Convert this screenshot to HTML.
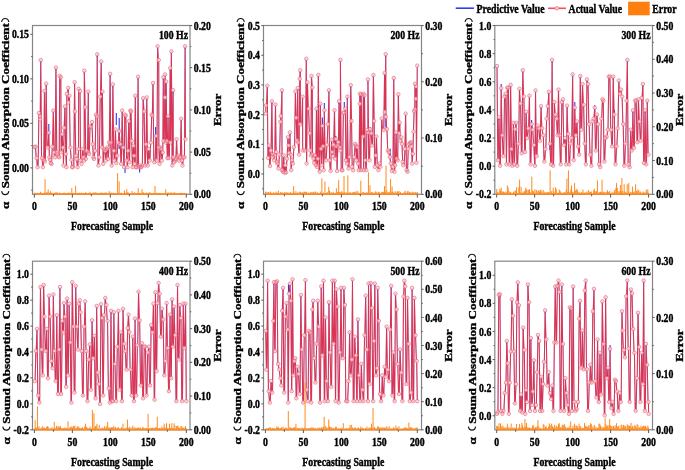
<!DOCTYPE html><html><head><meta charset="utf-8"><style>html,body{margin:0;padding:0;background:#fff;}svg{display:block;}</style></head><body><div id="w"><svg width="685" height="470" viewBox="0 0 685 470" font-family='"Liberation Serif", serif' font-weight="bold" font-size="13.3" style="will-change:transform">
<style>text{stroke:#000;stroke-width:0.45px;fill:#000}</style>
<rect width="685" height="470" fill="#fff"/>
<clipPath id="c0"><rect x="32.5" y="25.5" width="157.5" height="168.8"/></clipPath>
<g clip-path="url(#c0)">
<polyline points="34.70,147.13 35.46,146.64 36.26,158.11 36.61,158.11 37.41,167.13 37.59,167.13 38.10,167.13 38.90,113.03 39.70,116.31 39.89,116.31 40.21,119.26 40.74,60.07 41.54,158.11 42.02,158.11 42.84,167.13 43.02,167.13 43.82,159.75 44.47,91.04 44.80,161.39 45.39,161.39 46.19,83.58 46.99,147.46 47.43,147.46 47.94,147.46 48.74,132.70 49.39,157.30 50.05,159.75 50.70,163.03 51.52,163.85 52.34,146.64 52.53,146.64 53.33,110.57 53.98,152.38 54.78,157.30 54.97,157.30 55.14,157.30 55.94,67.53 56.74,152.38 56.93,152.38 57.59,154.02 58.39,156.48 58.57,156.48 59.23,157.30 59.67,75.84 60.47,77.28 60.81,77.28 61.20,152.38 61.38,152.38 62.18,134.34 62.98,147.46 63.16,147.46 63.49,165.49 64.15,127.79 64.97,106.48 65.79,154.02 66.44,167.13 66.84,93.91 67.47,93.91 68.27,87.89 68.41,102.38 68.59,102.38 69.39,95.82 70.19,147.46 70.38,147.46 71.18,159.75 71.36,159.75 72.02,167.13 73.78,167.13 74.58,82.15 74.97,111.39 75.77,155.66 75.95,155.66 76.61,158.93 77.41,167.13 77.59,167.13 77.77,167.13 78.57,149.10 78.59,88.75 79.39,91.04 80.03,91.04 80.54,160.57 81.34,163.85 81.52,163.85 81.71,163.85 82.51,149.10 83.31,157.30 83.49,157.30 84.15,160.57 84.33,70.68 85.13,107.30 85.79,158.93 85.97,158.93 86.77,150.74 87.54,150.74 88.34,91.61 88.41,152.38 89.07,154.02 89.25,154.02 90.05,126.15 90.85,126.97 91.03,126.97 91.22,126.97 92.02,122.05 92.67,144.18 93.33,157.30 93.98,158.93 94.17,158.93 94.97,150.74 95.15,150.74 95.95,114.67 96.75,116.31 96.93,116.31 97.23,54.34 98.03,165.49 98.41,165.49 99.23,157.30 99.41,157.30 100.21,96.64 100.44,96.64 101.24,61.51 102.04,147.46 102.18,147.46 102.39,91.61 103.16,163.85 103.35,163.85 104.15,149.10 104.95,150.74 105.13,150.74 105.79,160.57 105.97,160.57 106.77,149.10 107.43,147.46 108.08,158.93 108.27,158.93 109.07,142.54 109.33,142.54 110.13,73.84 110.70,142.54 111.50,165.49 111.69,165.49 112.07,165.49 112.87,84.44 113.67,150.74 113.82,150.74 114.31,160.57 114.66,160.57 115.46,129.43 116.28,163.03 116.46,163.03 117.26,155.66 117.92,142.54 118.43,142.54 119.23,131.07 120.03,144.18 120.21,144.18 121.01,163.85 121.20,163.85 121.38,163.85 122.18,110.57 122.98,147.46 123.16,147.46 123.96,167.13 124.15,167.13 124.80,114.67 125.60,115.49 125.79,115.49 126.59,160.57 126.77,160.57 127.43,167.13 128.08,150.74 128.74,121.23 129.39,162.21 129.58,162.21 130.38,110.57 131.03,111.39 131.69,140.90 132.49,167.13 132.67,167.13 133.33,145.82 133.98,155.66 134.64,163.85 135.30,95.82 135.95,167.13 137.30,167.13 138.10,76.70 138.57,167.13 138.76,167.13 139.56,165.49 140.36,167.13 140.54,167.13 141.20,167.13 141.38,167.13 142.18,165.49 142.36,165.49 143.16,98.28 143.96,111.39 144.15,111.39 144.95,165.49 145.13,165.49 145.31,165.49 146.11,144.18 146.77,97.46 147.57,165.49 147.75,165.49 147.94,165.49 148.74,149.10 149.54,160.57 149.72,160.57 149.90,160.57 150.70,142.54 150.89,142.54 151.69,114.67 152.31,115.49 153.01,83.01 153.81,162.21 154.28,162.21 155.12,162.21 155.92,135.98 156.72,160.57 156.90,160.57 157.60,46.31 158.40,60.07 158.75,60.07 158.87,147.46 159.52,163.85 159.71,163.85 160.51,147.46 161.16,149.10 161.82,160.57 162.00,160.57 162.80,152.38 163.33,77.28 163.46,140.90 164.25,140.90 165.05,74.41 165.10,97.46 165.75,142.54 166.20,81.58 166.74,140.90 167.39,158.11 168.05,116.31 168.70,158.11 169.42,158.11 170.22,68.10 170.34,142.54 170.56,142.54 171.36,51.47 172.16,165.49 172.31,165.49 173.08,90.18 173.30,157.30 174.10,162.21 174.28,162.21 174.46,162.21 175.26,160.57 175.92,158.93 176.57,139.26 177.23,157.30 177.41,157.30 178.21,155.66 179.01,160.57 179.20,160.57 179.85,157.30 180.36,157.30 181.16,118.77 181.82,160.57 182.48,165.49 182.66,165.49 183.46,157.30 183.64,157.30 184.44,157.30 185.13,46.31 185.43,139.26" fill="none" stroke="#3030f0" stroke-width="0.35" stroke-linejoin="round"/>
<path d="M48.80 124.00V135.00M116.30 113.00V125.00M119.20 118.00V149.00M125.00 166.00V173.00M139.60 166.00V172.60M155.60 127.00V137.00" stroke="#3535ee" stroke-width="1.1"/>
<polyline points="34.70,147.13 35.46,146.64 36.26,158.11 36.61,158.11 37.41,167.13 37.59,167.13 38.10,167.13 38.90,113.03 39.70,116.31 39.89,116.31 40.21,119.26 40.74,60.07 41.54,158.11 42.02,158.11 42.84,167.13 43.02,167.13 43.82,159.75 44.47,91.04 44.80,161.39 45.39,161.39 46.19,83.58 46.99,147.46 47.43,147.46 47.94,147.46 48.74,132.70 49.39,157.30 50.05,159.75 50.70,163.03 51.52,163.85 52.34,146.64 52.53,146.64 53.33,110.57 53.98,152.38 54.78,157.30 54.97,157.30 55.14,157.30 55.94,67.53 56.74,152.38 56.93,152.38 57.59,154.02 58.39,156.48 58.57,156.48 59.23,157.30 59.67,75.84 60.47,77.28 60.81,77.28 61.20,152.38 61.38,152.38 62.18,134.34 62.98,147.46 63.16,147.46 63.49,165.49 64.15,127.79 64.97,106.48 65.79,154.02 66.44,167.13 66.84,93.91 67.47,93.91 68.27,87.89 68.41,102.38 68.59,102.38 69.39,95.82 70.19,147.46 70.38,147.46 71.18,159.75 71.36,159.75 72.02,167.13 73.78,167.13 74.58,82.15 74.97,111.39 75.77,155.66 75.95,155.66 76.61,158.93 77.41,167.13 77.59,167.13 77.77,167.13 78.57,149.10 78.59,88.75 79.39,91.04 80.03,91.04 80.54,160.57 81.34,163.85 81.52,163.85 81.71,163.85 82.51,149.10 83.31,157.30 83.49,157.30 84.15,160.57 84.33,70.68 85.13,107.30 85.79,158.93 85.97,158.93 86.77,150.74 87.54,150.74 88.34,91.61 88.41,152.38 89.07,154.02 89.25,154.02 90.05,126.15 90.85,126.97 91.03,126.97 91.22,126.97 92.02,122.05 92.67,144.18 93.33,157.30 93.98,158.93 94.17,158.93 94.97,150.74 95.15,150.74 95.95,114.67 96.75,116.31 96.93,116.31 97.23,54.34 98.03,165.49 98.41,165.49 99.23,157.30 99.41,157.30 100.21,96.64 100.44,96.64 101.24,61.51 102.04,147.46 102.18,147.46 102.39,91.61 103.16,163.85 103.35,163.85 104.15,149.10 104.95,150.74 105.13,150.74 105.79,160.57 105.97,160.57 106.77,149.10 107.43,147.46 108.08,158.93 108.27,158.93 109.07,142.54 109.33,142.54 110.13,73.84 110.70,142.54 111.50,165.49 111.69,165.49 112.07,165.49 112.87,84.44 113.67,150.74 113.82,150.74 114.31,160.57 114.66,160.57 115.46,129.43 116.28,163.03 116.46,163.03 117.26,155.66 117.92,142.54 118.43,142.54 119.23,131.07 120.03,144.18 120.21,144.18 121.01,163.85 121.20,163.85 121.38,163.85 122.18,110.57 122.98,147.46 123.16,147.46 123.96,167.13 124.15,167.13 124.80,114.67 125.60,115.49 125.79,115.49 126.59,160.57 126.77,160.57 127.43,167.13 128.08,150.74 128.74,121.23 129.39,162.21 129.58,162.21 130.38,110.57 131.03,111.39 131.69,140.90 132.49,167.13 132.67,167.13 133.33,145.82 133.98,155.66 134.64,163.85 135.30,95.82 135.95,167.13 137.30,167.13 138.10,76.70 138.57,167.13 138.76,167.13 139.56,165.49 140.36,167.13 140.54,167.13 141.20,167.13 141.38,167.13 142.18,165.49 142.36,165.49 143.16,98.28 143.96,111.39 144.15,111.39 144.95,165.49 145.13,165.49 145.31,165.49 146.11,144.18 146.77,97.46 147.57,165.49 147.75,165.49 147.94,165.49 148.74,149.10 149.54,160.57 149.72,160.57 149.90,160.57 150.70,142.54 150.89,142.54 151.69,114.67 152.31,115.49 153.01,83.01 153.81,162.21 154.28,162.21 155.12,162.21 155.92,135.98 156.72,160.57 156.90,160.57 157.60,46.31 158.40,60.07 158.75,60.07 158.87,147.46 159.52,163.85 159.71,163.85 160.51,147.46 161.16,149.10 161.82,160.57 162.00,160.57 162.80,152.38 163.33,77.28 163.46,140.90 164.25,140.90 165.05,74.41 165.10,97.46 165.75,142.54 166.20,81.58 166.74,140.90 167.39,158.11 168.05,116.31 168.70,158.11 169.42,158.11 170.22,68.10 170.34,142.54 170.56,142.54 171.36,51.47 172.16,165.49 172.31,165.49 173.08,90.18 173.30,157.30 174.10,162.21 174.28,162.21 174.46,162.21 175.26,160.57 175.92,158.93 176.57,139.26 177.23,157.30 177.41,157.30 178.21,155.66 179.01,160.57 179.20,160.57 179.85,157.30 180.36,157.30 181.16,118.77 181.82,160.57 182.48,165.49 182.66,165.49 183.46,157.30 183.64,157.30 184.44,157.30 185.13,46.31 185.43,139.26" fill="none" stroke="#dc3450" stroke-width="1.05" stroke-linejoin="round"/>
<path d="M35.46 148.04V149.44M38.90 114.43V115.83M40.74 61.47V62.87M44.47 92.44V93.84M46.19 84.98V86.38M48.74 134.10V135.50M53.33 111.97V113.37M55.94 68.93V70.33M59.67 77.24V78.64M62.18 135.74V137.14M64.97 107.88V109.28M68.27 89.29V90.69M69.39 97.22V98.62M74.58 83.55V84.95M78.59 90.15V91.55M82.51 150.50V151.90M84.33 72.08V73.48M88.34 93.01V94.41M90.05 127.55V128.95M92.02 123.45V124.85M95.95 116.07V117.47M97.23 55.74V57.14M101.24 62.91V64.31M102.39 93.01V94.41M104.15 150.50V151.90M107.43 148.86V150.26M110.13 75.24V76.64M112.87 85.84V87.24M115.46 130.83V132.23M119.23 132.47V133.87M122.18 111.97V113.37M124.80 116.07V117.47M128.74 122.63V124.03M130.38 111.97V113.37M133.33 147.22V148.62M135.30 97.22V98.62M138.10 78.10V79.50M139.56 166.89V168.29M143.16 99.68V101.08M146.77 98.86V100.26M148.74 150.50V151.90M151.69 116.07V117.47M153.01 84.41V85.81M155.92 137.38V138.78M157.60 47.71V49.11M160.51 148.86V150.26M163.33 78.68V80.08M165.05 75.81V77.21M166.20 82.98V84.38M168.05 117.71V119.11M170.22 69.50V70.90M171.36 52.87V54.27M173.08 91.58V92.98M176.57 140.66V142.06M178.21 157.06V158.46M181.16 120.17V121.57M185.13 47.71V49.11" stroke="#5040e0" stroke-width="1.1" opacity="0.8"/>
<path d="M32.95 147.13a1.75 1.75 0 1 0 3.5 0a1.75 1.75 0 1 0 -3.5 0M33.71 146.64a1.75 1.75 0 1 0 3.5 0a1.75 1.75 0 1 0 -3.5 0M34.86 158.11a1.75 1.75 0 1 0 3.5 0a1.75 1.75 0 1 0 -3.5 0M35.84 167.13a1.75 1.75 0 1 0 3.5 0a1.75 1.75 0 1 0 -3.5 0M37.15 113.03a1.75 1.75 0 1 0 3.5 0a1.75 1.75 0 1 0 -3.5 0M38.14 116.31a1.75 1.75 0 1 0 3.5 0a1.75 1.75 0 1 0 -3.5 0M38.46 119.26a1.75 1.75 0 1 0 3.5 0a1.75 1.75 0 1 0 -3.5 0M38.99 60.07a1.75 1.75 0 1 0 3.5 0a1.75 1.75 0 1 0 -3.5 0M40.27 158.11a1.75 1.75 0 1 0 3.5 0a1.75 1.75 0 1 0 -3.5 0M41.09 167.13a1.75 1.75 0 1 0 3.5 0a1.75 1.75 0 1 0 -3.5 0M42.07 159.75a1.75 1.75 0 1 0 3.5 0a1.75 1.75 0 1 0 -3.5 0M42.72 91.04a1.75 1.75 0 1 0 3.5 0a1.75 1.75 0 1 0 -3.5 0M43.05 161.39a1.75 1.75 0 1 0 3.5 0a1.75 1.75 0 1 0 -3.5 0M44.44 83.58a1.75 1.75 0 1 0 3.5 0a1.75 1.75 0 1 0 -3.5 0M45.68 147.46a1.75 1.75 0 1 0 3.5 0a1.75 1.75 0 1 0 -3.5 0M46.99 132.70a1.75 1.75 0 1 0 3.5 0a1.75 1.75 0 1 0 -3.5 0M47.64 157.30a1.75 1.75 0 1 0 3.5 0a1.75 1.75 0 1 0 -3.5 0M48.30 159.75a1.75 1.75 0 1 0 3.5 0a1.75 1.75 0 1 0 -3.5 0M48.95 163.03a1.75 1.75 0 1 0 3.5 0a1.75 1.75 0 1 0 -3.5 0M49.77 163.85a1.75 1.75 0 1 0 3.5 0a1.75 1.75 0 1 0 -3.5 0M50.59 146.64a1.75 1.75 0 1 0 3.5 0a1.75 1.75 0 1 0 -3.5 0M51.58 110.57a1.75 1.75 0 1 0 3.5 0a1.75 1.75 0 1 0 -3.5 0M52.23 152.38a1.75 1.75 0 1 0 3.5 0a1.75 1.75 0 1 0 -3.5 0M53.22 157.30a1.75 1.75 0 1 0 3.5 0a1.75 1.75 0 1 0 -3.5 0M54.19 67.53a1.75 1.75 0 1 0 3.5 0a1.75 1.75 0 1 0 -3.5 0M55.18 152.38a1.75 1.75 0 1 0 3.5 0a1.75 1.75 0 1 0 -3.5 0M55.84 154.02a1.75 1.75 0 1 0 3.5 0a1.75 1.75 0 1 0 -3.5 0M56.82 156.48a1.75 1.75 0 1 0 3.5 0a1.75 1.75 0 1 0 -3.5 0M57.48 157.30a1.75 1.75 0 1 0 3.5 0a1.75 1.75 0 1 0 -3.5 0M57.92 75.84a1.75 1.75 0 1 0 3.5 0a1.75 1.75 0 1 0 -3.5 0M59.06 77.28a1.75 1.75 0 1 0 3.5 0a1.75 1.75 0 1 0 -3.5 0M59.45 152.38a1.75 1.75 0 1 0 3.5 0a1.75 1.75 0 1 0 -3.5 0M60.43 134.34a1.75 1.75 0 1 0 3.5 0a1.75 1.75 0 1 0 -3.5 0M61.41 147.46a1.75 1.75 0 1 0 3.5 0a1.75 1.75 0 1 0 -3.5 0M61.74 165.49a1.75 1.75 0 1 0 3.5 0a1.75 1.75 0 1 0 -3.5 0M62.40 127.79a1.75 1.75 0 1 0 3.5 0a1.75 1.75 0 1 0 -3.5 0M63.22 106.48a1.75 1.75 0 1 0 3.5 0a1.75 1.75 0 1 0 -3.5 0M64.04 154.02a1.75 1.75 0 1 0 3.5 0a1.75 1.75 0 1 0 -3.5 0M64.69 167.13a1.75 1.75 0 1 0 3.5 0a1.75 1.75 0 1 0 -3.5 0M65.09 93.91a1.75 1.75 0 1 0 3.5 0a1.75 1.75 0 1 0 -3.5 0M66.52 87.89a1.75 1.75 0 1 0 3.5 0a1.75 1.75 0 1 0 -3.5 0M66.66 102.38a1.75 1.75 0 1 0 3.5 0a1.75 1.75 0 1 0 -3.5 0M67.64 95.82a1.75 1.75 0 1 0 3.5 0a1.75 1.75 0 1 0 -3.5 0M68.63 147.46a1.75 1.75 0 1 0 3.5 0a1.75 1.75 0 1 0 -3.5 0M69.61 159.75a1.75 1.75 0 1 0 3.5 0a1.75 1.75 0 1 0 -3.5 0M70.27 167.13a1.75 1.75 0 1 0 3.5 0a1.75 1.75 0 1 0 -3.5 0M72.83 82.15a1.75 1.75 0 1 0 3.5 0a1.75 1.75 0 1 0 -3.5 0M73.22 111.39a1.75 1.75 0 1 0 3.5 0a1.75 1.75 0 1 0 -3.5 0M74.20 155.66a1.75 1.75 0 1 0 3.5 0a1.75 1.75 0 1 0 -3.5 0M74.86 158.93a1.75 1.75 0 1 0 3.5 0a1.75 1.75 0 1 0 -3.5 0M75.84 167.13a1.75 1.75 0 1 0 3.5 0a1.75 1.75 0 1 0 -3.5 0M76.82 149.10a1.75 1.75 0 1 0 3.5 0a1.75 1.75 0 1 0 -3.5 0M76.84 88.75a1.75 1.75 0 1 0 3.5 0a1.75 1.75 0 1 0 -3.5 0M78.28 91.04a1.75 1.75 0 1 0 3.5 0a1.75 1.75 0 1 0 -3.5 0M78.79 160.57a1.75 1.75 0 1 0 3.5 0a1.75 1.75 0 1 0 -3.5 0M79.77 163.85a1.75 1.75 0 1 0 3.5 0a1.75 1.75 0 1 0 -3.5 0M80.76 149.10a1.75 1.75 0 1 0 3.5 0a1.75 1.75 0 1 0 -3.5 0M81.74 157.30a1.75 1.75 0 1 0 3.5 0a1.75 1.75 0 1 0 -3.5 0M82.40 160.57a1.75 1.75 0 1 0 3.5 0a1.75 1.75 0 1 0 -3.5 0M82.58 70.68a1.75 1.75 0 1 0 3.5 0a1.75 1.75 0 1 0 -3.5 0M83.38 107.30a1.75 1.75 0 1 0 3.5 0a1.75 1.75 0 1 0 -3.5 0M84.04 158.93a1.75 1.75 0 1 0 3.5 0a1.75 1.75 0 1 0 -3.5 0M85.02 150.74a1.75 1.75 0 1 0 3.5 0a1.75 1.75 0 1 0 -3.5 0M86.59 91.61a1.75 1.75 0 1 0 3.5 0a1.75 1.75 0 1 0 -3.5 0M86.66 152.38a1.75 1.75 0 1 0 3.5 0a1.75 1.75 0 1 0 -3.5 0M87.32 154.02a1.75 1.75 0 1 0 3.5 0a1.75 1.75 0 1 0 -3.5 0M88.30 126.15a1.75 1.75 0 1 0 3.5 0a1.75 1.75 0 1 0 -3.5 0M89.28 126.97a1.75 1.75 0 1 0 3.5 0a1.75 1.75 0 1 0 -3.5 0M90.27 122.05a1.75 1.75 0 1 0 3.5 0a1.75 1.75 0 1 0 -3.5 0M90.92 144.18a1.75 1.75 0 1 0 3.5 0a1.75 1.75 0 1 0 -3.5 0M91.58 157.30a1.75 1.75 0 1 0 3.5 0a1.75 1.75 0 1 0 -3.5 0M92.23 158.93a1.75 1.75 0 1 0 3.5 0a1.75 1.75 0 1 0 -3.5 0M93.22 150.74a1.75 1.75 0 1 0 3.5 0a1.75 1.75 0 1 0 -3.5 0M94.20 114.67a1.75 1.75 0 1 0 3.5 0a1.75 1.75 0 1 0 -3.5 0M95.18 116.31a1.75 1.75 0 1 0 3.5 0a1.75 1.75 0 1 0 -3.5 0M95.48 54.34a1.75 1.75 0 1 0 3.5 0a1.75 1.75 0 1 0 -3.5 0M96.66 165.49a1.75 1.75 0 1 0 3.5 0a1.75 1.75 0 1 0 -3.5 0M97.48 157.30a1.75 1.75 0 1 0 3.5 0a1.75 1.75 0 1 0 -3.5 0M98.46 96.64a1.75 1.75 0 1 0 3.5 0a1.75 1.75 0 1 0 -3.5 0M99.49 61.51a1.75 1.75 0 1 0 3.5 0a1.75 1.75 0 1 0 -3.5 0M100.43 147.46a1.75 1.75 0 1 0 3.5 0a1.75 1.75 0 1 0 -3.5 0M100.64 91.61a1.75 1.75 0 1 0 3.5 0a1.75 1.75 0 1 0 -3.5 0M101.41 163.85a1.75 1.75 0 1 0 3.5 0a1.75 1.75 0 1 0 -3.5 0M102.40 149.10a1.75 1.75 0 1 0 3.5 0a1.75 1.75 0 1 0 -3.5 0M103.38 150.74a1.75 1.75 0 1 0 3.5 0a1.75 1.75 0 1 0 -3.5 0M104.04 160.57a1.75 1.75 0 1 0 3.5 0a1.75 1.75 0 1 0 -3.5 0M105.02 149.10a1.75 1.75 0 1 0 3.5 0a1.75 1.75 0 1 0 -3.5 0M105.68 147.46a1.75 1.75 0 1 0 3.5 0a1.75 1.75 0 1 0 -3.5 0M106.33 158.93a1.75 1.75 0 1 0 3.5 0a1.75 1.75 0 1 0 -3.5 0M107.32 142.54a1.75 1.75 0 1 0 3.5 0a1.75 1.75 0 1 0 -3.5 0M108.38 73.84a1.75 1.75 0 1 0 3.5 0a1.75 1.75 0 1 0 -3.5 0M108.95 142.54a1.75 1.75 0 1 0 3.5 0a1.75 1.75 0 1 0 -3.5 0M109.94 165.49a1.75 1.75 0 1 0 3.5 0a1.75 1.75 0 1 0 -3.5 0M111.12 84.44a1.75 1.75 0 1 0 3.5 0a1.75 1.75 0 1 0 -3.5 0M112.07 150.74a1.75 1.75 0 1 0 3.5 0a1.75 1.75 0 1 0 -3.5 0M112.56 160.57a1.75 1.75 0 1 0 3.5 0a1.75 1.75 0 1 0 -3.5 0M113.71 129.43a1.75 1.75 0 1 0 3.5 0a1.75 1.75 0 1 0 -3.5 0M114.53 163.03a1.75 1.75 0 1 0 3.5 0a1.75 1.75 0 1 0 -3.5 0M115.51 155.66a1.75 1.75 0 1 0 3.5 0a1.75 1.75 0 1 0 -3.5 0M116.17 142.54a1.75 1.75 0 1 0 3.5 0a1.75 1.75 0 1 0 -3.5 0M117.48 131.07a1.75 1.75 0 1 0 3.5 0a1.75 1.75 0 1 0 -3.5 0M118.46 144.18a1.75 1.75 0 1 0 3.5 0a1.75 1.75 0 1 0 -3.5 0M119.45 163.85a1.75 1.75 0 1 0 3.5 0a1.75 1.75 0 1 0 -3.5 0M120.43 110.57a1.75 1.75 0 1 0 3.5 0a1.75 1.75 0 1 0 -3.5 0M121.41 147.46a1.75 1.75 0 1 0 3.5 0a1.75 1.75 0 1 0 -3.5 0M122.40 167.13a1.75 1.75 0 1 0 3.5 0a1.75 1.75 0 1 0 -3.5 0M123.05 114.67a1.75 1.75 0 1 0 3.5 0a1.75 1.75 0 1 0 -3.5 0M124.04 115.49a1.75 1.75 0 1 0 3.5 0a1.75 1.75 0 1 0 -3.5 0M125.02 160.57a1.75 1.75 0 1 0 3.5 0a1.75 1.75 0 1 0 -3.5 0M125.68 167.13a1.75 1.75 0 1 0 3.5 0a1.75 1.75 0 1 0 -3.5 0M126.33 150.74a1.75 1.75 0 1 0 3.5 0a1.75 1.75 0 1 0 -3.5 0M126.99 121.23a1.75 1.75 0 1 0 3.5 0a1.75 1.75 0 1 0 -3.5 0M127.64 162.21a1.75 1.75 0 1 0 3.5 0a1.75 1.75 0 1 0 -3.5 0M128.63 110.57a1.75 1.75 0 1 0 3.5 0a1.75 1.75 0 1 0 -3.5 0M129.28 111.39a1.75 1.75 0 1 0 3.5 0a1.75 1.75 0 1 0 -3.5 0M129.94 140.90a1.75 1.75 0 1 0 3.5 0a1.75 1.75 0 1 0 -3.5 0M130.92 167.13a1.75 1.75 0 1 0 3.5 0a1.75 1.75 0 1 0 -3.5 0M131.58 145.82a1.75 1.75 0 1 0 3.5 0a1.75 1.75 0 1 0 -3.5 0M132.23 155.66a1.75 1.75 0 1 0 3.5 0a1.75 1.75 0 1 0 -3.5 0M132.89 163.85a1.75 1.75 0 1 0 3.5 0a1.75 1.75 0 1 0 -3.5 0M133.55 95.82a1.75 1.75 0 1 0 3.5 0a1.75 1.75 0 1 0 -3.5 0M134.20 167.13a1.75 1.75 0 1 0 3.5 0a1.75 1.75 0 1 0 -3.5 0M136.35 76.70a1.75 1.75 0 1 0 3.5 0a1.75 1.75 0 1 0 -3.5 0M136.82 167.13a1.75 1.75 0 1 0 3.5 0a1.75 1.75 0 1 0 -3.5 0M137.81 165.49a1.75 1.75 0 1 0 3.5 0a1.75 1.75 0 1 0 -3.5 0M138.79 167.13a1.75 1.75 0 1 0 3.5 0a1.75 1.75 0 1 0 -3.5 0M139.45 167.13a1.75 1.75 0 1 0 3.5 0a1.75 1.75 0 1 0 -3.5 0M140.43 165.49a1.75 1.75 0 1 0 3.5 0a1.75 1.75 0 1 0 -3.5 0M141.41 98.28a1.75 1.75 0 1 0 3.5 0a1.75 1.75 0 1 0 -3.5 0M142.40 111.39a1.75 1.75 0 1 0 3.5 0a1.75 1.75 0 1 0 -3.5 0M143.38 165.49a1.75 1.75 0 1 0 3.5 0a1.75 1.75 0 1 0 -3.5 0M144.36 144.18a1.75 1.75 0 1 0 3.5 0a1.75 1.75 0 1 0 -3.5 0M145.02 97.46a1.75 1.75 0 1 0 3.5 0a1.75 1.75 0 1 0 -3.5 0M146.00 165.49a1.75 1.75 0 1 0 3.5 0a1.75 1.75 0 1 0 -3.5 0M146.99 149.10a1.75 1.75 0 1 0 3.5 0a1.75 1.75 0 1 0 -3.5 0M147.97 160.57a1.75 1.75 0 1 0 3.5 0a1.75 1.75 0 1 0 -3.5 0M148.95 142.54a1.75 1.75 0 1 0 3.5 0a1.75 1.75 0 1 0 -3.5 0M149.94 114.67a1.75 1.75 0 1 0 3.5 0a1.75 1.75 0 1 0 -3.5 0M150.56 115.49a1.75 1.75 0 1 0 3.5 0a1.75 1.75 0 1 0 -3.5 0M151.26 83.01a1.75 1.75 0 1 0 3.5 0a1.75 1.75 0 1 0 -3.5 0M152.53 162.21a1.75 1.75 0 1 0 3.5 0a1.75 1.75 0 1 0 -3.5 0M154.17 135.98a1.75 1.75 0 1 0 3.5 0a1.75 1.75 0 1 0 -3.5 0M155.15 160.57a1.75 1.75 0 1 0 3.5 0a1.75 1.75 0 1 0 -3.5 0M155.85 46.31a1.75 1.75 0 1 0 3.5 0a1.75 1.75 0 1 0 -3.5 0M157.00 60.07a1.75 1.75 0 1 0 3.5 0a1.75 1.75 0 1 0 -3.5 0M157.12 147.46a1.75 1.75 0 1 0 3.5 0a1.75 1.75 0 1 0 -3.5 0M157.77 163.85a1.75 1.75 0 1 0 3.5 0a1.75 1.75 0 1 0 -3.5 0M158.76 147.46a1.75 1.75 0 1 0 3.5 0a1.75 1.75 0 1 0 -3.5 0M159.41 149.10a1.75 1.75 0 1 0 3.5 0a1.75 1.75 0 1 0 -3.5 0M160.07 160.57a1.75 1.75 0 1 0 3.5 0a1.75 1.75 0 1 0 -3.5 0M161.05 152.38a1.75 1.75 0 1 0 3.5 0a1.75 1.75 0 1 0 -3.5 0M161.58 77.28a1.75 1.75 0 1 0 3.5 0a1.75 1.75 0 1 0 -3.5 0M161.71 140.90a1.75 1.75 0 1 0 3.5 0a1.75 1.75 0 1 0 -3.5 0M163.30 74.41a1.75 1.75 0 1 0 3.5 0a1.75 1.75 0 1 0 -3.5 0M163.35 97.46a1.75 1.75 0 1 0 3.5 0a1.75 1.75 0 1 0 -3.5 0M164.00 142.54a1.75 1.75 0 1 0 3.5 0a1.75 1.75 0 1 0 -3.5 0M164.45 81.58a1.75 1.75 0 1 0 3.5 0a1.75 1.75 0 1 0 -3.5 0M164.99 140.90a1.75 1.75 0 1 0 3.5 0a1.75 1.75 0 1 0 -3.5 0M165.64 158.11a1.75 1.75 0 1 0 3.5 0a1.75 1.75 0 1 0 -3.5 0M166.30 116.31a1.75 1.75 0 1 0 3.5 0a1.75 1.75 0 1 0 -3.5 0M166.95 158.11a1.75 1.75 0 1 0 3.5 0a1.75 1.75 0 1 0 -3.5 0M168.47 68.10a1.75 1.75 0 1 0 3.5 0a1.75 1.75 0 1 0 -3.5 0M168.59 142.54a1.75 1.75 0 1 0 3.5 0a1.75 1.75 0 1 0 -3.5 0M169.61 51.47a1.75 1.75 0 1 0 3.5 0a1.75 1.75 0 1 0 -3.5 0M170.56 165.49a1.75 1.75 0 1 0 3.5 0a1.75 1.75 0 1 0 -3.5 0M171.33 90.18a1.75 1.75 0 1 0 3.5 0a1.75 1.75 0 1 0 -3.5 0M171.55 157.30a1.75 1.75 0 1 0 3.5 0a1.75 1.75 0 1 0 -3.5 0M172.53 162.21a1.75 1.75 0 1 0 3.5 0a1.75 1.75 0 1 0 -3.5 0M173.51 160.57a1.75 1.75 0 1 0 3.5 0a1.75 1.75 0 1 0 -3.5 0M174.17 158.93a1.75 1.75 0 1 0 3.5 0a1.75 1.75 0 1 0 -3.5 0M174.82 139.26a1.75 1.75 0 1 0 3.5 0a1.75 1.75 0 1 0 -3.5 0M175.48 157.30a1.75 1.75 0 1 0 3.5 0a1.75 1.75 0 1 0 -3.5 0M176.46 155.66a1.75 1.75 0 1 0 3.5 0a1.75 1.75 0 1 0 -3.5 0M177.45 160.57a1.75 1.75 0 1 0 3.5 0a1.75 1.75 0 1 0 -3.5 0M178.10 157.30a1.75 1.75 0 1 0 3.5 0a1.75 1.75 0 1 0 -3.5 0M179.41 118.77a1.75 1.75 0 1 0 3.5 0a1.75 1.75 0 1 0 -3.5 0M180.07 160.57a1.75 1.75 0 1 0 3.5 0a1.75 1.75 0 1 0 -3.5 0M180.73 165.49a1.75 1.75 0 1 0 3.5 0a1.75 1.75 0 1 0 -3.5 0M181.71 157.30a1.75 1.75 0 1 0 3.5 0a1.75 1.75 0 1 0 -3.5 0M182.69 157.30a1.75 1.75 0 1 0 3.5 0a1.75 1.75 0 1 0 -3.5 0M183.38 46.31a1.75 1.75 0 1 0 3.5 0a1.75 1.75 0 1 0 -3.5 0M183.68 139.26a1.75 1.75 0 1 0 3.5 0a1.75 1.75 0 1 0 -3.5 0M71.00 167.13a1.75 1.75 0 1 0 3.5 0a1.75 1.75 0 1 0 -3.5 0M134.80 167.13a1.75 1.75 0 1 0 3.5 0a1.75 1.75 0 1 0 -3.5 0" fill="#fbe2e5" fill-opacity="0.8" stroke="#ec6c7c" stroke-width="0.7"/>
</g>
<rect x="32.5" y="25.5" width="157.5" height="168.8" fill="none" stroke="#858585" stroke-width="1.2"/>
<path d="M34.40 194.90V192.88M35.16 194.90V192.67M35.93 194.90V192.99M36.69 194.90V193.13M37.45 194.90V192.84M38.22 194.90V193.27M38.98 194.90V193.22M39.74 194.90V192.93M40.51 194.90V191.76M41.27 194.90V193.21M42.03 194.90V192.85M42.80 194.90V193.01M43.56 194.90V193.15M44.32 194.90V192.56M45.09 194.90V179.07M45.85 194.90V193.07M46.61 194.90V192.22M47.38 194.90V192.61M48.14 194.90V189.45M48.90 194.90V192.40M49.67 194.90V193.03M50.43 194.90V191.07M51.19 194.90V192.75M51.96 194.90V192.89M52.72 194.90V193.10M53.48 194.90V193.26M54.25 194.90V192.73M55.01 194.90V193.05M55.77 194.90V192.30M56.54 194.90V192.69M57.30 194.90V192.41M58.06 194.90V193.17M58.83 194.90V193.25M59.59 194.90V192.49M60.35 194.90V193.23M61.12 194.90V193.28M61.88 194.90V193.21M62.64 194.90V192.85M63.41 194.90V193.00M64.17 194.90V192.70M64.93 194.90V192.78M65.70 194.90V193.30M66.46 194.90V193.07M67.22 194.90V193.05M67.99 194.90V192.89M68.75 194.90V192.49M69.51 194.90V193.09M70.28 194.90V192.76M71.04 194.90V193.22M71.80 194.90V188.07M72.57 194.90V193.14M73.33 194.90V192.84M74.09 194.90V192.95M74.86 194.90V193.11M75.62 194.90V185.76M76.38 194.90V193.25M77.15 194.90V192.86M77.91 194.90V192.94M78.67 194.90V193.15M79.44 194.90V192.75M80.20 194.90V193.08M80.96 194.90V192.78M81.73 194.90V192.70M82.49 194.90V193.16M83.25 194.90V192.88M84.02 194.90V193.04M84.78 194.90V192.94M85.54 194.90V192.22M86.31 194.90V192.97M87.07 194.90V193.13M87.83 194.90V193.19M88.60 194.90V193.03M89.36 194.90V192.80M90.12 194.90V191.76M90.89 194.90V193.11M91.65 194.90V193.27M92.41 194.90V193.26M93.18 194.90V192.38M93.94 194.90V192.53M94.70 194.90V192.90M95.47 194.90V192.48M96.23 194.90V192.69M96.99 194.90V192.87M97.76 194.90V193.19M98.52 194.90V193.20M99.28 194.90V192.95M100.05 194.90V192.97M100.81 194.90V192.49M101.57 194.90V192.83M102.34 194.90V192.93M103.10 194.90V192.74M103.86 194.90V193.12M104.63 194.90V192.67M105.39 194.90V193.10M106.15 194.90V192.30M106.92 194.90V193.28M107.68 194.90V193.25M108.44 194.90V193.12M109.21 194.90V191.07M109.97 194.90V192.96M110.73 194.90V192.71M111.49 194.90V192.67M112.26 194.90V193.27M113.02 194.90V192.57M113.78 194.90V193.06M114.55 194.90V193.09M115.31 194.90V193.19M116.07 194.90V192.91M116.84 194.90V193.22M117.60 194.90V173.07M118.36 194.90V192.88M119.13 194.90V181.38M119.89 194.90V192.74M120.65 194.90V193.14M121.42 194.90V192.83M122.18 194.90V193.00M122.94 194.90V193.26M123.71 194.90V193.21M124.47 194.90V190.38M125.23 194.90V192.84M126.00 194.90V192.90M126.76 194.90V189.22M127.52 194.90V192.43M128.29 194.90V192.38M129.05 194.90V193.21M129.81 194.90V193.28M130.58 194.90V193.02M131.34 194.90V193.23M132.10 194.90V191.07M132.87 194.90V193.08M133.63 194.90V192.97M134.39 194.90V192.30M135.16 194.90V192.83M135.92 194.90V193.23M136.68 194.90V193.02M137.45 194.90V193.09M138.21 194.90V188.30M138.97 194.90V192.66M139.74 194.90V193.13M140.50 194.90V193.07M141.26 194.90V193.17M142.03 194.90V189.22M142.79 194.90V192.22M143.55 194.90V192.51M144.32 194.90V193.17M145.08 194.90V192.90M145.84 194.90V193.20M146.61 194.90V192.45M147.37 194.90V193.06M148.13 194.90V193.17M148.90 194.90V192.75M149.66 194.90V192.26M150.42 194.90V192.67M151.19 194.90V193.06M151.95 194.90V193.07M152.71 194.90V192.96M153.48 194.90V193.30M154.24 194.90V192.69M155.00 194.90V185.99M155.77 194.90V193.20M156.53 194.90V192.85M157.29 194.90V193.22M158.06 194.90V192.81M158.82 194.90V193.07M159.58 194.90V193.14M160.35 194.90V192.91M161.11 194.90V193.12M161.87 194.90V193.01M162.64 194.90V193.23M163.40 194.90V193.27M164.16 194.90V193.28M164.93 194.90V192.89M165.69 194.90V189.22M166.45 194.90V193.20M167.22 194.90V193.23M167.98 194.90V192.19M168.74 194.90V193.08M169.51 194.90V193.00M170.27 194.90V192.61M171.03 194.90V192.46M171.80 194.90V192.88M172.56 194.90V192.83M173.32 194.90V193.20M174.09 194.90V192.22M174.85 194.90V192.74M175.61 194.90V192.97M176.38 194.90V193.01M177.14 194.90V193.30M177.90 194.90V193.13M178.67 194.90V193.01M179.43 194.90V193.01M180.19 194.90V192.97M180.96 194.90V192.89M181.72 194.90V192.89M182.48 194.90V192.91M183.25 194.90V193.07M184.01 194.90V193.16M184.77 194.90V192.85M185.54 194.90V193.23M186.30 194.90V193.18" stroke="#ff8a20" stroke-width="1.0" fill="none"/>
<path d="M30.30 167.86H32.5M30.30 123.34H32.5M30.30 78.83H32.5M30.30 34.31H32.5M31.20 190.12H32.5M31.20 145.60H32.5M31.20 101.09H32.5M31.20 56.57H32.5M190.00 194.30H192.20M190.00 152.10H192.20M190.00 109.90H192.20M190.00 67.70H192.20M190.00 25.50H192.20M190.00 173.20H191.30M190.00 131.00H191.30M190.00 88.80H191.30M190.00 46.60H191.30M34.40 194.3V197.60M72.38 194.3V197.60M110.35 194.3V197.60M148.32 194.3V197.60M186.30 194.3V197.60M53.39 194.3V196.30M91.36 194.3V196.30M129.34 194.3V196.30M167.31 194.3V196.30" stroke="#5a5a5a" stroke-width="1"/>
<text transform="translate(29.00,171.96) scale(0.735,1)" text-anchor="end">0.00</text>
<text transform="translate(29.00,127.44) scale(0.735,1)" text-anchor="end">0.05</text>
<text transform="translate(29.00,82.93) scale(0.735,1)" text-anchor="end">0.10</text>
<text transform="translate(29.00,38.41) scale(0.735,1)" text-anchor="end">0.15</text>
<text transform="translate(193.80,198.40) scale(0.735,1)" text-anchor="start">0.00</text>
<text transform="translate(193.80,156.20) scale(0.735,1)" text-anchor="start">0.05</text>
<text transform="translate(193.80,114.00) scale(0.735,1)" text-anchor="start">0.10</text>
<text transform="translate(193.80,71.80) scale(0.735,1)" text-anchor="start">0.15</text>
<text transform="translate(193.80,29.60) scale(0.735,1)" text-anchor="start">0.20</text>
<text transform="translate(34.40,210.00) scale(0.735,1)" text-anchor="middle">0</text>
<text transform="translate(72.38,210.00) scale(0.735,1)" text-anchor="middle">50</text>
<text transform="translate(110.35,210.00) scale(0.735,1)" text-anchor="middle">100</text>
<text transform="translate(148.32,210.00) scale(0.735,1)" text-anchor="middle">150</text>
<text transform="translate(186.30,210.00) scale(0.735,1)" text-anchor="middle">200</text>
<text transform="translate(112.10,230.10) scale(0.735,1)" text-anchor="middle">Forecasting Sample</text>
<text transform="translate(188.00,39.40) scale(0.735,1)" text-anchor="end">100 Hz</text>
<text transform="translate(8.90,209.00) rotate(-90) scale(1,0.78)" text-anchor="start" font-size="13.05">α</text>
<path d="M1.60 191.10C2.30 195.80 8.10 195.80 8.80 191.10" fill="none" stroke="#111" stroke-width="1.1"/>
<text transform="translate(8.90,188.30) rotate(-90) scale(1,0.78)" text-anchor="start" font-size="13.05">Sound Absorption Coefficient</text>
<path d="M1.60 22.00C2.30 17.30 8.10 17.30 8.80 22.00" fill="none" stroke="#111" stroke-width="1.1"/>
<text transform="translate(220.70,109.90) rotate(-90) scale(1,0.78)" text-anchor="middle" font-size="13.05">Error</text>
<clipPath id="c1"><rect x="263.5" y="25.5" width="158.0" height="168.8"/></clipPath>
<g clip-path="url(#c1)">
<polyline points="265.70,113.57 265.97,105.38 266.50,105.38 267.30,85.72 267.93,157.84 268.12,157.84 268.92,145.54 269.72,166.03 269.90,166.03 270.09,166.03 270.89,150.46 271.07,150.46 271.87,101.28 272.52,157.02 273.18,154.56 273.98,160.30 274.16,160.30 274.82,155.38 275.48,104.56 276.13,152.10 276.79,161.93 277.44,163.57 278.24,168.49 278.43,168.49 278.61,168.49 279.41,154.56 279.59,154.56 280.39,121.77 280.72,116.03 281.12,116.03 281.92,90.30 282.03,170.13 282.83,171.77 283.02,171.77 283.67,155.38 284.47,172.59 284.66,172.59 285.31,165.21 285.97,172.59 286.15,172.59 286.95,158.66 287.13,158.66 287.93,137.34 288.59,145.54 289.25,152.92 289.90,132.43 290.56,154.56 291.21,170.13 291.87,160.30 292.67,163.57 292.85,163.57 293.04,163.57 293.84,147.18 294.60,147.18 295.40,91.45 296.13,117.67 296.93,140.62 297.11,140.62 297.70,88.01 298.10,142.26 298.90,154.56 299.08,154.56 299.70,78.84 300.28,70.23 300.39,124.23 301.77,124.23 302.57,96.61 302.69,150.46 304.02,150.46 304.82,150.46 305.50,150.46 306.30,58.76 306.62,163.57 307.44,82.28 308.24,108.66 308.59,108.66 309.39,133.25 309.57,133.25 310.23,150.46 310.89,155.38 311.46,75.97 312.26,87.44 312.32,87.44 312.52,154.56 313.32,158.66 313.51,158.66 314.16,162.75 314.82,155.38 315.62,165.21 315.80,165.21 316.46,108.66 317.11,166.85 317.77,158.66 318.34,74.82 319.14,171.77 319.74,171.77 320.39,103.74 321.05,148.82 321.70,165.21 322.36,125.87 323.02,146.36 323.67,170.13 324.33,110.30 325.13,160.30 325.97,160.30 326.15,160.30 326.95,144.72 327.13,144.72 327.93,124.23 328.15,124.23 328.95,90.30 329.57,160.30 330.37,170.95 330.56,170.95 330.74,170.95 331.54,139.80 332.20,152.10 332.85,156.20 333.51,144.72 333.69,144.72 334.49,110.30 335.15,158.66 335.80,138.98 336.46,146.36 337.11,170.95 337.77,145.54 338.43,142.26 339.08,101.28 339.74,147.18 340.39,150.46 340.42,59.91 341.22,170.13 342.36,170.13 342.54,170.13 343.34,112.75 344.51,112.75 345.31,108.66 345.97,160.30 346.77,163.57 346.95,163.57 347.31,96.61 348.11,168.49 348.59,168.49 348.77,168.49 349.57,157.02 349.95,157.02 350.75,85.14 351.54,120.95 352.20,166.85 353.00,170.13 353.18,170.13 353.36,170.13 354.16,157.02 354.35,157.02 355.15,143.90 355.80,145.54 356.46,160.30 357.11,147.18 357.91,163.57 358.10,163.57 358.75,170.13 358.94,170.13 359.74,103.74 359.92,93.75 360.72,170.13 361.05,170.13 361.07,94.32 361.87,136.52 363.02,136.52 363.37,93.75 363.67,170.13 364.51,95.18 365.31,160.30 366.11,170.13 366.30,170.13 366.95,129.97 367.75,132.43 367.93,132.43 367.95,79.41 368.75,160.30 369.57,160.30 370.23,129.15 371.03,133.25 371.21,133.25 372.01,145.54 372.20,145.54 372.60,145.54 373.40,75.11 374.16,120.95 374.82,166.85 375.00,166.85 375.80,155.38 376.46,136.52 377.26,165.21 377.44,165.21 378.24,170.13 378.43,170.13 378.61,170.13 379.41,163.57 380.21,166.85 380.39,166.85 380.90,166.85 381.70,118.49 382.50,129.97 383.64,129.97 383.78,129.97 384.58,73.10 384.62,111.93 384.93,111.93 385.73,54.18 385.93,116.85 386.73,129.15 386.92,129.15 387.72,150.46 387.90,150.46 388.70,152.10 388.89,152.10 389.69,157.02 389.87,157.02 390.67,163.57 390.85,163.57 391.65,170.95 391.84,170.95 392.02,170.95 392.82,166.85 392.96,166.85 393.76,77.97 394.46,171.77 395.11,165.21 395.30,165.21 396.10,132.43 396.75,158.66 397.55,160.30 397.74,160.30 398.35,94.32 399.05,133.25 399.70,122.59 400.36,140.62 400.54,140.62 401.34,137.34 402.00,143.90 402.66,161.93 403.31,165.21 404.15,165.21 404.95,148.82 405.61,113.57 406.41,170.13 406.59,170.13 407.39,171.77 407.57,171.77 408.23,148.82 408.41,148.82 409.21,143.90 409.40,143.90 410.20,143.08 410.85,142.26 411.51,146.36 412.16,163.57 412.82,153.74 413.48,131.61 414.13,111.11 414.79,109.48 414.98,83.71 415.77,98.82 416.13,86.58 416.43,162.75 417.27,65.65" fill="none" stroke="#3030f0" stroke-width="0.35" stroke-linejoin="round"/>
<path d="M322.40 117.50V126.00M324.30 103.00V110.50M335.80 136.00V141.00M344.30 102.00V109.00M370.20 127.00V132.00M385.90 114.40V127.50M390.20 148.80V157.00" stroke="#3535ee" stroke-width="1.1"/>
<polyline points="265.70,113.57 265.97,105.38 266.50,105.38 267.30,85.72 267.93,157.84 268.12,157.84 268.92,145.54 269.72,166.03 269.90,166.03 270.09,166.03 270.89,150.46 271.07,150.46 271.87,101.28 272.52,157.02 273.18,154.56 273.98,160.30 274.16,160.30 274.82,155.38 275.48,104.56 276.13,152.10 276.79,161.93 277.44,163.57 278.24,168.49 278.43,168.49 278.61,168.49 279.41,154.56 279.59,154.56 280.39,121.77 280.72,116.03 281.12,116.03 281.92,90.30 282.03,170.13 282.83,171.77 283.02,171.77 283.67,155.38 284.47,172.59 284.66,172.59 285.31,165.21 285.97,172.59 286.15,172.59 286.95,158.66 287.13,158.66 287.93,137.34 288.59,145.54 289.25,152.92 289.90,132.43 290.56,154.56 291.21,170.13 291.87,160.30 292.67,163.57 292.85,163.57 293.04,163.57 293.84,147.18 294.60,147.18 295.40,91.45 296.13,117.67 296.93,140.62 297.11,140.62 297.70,88.01 298.10,142.26 298.90,154.56 299.08,154.56 299.70,78.84 300.28,70.23 300.39,124.23 301.77,124.23 302.57,96.61 302.69,150.46 304.02,150.46 304.82,150.46 305.50,150.46 306.30,58.76 306.62,163.57 307.44,82.28 308.24,108.66 308.59,108.66 309.39,133.25 309.57,133.25 310.23,150.46 310.89,155.38 311.46,75.97 312.26,87.44 312.32,87.44 312.52,154.56 313.32,158.66 313.51,158.66 314.16,162.75 314.82,155.38 315.62,165.21 315.80,165.21 316.46,108.66 317.11,166.85 317.77,158.66 318.34,74.82 319.14,171.77 319.74,171.77 320.39,103.74 321.05,148.82 321.70,165.21 322.36,125.87 323.02,146.36 323.67,170.13 324.33,110.30 325.13,160.30 325.97,160.30 326.15,160.30 326.95,144.72 327.13,144.72 327.93,124.23 328.15,124.23 328.95,90.30 329.57,160.30 330.37,170.95 330.56,170.95 330.74,170.95 331.54,139.80 332.20,152.10 332.85,156.20 333.51,144.72 333.69,144.72 334.49,110.30 335.15,158.66 335.80,138.98 336.46,146.36 337.11,170.95 337.77,145.54 338.43,142.26 339.08,101.28 339.74,147.18 340.39,150.46 340.42,59.91 341.22,170.13 342.36,170.13 342.54,170.13 343.34,112.75 344.51,112.75 345.31,108.66 345.97,160.30 346.77,163.57 346.95,163.57 347.31,96.61 348.11,168.49 348.59,168.49 348.77,168.49 349.57,157.02 349.95,157.02 350.75,85.14 351.54,120.95 352.20,166.85 353.00,170.13 353.18,170.13 353.36,170.13 354.16,157.02 354.35,157.02 355.15,143.90 355.80,145.54 356.46,160.30 357.11,147.18 357.91,163.57 358.10,163.57 358.75,170.13 358.94,170.13 359.74,103.74 359.92,93.75 360.72,170.13 361.05,170.13 361.07,94.32 361.87,136.52 363.02,136.52 363.37,93.75 363.67,170.13 364.51,95.18 365.31,160.30 366.11,170.13 366.30,170.13 366.95,129.97 367.75,132.43 367.93,132.43 367.95,79.41 368.75,160.30 369.57,160.30 370.23,129.15 371.03,133.25 371.21,133.25 372.01,145.54 372.20,145.54 372.60,145.54 373.40,75.11 374.16,120.95 374.82,166.85 375.00,166.85 375.80,155.38 376.46,136.52 377.26,165.21 377.44,165.21 378.24,170.13 378.43,170.13 378.61,170.13 379.41,163.57 380.21,166.85 380.39,166.85 380.90,166.85 381.70,118.49 382.50,129.97 383.64,129.97 383.78,129.97 384.58,73.10 384.62,111.93 384.93,111.93 385.73,54.18 385.93,116.85 386.73,129.15 386.92,129.15 387.72,150.46 387.90,150.46 388.70,152.10 388.89,152.10 389.69,157.02 389.87,157.02 390.67,163.57 390.85,163.57 391.65,170.95 391.84,170.95 392.02,170.95 392.82,166.85 392.96,166.85 393.76,77.97 394.46,171.77 395.11,165.21 395.30,165.21 396.10,132.43 396.75,158.66 397.55,160.30 397.74,160.30 398.35,94.32 399.05,133.25 399.70,122.59 400.36,140.62 400.54,140.62 401.34,137.34 402.00,143.90 402.66,161.93 403.31,165.21 404.15,165.21 404.95,148.82 405.61,113.57 406.41,170.13 406.59,170.13 407.39,171.77 407.57,171.77 408.23,148.82 408.41,148.82 409.21,143.90 409.40,143.90 410.20,143.08 410.85,142.26 411.51,146.36 412.16,163.57 412.82,153.74 413.48,131.61 414.13,111.11 414.79,109.48 414.98,83.71 415.77,98.82 416.13,86.58 416.43,162.75 417.27,65.65" fill="none" stroke="#dc3450" stroke-width="1.05" stroke-linejoin="round"/>
<path d="M267.30 87.12V88.52M268.92 146.94V148.34M271.87 102.68V104.08M273.18 155.96V157.36M275.48 105.96V107.36M281.92 91.70V93.10M283.67 156.78V158.18M285.31 166.61V168.01M287.93 138.74V140.14M289.90 133.83V135.23M291.87 161.70V163.10M295.40 92.85V94.25M297.70 89.41V90.81M300.28 71.63V73.03M302.57 98.01V99.41M306.30 60.16V61.56M307.44 83.68V85.08M311.46 77.37V78.77M314.82 156.78V158.18M316.46 110.06V111.46M318.34 76.22V77.62M320.39 105.14V106.54M322.36 127.27V128.67M324.33 111.70V113.10M328.95 91.70V93.10M331.54 141.20V142.60M334.49 111.70V113.10M335.80 140.38V141.78M339.08 102.68V104.08M340.42 61.31V62.71M345.31 110.06V111.46M347.31 98.01V99.41M350.75 86.54V87.94M355.15 145.30V146.70M357.11 148.58V149.98M359.92 95.15V96.55M361.07 95.72V97.12M363.37 95.15V96.55M364.51 96.58V97.98M366.95 131.37V132.77M367.95 80.81V82.21M370.23 130.55V131.95M373.40 76.51V77.91M376.46 137.92V139.32M379.41 164.97V166.37M381.70 119.89V121.29M384.58 74.50V75.90M385.73 55.58V56.98M393.76 79.37V80.77M396.10 133.83V135.23M398.35 95.72V97.12M399.70 123.99V125.39M401.34 138.74V140.14M405.61 114.97V116.37M410.85 143.66V145.06M414.98 85.11V86.51M416.13 87.98V89.38" stroke="#5040e0" stroke-width="1.1" opacity="0.8"/>
<path d="M263.95 113.57a1.75 1.75 0 1 0 3.5 0a1.75 1.75 0 1 0 -3.5 0M264.22 105.38a1.75 1.75 0 1 0 3.5 0a1.75 1.75 0 1 0 -3.5 0M265.55 85.72a1.75 1.75 0 1 0 3.5 0a1.75 1.75 0 1 0 -3.5 0M266.18 157.84a1.75 1.75 0 1 0 3.5 0a1.75 1.75 0 1 0 -3.5 0M267.17 145.54a1.75 1.75 0 1 0 3.5 0a1.75 1.75 0 1 0 -3.5 0M268.15 166.03a1.75 1.75 0 1 0 3.5 0a1.75 1.75 0 1 0 -3.5 0M269.14 150.46a1.75 1.75 0 1 0 3.5 0a1.75 1.75 0 1 0 -3.5 0M270.12 101.28a1.75 1.75 0 1 0 3.5 0a1.75 1.75 0 1 0 -3.5 0M270.77 157.02a1.75 1.75 0 1 0 3.5 0a1.75 1.75 0 1 0 -3.5 0M271.43 154.56a1.75 1.75 0 1 0 3.5 0a1.75 1.75 0 1 0 -3.5 0M272.41 160.30a1.75 1.75 0 1 0 3.5 0a1.75 1.75 0 1 0 -3.5 0M273.07 155.38a1.75 1.75 0 1 0 3.5 0a1.75 1.75 0 1 0 -3.5 0M273.73 104.56a1.75 1.75 0 1 0 3.5 0a1.75 1.75 0 1 0 -3.5 0M274.38 152.10a1.75 1.75 0 1 0 3.5 0a1.75 1.75 0 1 0 -3.5 0M275.04 161.93a1.75 1.75 0 1 0 3.5 0a1.75 1.75 0 1 0 -3.5 0M275.69 163.57a1.75 1.75 0 1 0 3.5 0a1.75 1.75 0 1 0 -3.5 0M276.68 168.49a1.75 1.75 0 1 0 3.5 0a1.75 1.75 0 1 0 -3.5 0M277.66 154.56a1.75 1.75 0 1 0 3.5 0a1.75 1.75 0 1 0 -3.5 0M278.64 121.77a1.75 1.75 0 1 0 3.5 0a1.75 1.75 0 1 0 -3.5 0M278.97 116.03a1.75 1.75 0 1 0 3.5 0a1.75 1.75 0 1 0 -3.5 0M280.17 90.30a1.75 1.75 0 1 0 3.5 0a1.75 1.75 0 1 0 -3.5 0M280.28 170.13a1.75 1.75 0 1 0 3.5 0a1.75 1.75 0 1 0 -3.5 0M281.27 171.77a1.75 1.75 0 1 0 3.5 0a1.75 1.75 0 1 0 -3.5 0M281.92 155.38a1.75 1.75 0 1 0 3.5 0a1.75 1.75 0 1 0 -3.5 0M282.91 172.59a1.75 1.75 0 1 0 3.5 0a1.75 1.75 0 1 0 -3.5 0M283.56 165.21a1.75 1.75 0 1 0 3.5 0a1.75 1.75 0 1 0 -3.5 0M284.22 172.59a1.75 1.75 0 1 0 3.5 0a1.75 1.75 0 1 0 -3.5 0M285.20 158.66a1.75 1.75 0 1 0 3.5 0a1.75 1.75 0 1 0 -3.5 0M286.18 137.34a1.75 1.75 0 1 0 3.5 0a1.75 1.75 0 1 0 -3.5 0M286.84 145.54a1.75 1.75 0 1 0 3.5 0a1.75 1.75 0 1 0 -3.5 0M287.50 152.92a1.75 1.75 0 1 0 3.5 0a1.75 1.75 0 1 0 -3.5 0M288.15 132.43a1.75 1.75 0 1 0 3.5 0a1.75 1.75 0 1 0 -3.5 0M288.81 154.56a1.75 1.75 0 1 0 3.5 0a1.75 1.75 0 1 0 -3.5 0M289.46 170.13a1.75 1.75 0 1 0 3.5 0a1.75 1.75 0 1 0 -3.5 0M290.12 160.30a1.75 1.75 0 1 0 3.5 0a1.75 1.75 0 1 0 -3.5 0M291.10 163.57a1.75 1.75 0 1 0 3.5 0a1.75 1.75 0 1 0 -3.5 0M292.09 147.18a1.75 1.75 0 1 0 3.5 0a1.75 1.75 0 1 0 -3.5 0M293.65 91.45a1.75 1.75 0 1 0 3.5 0a1.75 1.75 0 1 0 -3.5 0M294.38 117.67a1.75 1.75 0 1 0 3.5 0a1.75 1.75 0 1 0 -3.5 0M295.36 140.62a1.75 1.75 0 1 0 3.5 0a1.75 1.75 0 1 0 -3.5 0M295.95 88.01a1.75 1.75 0 1 0 3.5 0a1.75 1.75 0 1 0 -3.5 0M296.35 142.26a1.75 1.75 0 1 0 3.5 0a1.75 1.75 0 1 0 -3.5 0M297.33 154.56a1.75 1.75 0 1 0 3.5 0a1.75 1.75 0 1 0 -3.5 0M297.95 78.84a1.75 1.75 0 1 0 3.5 0a1.75 1.75 0 1 0 -3.5 0M298.53 70.23a1.75 1.75 0 1 0 3.5 0a1.75 1.75 0 1 0 -3.5 0M298.64 124.23a1.75 1.75 0 1 0 3.5 0a1.75 1.75 0 1 0 -3.5 0M300.82 96.61a1.75 1.75 0 1 0 3.5 0a1.75 1.75 0 1 0 -3.5 0M300.94 150.46a1.75 1.75 0 1 0 3.5 0a1.75 1.75 0 1 0 -3.5 0M303.07 150.46a1.75 1.75 0 1 0 3.5 0a1.75 1.75 0 1 0 -3.5 0M304.55 58.76a1.75 1.75 0 1 0 3.5 0a1.75 1.75 0 1 0 -3.5 0M304.87 163.57a1.75 1.75 0 1 0 3.5 0a1.75 1.75 0 1 0 -3.5 0M305.69 82.28a1.75 1.75 0 1 0 3.5 0a1.75 1.75 0 1 0 -3.5 0M306.84 108.66a1.75 1.75 0 1 0 3.5 0a1.75 1.75 0 1 0 -3.5 0M307.82 133.25a1.75 1.75 0 1 0 3.5 0a1.75 1.75 0 1 0 -3.5 0M308.48 150.46a1.75 1.75 0 1 0 3.5 0a1.75 1.75 0 1 0 -3.5 0M309.14 155.38a1.75 1.75 0 1 0 3.5 0a1.75 1.75 0 1 0 -3.5 0M309.71 75.97a1.75 1.75 0 1 0 3.5 0a1.75 1.75 0 1 0 -3.5 0M310.57 87.44a1.75 1.75 0 1 0 3.5 0a1.75 1.75 0 1 0 -3.5 0M310.77 154.56a1.75 1.75 0 1 0 3.5 0a1.75 1.75 0 1 0 -3.5 0M311.76 158.66a1.75 1.75 0 1 0 3.5 0a1.75 1.75 0 1 0 -3.5 0M312.41 162.75a1.75 1.75 0 1 0 3.5 0a1.75 1.75 0 1 0 -3.5 0M313.07 155.38a1.75 1.75 0 1 0 3.5 0a1.75 1.75 0 1 0 -3.5 0M314.05 165.21a1.75 1.75 0 1 0 3.5 0a1.75 1.75 0 1 0 -3.5 0M314.71 108.66a1.75 1.75 0 1 0 3.5 0a1.75 1.75 0 1 0 -3.5 0M315.36 166.85a1.75 1.75 0 1 0 3.5 0a1.75 1.75 0 1 0 -3.5 0M316.02 158.66a1.75 1.75 0 1 0 3.5 0a1.75 1.75 0 1 0 -3.5 0M316.59 74.82a1.75 1.75 0 1 0 3.5 0a1.75 1.75 0 1 0 -3.5 0M317.99 171.77a1.75 1.75 0 1 0 3.5 0a1.75 1.75 0 1 0 -3.5 0M318.64 103.74a1.75 1.75 0 1 0 3.5 0a1.75 1.75 0 1 0 -3.5 0M319.30 148.82a1.75 1.75 0 1 0 3.5 0a1.75 1.75 0 1 0 -3.5 0M319.95 165.21a1.75 1.75 0 1 0 3.5 0a1.75 1.75 0 1 0 -3.5 0M320.61 125.87a1.75 1.75 0 1 0 3.5 0a1.75 1.75 0 1 0 -3.5 0M321.27 146.36a1.75 1.75 0 1 0 3.5 0a1.75 1.75 0 1 0 -3.5 0M321.92 170.13a1.75 1.75 0 1 0 3.5 0a1.75 1.75 0 1 0 -3.5 0M322.58 110.30a1.75 1.75 0 1 0 3.5 0a1.75 1.75 0 1 0 -3.5 0M324.22 160.30a1.75 1.75 0 1 0 3.5 0a1.75 1.75 0 1 0 -3.5 0M325.20 144.72a1.75 1.75 0 1 0 3.5 0a1.75 1.75 0 1 0 -3.5 0M326.18 124.23a1.75 1.75 0 1 0 3.5 0a1.75 1.75 0 1 0 -3.5 0M327.20 90.30a1.75 1.75 0 1 0 3.5 0a1.75 1.75 0 1 0 -3.5 0M327.82 160.30a1.75 1.75 0 1 0 3.5 0a1.75 1.75 0 1 0 -3.5 0M328.81 170.95a1.75 1.75 0 1 0 3.5 0a1.75 1.75 0 1 0 -3.5 0M329.79 139.80a1.75 1.75 0 1 0 3.5 0a1.75 1.75 0 1 0 -3.5 0M330.45 152.10a1.75 1.75 0 1 0 3.5 0a1.75 1.75 0 1 0 -3.5 0M331.10 156.20a1.75 1.75 0 1 0 3.5 0a1.75 1.75 0 1 0 -3.5 0M331.76 144.72a1.75 1.75 0 1 0 3.5 0a1.75 1.75 0 1 0 -3.5 0M332.74 110.30a1.75 1.75 0 1 0 3.5 0a1.75 1.75 0 1 0 -3.5 0M333.40 158.66a1.75 1.75 0 1 0 3.5 0a1.75 1.75 0 1 0 -3.5 0M334.05 138.98a1.75 1.75 0 1 0 3.5 0a1.75 1.75 0 1 0 -3.5 0M334.71 146.36a1.75 1.75 0 1 0 3.5 0a1.75 1.75 0 1 0 -3.5 0M335.36 170.95a1.75 1.75 0 1 0 3.5 0a1.75 1.75 0 1 0 -3.5 0M336.02 145.54a1.75 1.75 0 1 0 3.5 0a1.75 1.75 0 1 0 -3.5 0M336.68 142.26a1.75 1.75 0 1 0 3.5 0a1.75 1.75 0 1 0 -3.5 0M337.33 101.28a1.75 1.75 0 1 0 3.5 0a1.75 1.75 0 1 0 -3.5 0M337.99 147.18a1.75 1.75 0 1 0 3.5 0a1.75 1.75 0 1 0 -3.5 0M338.64 150.46a1.75 1.75 0 1 0 3.5 0a1.75 1.75 0 1 0 -3.5 0M338.67 59.91a1.75 1.75 0 1 0 3.5 0a1.75 1.75 0 1 0 -3.5 0M340.61 170.13a1.75 1.75 0 1 0 3.5 0a1.75 1.75 0 1 0 -3.5 0M341.59 112.75a1.75 1.75 0 1 0 3.5 0a1.75 1.75 0 1 0 -3.5 0M343.56 108.66a1.75 1.75 0 1 0 3.5 0a1.75 1.75 0 1 0 -3.5 0M344.22 160.30a1.75 1.75 0 1 0 3.5 0a1.75 1.75 0 1 0 -3.5 0M345.20 163.57a1.75 1.75 0 1 0 3.5 0a1.75 1.75 0 1 0 -3.5 0M345.56 96.61a1.75 1.75 0 1 0 3.5 0a1.75 1.75 0 1 0 -3.5 0M346.84 168.49a1.75 1.75 0 1 0 3.5 0a1.75 1.75 0 1 0 -3.5 0M347.82 157.02a1.75 1.75 0 1 0 3.5 0a1.75 1.75 0 1 0 -3.5 0M349.00 85.14a1.75 1.75 0 1 0 3.5 0a1.75 1.75 0 1 0 -3.5 0M349.79 120.95a1.75 1.75 0 1 0 3.5 0a1.75 1.75 0 1 0 -3.5 0M350.45 166.85a1.75 1.75 0 1 0 3.5 0a1.75 1.75 0 1 0 -3.5 0M351.43 170.13a1.75 1.75 0 1 0 3.5 0a1.75 1.75 0 1 0 -3.5 0M352.41 157.02a1.75 1.75 0 1 0 3.5 0a1.75 1.75 0 1 0 -3.5 0M353.40 143.90a1.75 1.75 0 1 0 3.5 0a1.75 1.75 0 1 0 -3.5 0M354.05 145.54a1.75 1.75 0 1 0 3.5 0a1.75 1.75 0 1 0 -3.5 0M354.71 160.30a1.75 1.75 0 1 0 3.5 0a1.75 1.75 0 1 0 -3.5 0M355.36 147.18a1.75 1.75 0 1 0 3.5 0a1.75 1.75 0 1 0 -3.5 0M356.35 163.57a1.75 1.75 0 1 0 3.5 0a1.75 1.75 0 1 0 -3.5 0M357.00 170.13a1.75 1.75 0 1 0 3.5 0a1.75 1.75 0 1 0 -3.5 0M357.99 103.74a1.75 1.75 0 1 0 3.5 0a1.75 1.75 0 1 0 -3.5 0M358.17 93.75a1.75 1.75 0 1 0 3.5 0a1.75 1.75 0 1 0 -3.5 0M359.30 170.13a1.75 1.75 0 1 0 3.5 0a1.75 1.75 0 1 0 -3.5 0M359.32 94.32a1.75 1.75 0 1 0 3.5 0a1.75 1.75 0 1 0 -3.5 0M361.27 136.52a1.75 1.75 0 1 0 3.5 0a1.75 1.75 0 1 0 -3.5 0M361.62 93.75a1.75 1.75 0 1 0 3.5 0a1.75 1.75 0 1 0 -3.5 0M361.92 170.13a1.75 1.75 0 1 0 3.5 0a1.75 1.75 0 1 0 -3.5 0M362.76 95.18a1.75 1.75 0 1 0 3.5 0a1.75 1.75 0 1 0 -3.5 0M363.56 160.30a1.75 1.75 0 1 0 3.5 0a1.75 1.75 0 1 0 -3.5 0M364.55 170.13a1.75 1.75 0 1 0 3.5 0a1.75 1.75 0 1 0 -3.5 0M365.20 129.97a1.75 1.75 0 1 0 3.5 0a1.75 1.75 0 1 0 -3.5 0M366.18 132.43a1.75 1.75 0 1 0 3.5 0a1.75 1.75 0 1 0 -3.5 0M366.20 79.41a1.75 1.75 0 1 0 3.5 0a1.75 1.75 0 1 0 -3.5 0M367.82 160.30a1.75 1.75 0 1 0 3.5 0a1.75 1.75 0 1 0 -3.5 0M368.48 129.15a1.75 1.75 0 1 0 3.5 0a1.75 1.75 0 1 0 -3.5 0M369.46 133.25a1.75 1.75 0 1 0 3.5 0a1.75 1.75 0 1 0 -3.5 0M370.45 145.54a1.75 1.75 0 1 0 3.5 0a1.75 1.75 0 1 0 -3.5 0M371.65 75.11a1.75 1.75 0 1 0 3.5 0a1.75 1.75 0 1 0 -3.5 0M372.41 120.95a1.75 1.75 0 1 0 3.5 0a1.75 1.75 0 1 0 -3.5 0M373.07 166.85a1.75 1.75 0 1 0 3.5 0a1.75 1.75 0 1 0 -3.5 0M374.05 155.38a1.75 1.75 0 1 0 3.5 0a1.75 1.75 0 1 0 -3.5 0M374.71 136.52a1.75 1.75 0 1 0 3.5 0a1.75 1.75 0 1 0 -3.5 0M375.69 165.21a1.75 1.75 0 1 0 3.5 0a1.75 1.75 0 1 0 -3.5 0M376.68 170.13a1.75 1.75 0 1 0 3.5 0a1.75 1.75 0 1 0 -3.5 0M377.66 163.57a1.75 1.75 0 1 0 3.5 0a1.75 1.75 0 1 0 -3.5 0M378.64 166.85a1.75 1.75 0 1 0 3.5 0a1.75 1.75 0 1 0 -3.5 0M379.95 118.49a1.75 1.75 0 1 0 3.5 0a1.75 1.75 0 1 0 -3.5 0M381.89 129.97a1.75 1.75 0 1 0 3.5 0a1.75 1.75 0 1 0 -3.5 0M382.83 73.10a1.75 1.75 0 1 0 3.5 0a1.75 1.75 0 1 0 -3.5 0M382.87 111.93a1.75 1.75 0 1 0 3.5 0a1.75 1.75 0 1 0 -3.5 0M383.98 54.18a1.75 1.75 0 1 0 3.5 0a1.75 1.75 0 1 0 -3.5 0M384.18 116.85a1.75 1.75 0 1 0 3.5 0a1.75 1.75 0 1 0 -3.5 0M385.17 129.15a1.75 1.75 0 1 0 3.5 0a1.75 1.75 0 1 0 -3.5 0M386.15 150.46a1.75 1.75 0 1 0 3.5 0a1.75 1.75 0 1 0 -3.5 0M387.14 152.10a1.75 1.75 0 1 0 3.5 0a1.75 1.75 0 1 0 -3.5 0M388.12 157.02a1.75 1.75 0 1 0 3.5 0a1.75 1.75 0 1 0 -3.5 0M389.10 163.57a1.75 1.75 0 1 0 3.5 0a1.75 1.75 0 1 0 -3.5 0M390.09 170.95a1.75 1.75 0 1 0 3.5 0a1.75 1.75 0 1 0 -3.5 0M391.07 166.85a1.75 1.75 0 1 0 3.5 0a1.75 1.75 0 1 0 -3.5 0M392.01 77.97a1.75 1.75 0 1 0 3.5 0a1.75 1.75 0 1 0 -3.5 0M392.71 171.77a1.75 1.75 0 1 0 3.5 0a1.75 1.75 0 1 0 -3.5 0M393.36 165.21a1.75 1.75 0 1 0 3.5 0a1.75 1.75 0 1 0 -3.5 0M394.35 132.43a1.75 1.75 0 1 0 3.5 0a1.75 1.75 0 1 0 -3.5 0M395.00 158.66a1.75 1.75 0 1 0 3.5 0a1.75 1.75 0 1 0 -3.5 0M395.99 160.30a1.75 1.75 0 1 0 3.5 0a1.75 1.75 0 1 0 -3.5 0M396.60 94.32a1.75 1.75 0 1 0 3.5 0a1.75 1.75 0 1 0 -3.5 0M397.30 133.25a1.75 1.75 0 1 0 3.5 0a1.75 1.75 0 1 0 -3.5 0M397.95 122.59a1.75 1.75 0 1 0 3.5 0a1.75 1.75 0 1 0 -3.5 0M398.61 140.62a1.75 1.75 0 1 0 3.5 0a1.75 1.75 0 1 0 -3.5 0M399.59 137.34a1.75 1.75 0 1 0 3.5 0a1.75 1.75 0 1 0 -3.5 0M400.25 143.90a1.75 1.75 0 1 0 3.5 0a1.75 1.75 0 1 0 -3.5 0M400.91 161.93a1.75 1.75 0 1 0 3.5 0a1.75 1.75 0 1 0 -3.5 0M401.56 165.21a1.75 1.75 0 1 0 3.5 0a1.75 1.75 0 1 0 -3.5 0M403.20 148.82a1.75 1.75 0 1 0 3.5 0a1.75 1.75 0 1 0 -3.5 0M403.86 113.57a1.75 1.75 0 1 0 3.5 0a1.75 1.75 0 1 0 -3.5 0M404.84 170.13a1.75 1.75 0 1 0 3.5 0a1.75 1.75 0 1 0 -3.5 0M405.82 171.77a1.75 1.75 0 1 0 3.5 0a1.75 1.75 0 1 0 -3.5 0M406.48 148.82a1.75 1.75 0 1 0 3.5 0a1.75 1.75 0 1 0 -3.5 0M407.46 143.90a1.75 1.75 0 1 0 3.5 0a1.75 1.75 0 1 0 -3.5 0M408.45 143.08a1.75 1.75 0 1 0 3.5 0a1.75 1.75 0 1 0 -3.5 0M409.10 142.26a1.75 1.75 0 1 0 3.5 0a1.75 1.75 0 1 0 -3.5 0M409.76 146.36a1.75 1.75 0 1 0 3.5 0a1.75 1.75 0 1 0 -3.5 0M410.41 163.57a1.75 1.75 0 1 0 3.5 0a1.75 1.75 0 1 0 -3.5 0M411.07 153.74a1.75 1.75 0 1 0 3.5 0a1.75 1.75 0 1 0 -3.5 0M411.73 131.61a1.75 1.75 0 1 0 3.5 0a1.75 1.75 0 1 0 -3.5 0M412.38 111.11a1.75 1.75 0 1 0 3.5 0a1.75 1.75 0 1 0 -3.5 0M413.04 109.48a1.75 1.75 0 1 0 3.5 0a1.75 1.75 0 1 0 -3.5 0M413.23 83.71a1.75 1.75 0 1 0 3.5 0a1.75 1.75 0 1 0 -3.5 0M414.02 98.82a1.75 1.75 0 1 0 3.5 0a1.75 1.75 0 1 0 -3.5 0M414.38 86.58a1.75 1.75 0 1 0 3.5 0a1.75 1.75 0 1 0 -3.5 0M414.68 162.75a1.75 1.75 0 1 0 3.5 0a1.75 1.75 0 1 0 -3.5 0M415.52 65.65a1.75 1.75 0 1 0 3.5 0a1.75 1.75 0 1 0 -3.5 0M339.98 170.13a1.75 1.75 0 1 0 3.5 0a1.75 1.75 0 1 0 -3.5 0M342.26 112.75a1.75 1.75 0 1 0 3.5 0a1.75 1.75 0 1 0 -3.5 0" fill="#fbe2e5" fill-opacity="0.8" stroke="#ec6c7c" stroke-width="0.7"/>
</g>
<rect x="263.5" y="25.5" width="158.0" height="168.8" fill="none" stroke="#858585" stroke-width="1.2"/>
<path d="M265.40 194.90V191.85M266.16 194.90V191.67M266.93 194.90V193.23M267.69 194.90V192.44M268.45 194.90V192.07M269.22 194.90V193.26M269.98 194.90V192.15M270.74 194.90V191.68M271.51 194.90V193.08M272.27 194.90V193.15M273.03 194.90V192.69M273.80 194.90V192.27M274.56 194.90V193.29M275.32 194.90V193.23M276.09 194.90V191.61M276.85 194.90V192.69M277.61 194.90V192.94M278.38 194.90V190.61M279.14 194.90V193.07M279.90 194.90V193.14M280.67 194.90V191.91M281.43 194.90V193.08M282.19 194.90V192.28M282.96 194.90V192.89M283.72 194.90V193.05M284.48 194.90V192.15M285.25 194.90V192.52M286.01 194.90V193.16M286.77 194.90V192.08M287.54 194.90V192.80M288.30 194.90V193.21M289.06 194.90V192.49M289.83 194.90V193.06M290.59 194.90V192.08M291.35 194.90V193.24M292.12 194.90V193.07M292.88 194.90V192.55M293.64 194.90V185.99M294.41 194.90V192.85M295.17 194.90V192.74M295.93 194.90V191.07M296.70 194.90V193.20M297.46 194.90V192.57M298.22 194.90V192.60M298.99 194.90V192.98M299.75 194.90V191.56M300.51 194.90V192.21M301.28 194.90V192.84M302.04 194.90V192.49M302.80 194.90V191.83M303.57 194.90V192.81M304.33 194.90V191.89M305.09 194.90V191.69M305.86 194.90V191.83M306.62 194.90V191.80M307.38 194.90V193.25M308.15 194.90V192.48M308.91 194.90V193.12M309.67 194.90V192.96M310.44 194.90V192.19M311.20 194.90V192.64M311.96 194.90V192.04M312.73 194.90V192.81M313.49 194.90V191.69M314.25 194.90V192.45M315.02 194.90V192.44M315.78 194.90V191.35M316.54 194.90V193.20M317.31 194.90V192.19M318.07 194.90V193.15M318.83 194.90V193.02M319.60 194.90V193.28M320.36 194.90V191.61M321.12 194.90V192.83M321.89 194.90V178.38M322.65 194.90V193.14M323.41 194.90V192.76M324.18 194.90V192.87M324.94 194.90V181.38M325.70 194.90V193.26M326.47 194.90V193.12M327.23 194.90V191.91M327.99 194.90V192.78M328.76 194.90V186.92M329.52 194.90V190.53M330.28 194.90V193.06M331.05 194.90V192.20M331.81 194.90V192.71M332.57 194.90V193.13M333.34 194.90V191.89M334.10 194.90V193.18M334.86 194.90V193.27M335.63 194.90V192.86M336.39 194.90V188.30M337.15 194.90V191.90M337.92 194.90V192.09M338.68 194.90V180.00M339.44 194.90V192.03M340.21 194.90V192.20M340.97 194.90V192.85M341.73 194.90V191.17M342.49 194.90V192.52M343.26 194.90V192.62M344.02 194.90V176.07M344.78 194.90V192.00M345.55 194.90V193.26M346.31 194.90V192.66M347.07 194.90V192.49M347.84 194.90V175.38M348.60 194.90V192.92M349.36 194.90V192.35M350.13 194.90V192.49M350.89 194.90V192.50M351.65 194.90V193.16M352.42 194.90V192.64M353.18 194.90V191.96M353.94 194.90V192.01M354.71 194.90V191.76M355.47 194.90V192.70M356.23 194.90V191.32M357.00 194.90V193.23M357.76 194.90V191.14M358.52 194.90V193.08M359.29 194.90V192.88M360.05 194.90V193.11M360.81 194.90V180.69M361.58 194.90V193.27M362.34 194.90V192.45M363.10 194.90V192.08M363.87 194.90V192.30M364.63 194.90V193.06M365.39 194.90V192.95M366.16 194.90V192.56M366.92 194.90V192.14M367.68 194.90V192.86M368.45 194.90V172.15M369.21 194.90V193.00M369.97 194.90V185.30M370.74 194.90V192.74M371.50 194.90V192.15M372.26 194.90V192.20M373.03 194.90V193.14M373.79 194.90V192.66M374.55 194.90V192.95M375.32 194.90V191.43M376.08 194.90V191.78M376.84 194.90V192.53M377.61 194.90V193.25M378.37 194.90V191.67M379.13 194.90V192.02M379.90 194.90V193.09M380.66 194.90V193.27M381.42 194.90V192.21M382.19 194.90V191.87M382.95 194.90V192.36M383.71 194.90V191.82M384.48 194.90V185.99M385.24 194.90V192.03M386.00 194.90V165.69M386.77 194.90V190.29M387.53 194.90V192.90M388.29 194.90V192.00M389.06 194.90V193.03M389.82 194.90V191.70M390.58 194.90V179.07M391.35 194.90V192.40M392.11 194.90V186.45M392.87 194.90V191.87M393.64 194.90V192.42M394.40 194.90V192.96M395.16 194.90V191.05M395.93 194.90V192.84M396.69 194.90V192.53M397.45 194.90V191.21M398.22 194.90V192.31M398.98 194.90V190.83M399.74 194.90V193.25M400.51 194.90V192.13M401.27 194.90V193.30M402.03 194.90V193.15M402.80 194.90V193.07M403.56 194.90V193.08M404.32 194.90V192.08M405.09 194.90V190.69M405.85 194.90V192.68M406.61 194.90V193.01M407.38 194.90V191.25M408.14 194.90V191.06M408.90 194.90V192.92M409.67 194.90V192.01M410.43 194.90V192.55M411.19 194.90V192.58M411.96 194.90V192.84M412.72 194.90V191.68M413.48 194.90V192.63M414.25 194.90V193.00M415.01 194.90V191.98M415.77 194.90V192.28M416.54 194.90V192.92M417.30 194.90V192.03" stroke="#ff8a20" stroke-width="1.0" fill="none"/>
<path d="M261.30 174.00H263.5M261.30 144.32H263.5M261.30 114.63H263.5M261.30 84.95H263.5M261.30 55.27H263.5M261.30 25.59H263.5M262.20 188.84H263.5M262.20 159.16H263.5M262.20 129.48H263.5M262.20 99.79H263.5M262.20 70.11H263.5M262.20 40.43H263.5M421.50 194.30H423.70M421.50 138.03H423.70M421.50 81.77H423.70M421.50 25.50H423.70M421.50 166.17H422.80M421.50 109.90H422.80M421.50 53.63H422.80M265.40 194.3V197.60M303.38 194.3V197.60M341.35 194.3V197.60M379.32 194.3V197.60M417.30 194.3V197.60M284.39 194.3V196.30M322.36 194.3V196.30M360.34 194.3V196.30M398.31 194.3V196.30" stroke="#5a5a5a" stroke-width="1"/>
<text transform="translate(260.00,178.10) scale(0.735,1)" text-anchor="end">0.0</text>
<text transform="translate(260.00,148.42) scale(0.735,1)" text-anchor="end">0.1</text>
<text transform="translate(260.00,118.73) scale(0.735,1)" text-anchor="end">0.2</text>
<text transform="translate(260.00,89.05) scale(0.735,1)" text-anchor="end">0.3</text>
<text transform="translate(260.00,59.37) scale(0.735,1)" text-anchor="end">0.4</text>
<text transform="translate(260.00,29.69) scale(0.735,1)" text-anchor="end">0.5</text>
<text transform="translate(425.30,198.40) scale(0.735,1)" text-anchor="start">0.00</text>
<text transform="translate(425.30,142.13) scale(0.735,1)" text-anchor="start">0.10</text>
<text transform="translate(425.30,85.87) scale(0.735,1)" text-anchor="start">0.20</text>
<text transform="translate(425.30,29.60) scale(0.735,1)" text-anchor="start">0.30</text>
<text transform="translate(265.40,210.00) scale(0.735,1)" text-anchor="middle">0</text>
<text transform="translate(303.38,210.00) scale(0.735,1)" text-anchor="middle">50</text>
<text transform="translate(341.35,210.00) scale(0.735,1)" text-anchor="middle">100</text>
<text transform="translate(379.32,210.00) scale(0.735,1)" text-anchor="middle">150</text>
<text transform="translate(417.30,210.00) scale(0.735,1)" text-anchor="middle">200</text>
<text transform="translate(343.35,230.10) scale(0.735,1)" text-anchor="middle">Forecasting Sample</text>
<text transform="translate(419.50,39.40) scale(0.735,1)" text-anchor="end">200 Hz</text>
<text transform="translate(244.40,209.00) rotate(-90) scale(1,0.78)" text-anchor="start" font-size="13.05">α</text>
<path d="M237.10 191.10C237.80 195.80 243.60 195.80 244.30 191.10" fill="none" stroke="#111" stroke-width="1.1"/>
<text transform="translate(244.40,188.30) rotate(-90) scale(1,0.78)" text-anchor="start" font-size="13.05">Sound Absorption Coefficient</text>
<path d="M237.10 22.00C237.80 17.30 243.60 17.30 244.30 22.00" fill="none" stroke="#111" stroke-width="1.1"/>
<text transform="translate(452.20,109.90) rotate(-90) scale(1,0.78)" text-anchor="middle" font-size="13.05">Error</text>
<clipPath id="c2"><rect x="494.8" y="25.5" width="157.7" height="168.8"/></clipPath>
<g clip-path="url(#c2)">
<polyline points="497.00,66.07 497.80,160.19 497.88,160.19 498.18,160.19 498.98,117.28 499.78,165.73 500.09,165.73 500.40,165.73 501.20,88.22 502.00,135.28 502.30,135.28 503.10,156.04 503.41,156.04 503.72,156.04 504.52,96.52 504.83,96.52 505.63,93.75 506.46,164.34 507.29,87.66 507.59,87.66 508.39,87.66 509.19,164.34 509.50,164.34 509.81,164.34 510.61,84.90 511.44,149.12 512.27,165.73 512.58,165.73 513.38,122.82 514.21,164.34 514.51,164.34 515.31,129.19 516.15,122.82 516.95,165.73 517.25,165.73 517.56,165.73 518.36,143.58 518.67,143.58 519.47,88.77 520.27,103.44 520.57,103.44 521.37,153.27 521.68,153.27 521.99,153.27 522.79,70.22 523.59,96.52 523.90,96.52 524.70,151.89 525.00,151.89 525.31,151.89 526.11,111.75 526.91,138.04 527.22,138.04 527.53,138.04 528.33,128.36 528.63,128.36 529.43,95.69 530.23,164.34 530.54,164.34 530.85,164.34 531.65,124.20 532.45,129.74 532.75,129.74 533.55,144.97 533.86,144.97 534.66,165.73 534.97,165.73 535.52,90.43 536.32,156.04 536.63,156.04 536.94,156.04 537.74,125.59 538.54,128.36 538.84,128.36 539.64,140.81 539.95,140.81 540.26,140.81 541.06,106.21 541.86,128.36 542.17,128.36 542.97,135.28 543.27,135.28 544.07,161.57 544.38,161.57 544.69,161.57 545.49,149.12 545.80,149.12 546.60,118.67 546.90,118.67 547.70,106.21 548.01,106.21 548.81,91.82 549.61,143.58 549.92,143.58 550.72,164.34 551.02,164.34 551.33,164.34 552.13,59.98 552.93,165.73 553.24,165.73 553.55,165.73 554.35,102.06 555.15,114.52 555.45,114.52 556.25,118.67 556.56,118.67 557.36,135.28 557.67,135.28 558.50,89.60 559.30,135.28 559.61,135.28 560.41,164.34 560.71,164.34 561.02,164.34 561.82,102.06 562.13,102.06 562.93,99.29 563.73,144.97 564.03,144.97 564.34,144.97 565.14,138.04 565.94,164.34 566.25,164.34 567.08,105.66 567.88,133.89 568.19,133.89 568.99,164.34 569.29,164.34 569.60,164.34 570.40,143.58 570.71,143.58 571.51,138.04 571.82,138.04 572.62,74.38 573.42,160.19 573.66,160.19 573.97,160.19 574.77,107.60 575.57,135.28 575.88,135.28 576.18,135.28 576.98,121.44 577.78,146.35 578.09,146.35 578.89,154.65 579.20,154.65 579.50,154.65 580.30,76.04 581.10,129.74 581.41,129.74 581.72,129.74 582.52,84.07 583.32,104.83 583.63,104.83 584.43,143.58 584.73,143.58 585.53,164.34 585.84,164.34 586.15,164.34 586.95,79.36 587.75,84.07 588.06,84.07 588.86,124.20 589.16,124.20 589.96,154.65 590.27,154.65 591.07,165.73 591.38,165.73 591.68,165.73 592.48,121.44 592.79,121.44 593.59,118.67 593.90,118.67 594.70,107.60 595.50,150.50 595.81,150.50 596.11,150.50 596.91,114.52 597.71,124.20 598.02,124.20 598.82,164.34 599.13,164.34 599.93,167.11 600.24,167.11 600.54,167.11 601.34,118.67 601.65,118.67 602.45,99.29 603.28,100.67 604.08,161.57 604.39,161.57 604.69,161.57 605.49,138.04 605.80,138.04 606.60,136.66 606.91,136.66 607.71,129.74 608.02,129.74 608.82,76.59 609.12,76.59 609.92,76.59 610.72,129.74 611.03,129.74 611.83,146.35 612.14,146.35 612.45,146.35 613.25,76.59 614.05,114.52 614.35,114.52 615.15,164.34 615.46,164.34 615.77,164.34 616.57,146.35 616.87,146.35 617.67,128.36 617.98,128.36 618.78,80.47 619.58,93.75 619.89,93.75 620.20,93.75 621.00,89.60 621.80,96.52 622.10,96.52 622.90,124.20 623.21,124.20 624.01,165.73 624.32,165.73 624.63,165.73 625.43,143.58 625.73,143.58 626.53,100.67 627.36,59.98 628.16,164.34 628.47,164.34 629.27,167.11 629.58,167.11 629.89,167.11 630.69,129.74 631.49,150.50 631.79,150.50 632.10,150.50 632.90,110.36 633.70,147.73 634.01,147.73 634.31,147.73 635.11,100.67 635.42,100.67 636.22,100.67 637.02,142.20 637.33,142.20 637.64,142.20 638.44,99.29 639.24,121.44 639.54,121.44 640.34,140.81 640.65,140.81 640.96,140.81 641.76,97.91 642.07,97.91 642.87,84.07 643.67,162.96 643.97,162.96 644.28,162.96 645.08,110.36 645.88,164.34 646.19,164.34 646.49,164.34 647.29,100.67 648.09,154.65 648.40,154.65" fill="none" stroke="#3030f0" stroke-width="0.35" stroke-linejoin="round"/>
<path d="M501.20 84.00V90.00M531.60 120.00V130.00M549.90 142.00V150.00M574.80 102.00V108.00M594.70 105.00V112.00M614.40 110.00V118.00" stroke="#3535ee" stroke-width="1.1"/>
<polyline points="497.00,66.07 497.80,160.19 497.88,160.19 498.18,160.19 498.98,117.28 499.78,165.73 500.09,165.73 500.40,165.73 501.20,88.22 502.00,135.28 502.30,135.28 503.10,156.04 503.41,156.04 503.72,156.04 504.52,96.52 504.83,96.52 505.63,93.75 506.46,164.34 507.29,87.66 507.59,87.66 508.39,87.66 509.19,164.34 509.50,164.34 509.81,164.34 510.61,84.90 511.44,149.12 512.27,165.73 512.58,165.73 513.38,122.82 514.21,164.34 514.51,164.34 515.31,129.19 516.15,122.82 516.95,165.73 517.25,165.73 517.56,165.73 518.36,143.58 518.67,143.58 519.47,88.77 520.27,103.44 520.57,103.44 521.37,153.27 521.68,153.27 521.99,153.27 522.79,70.22 523.59,96.52 523.90,96.52 524.70,151.89 525.00,151.89 525.31,151.89 526.11,111.75 526.91,138.04 527.22,138.04 527.53,138.04 528.33,128.36 528.63,128.36 529.43,95.69 530.23,164.34 530.54,164.34 530.85,164.34 531.65,124.20 532.45,129.74 532.75,129.74 533.55,144.97 533.86,144.97 534.66,165.73 534.97,165.73 535.52,90.43 536.32,156.04 536.63,156.04 536.94,156.04 537.74,125.59 538.54,128.36 538.84,128.36 539.64,140.81 539.95,140.81 540.26,140.81 541.06,106.21 541.86,128.36 542.17,128.36 542.97,135.28 543.27,135.28 544.07,161.57 544.38,161.57 544.69,161.57 545.49,149.12 545.80,149.12 546.60,118.67 546.90,118.67 547.70,106.21 548.01,106.21 548.81,91.82 549.61,143.58 549.92,143.58 550.72,164.34 551.02,164.34 551.33,164.34 552.13,59.98 552.93,165.73 553.24,165.73 553.55,165.73 554.35,102.06 555.15,114.52 555.45,114.52 556.25,118.67 556.56,118.67 557.36,135.28 557.67,135.28 558.50,89.60 559.30,135.28 559.61,135.28 560.41,164.34 560.71,164.34 561.02,164.34 561.82,102.06 562.13,102.06 562.93,99.29 563.73,144.97 564.03,144.97 564.34,144.97 565.14,138.04 565.94,164.34 566.25,164.34 567.08,105.66 567.88,133.89 568.19,133.89 568.99,164.34 569.29,164.34 569.60,164.34 570.40,143.58 570.71,143.58 571.51,138.04 571.82,138.04 572.62,74.38 573.42,160.19 573.66,160.19 573.97,160.19 574.77,107.60 575.57,135.28 575.88,135.28 576.18,135.28 576.98,121.44 577.78,146.35 578.09,146.35 578.89,154.65 579.20,154.65 579.50,154.65 580.30,76.04 581.10,129.74 581.41,129.74 581.72,129.74 582.52,84.07 583.32,104.83 583.63,104.83 584.43,143.58 584.73,143.58 585.53,164.34 585.84,164.34 586.15,164.34 586.95,79.36 587.75,84.07 588.06,84.07 588.86,124.20 589.16,124.20 589.96,154.65 590.27,154.65 591.07,165.73 591.38,165.73 591.68,165.73 592.48,121.44 592.79,121.44 593.59,118.67 593.90,118.67 594.70,107.60 595.50,150.50 595.81,150.50 596.11,150.50 596.91,114.52 597.71,124.20 598.02,124.20 598.82,164.34 599.13,164.34 599.93,167.11 600.24,167.11 600.54,167.11 601.34,118.67 601.65,118.67 602.45,99.29 603.28,100.67 604.08,161.57 604.39,161.57 604.69,161.57 605.49,138.04 605.80,138.04 606.60,136.66 606.91,136.66 607.71,129.74 608.02,129.74 608.82,76.59 609.12,76.59 609.92,76.59 610.72,129.74 611.03,129.74 611.83,146.35 612.14,146.35 612.45,146.35 613.25,76.59 614.05,114.52 614.35,114.52 615.15,164.34 615.46,164.34 615.77,164.34 616.57,146.35 616.87,146.35 617.67,128.36 617.98,128.36 618.78,80.47 619.58,93.75 619.89,93.75 620.20,93.75 621.00,89.60 621.80,96.52 622.10,96.52 622.90,124.20 623.21,124.20 624.01,165.73 624.32,165.73 624.63,165.73 625.43,143.58 625.73,143.58 626.53,100.67 627.36,59.98 628.16,164.34 628.47,164.34 629.27,167.11 629.58,167.11 629.89,167.11 630.69,129.74 631.49,150.50 631.79,150.50 632.10,150.50 632.90,110.36 633.70,147.73 634.01,147.73 634.31,147.73 635.11,100.67 635.42,100.67 636.22,100.67 637.02,142.20 637.33,142.20 637.64,142.20 638.44,99.29 639.24,121.44 639.54,121.44 640.34,140.81 640.65,140.81 640.96,140.81 641.76,97.91 642.07,97.91 642.87,84.07 643.67,162.96 643.97,162.96 644.28,162.96 645.08,110.36 645.88,164.34 646.19,164.34 646.49,164.34 647.29,100.67 648.09,154.65 648.40,154.65" fill="none" stroke="#dc3450" stroke-width="1.05" stroke-linejoin="round"/>
<path d="M498.98 118.68V120.08M501.20 89.62V91.02M505.63 95.15V96.55M510.61 86.30V87.70M513.38 124.22V125.62M516.15 124.22V125.62M519.47 90.17V91.57M522.79 71.62V73.02M526.11 113.15V114.55M529.43 97.09V98.49M531.65 125.60V127.00M535.52 91.83V93.23M537.74 126.99V128.39M541.06 107.61V109.01M548.81 93.22V94.62M552.13 61.38V62.78M554.35 103.46V104.86M558.50 91.00V92.40M562.93 100.69V102.09M565.14 139.44V140.84M567.08 107.06V108.46M572.62 75.78V77.18M574.77 109.00V110.40M576.98 122.84V124.24M580.30 77.44V78.84M582.52 85.47V86.87M586.95 80.76V82.16M594.70 109.00V110.40M596.91 115.92V117.32M602.45 100.69V102.09M613.25 77.99V79.39M618.78 81.87V83.27M621.00 91.00V92.40M627.36 61.38V62.78M630.69 131.14V132.54M632.90 111.76V113.16M638.44 100.69V102.09M642.87 85.47V86.87M645.08 111.76V113.16M647.29 102.07V103.47" stroke="#5040e0" stroke-width="1.1" opacity="0.8"/>
<path d="M495.25 66.07a1.75 1.75 0 1 0 3.5 0a1.75 1.75 0 1 0 -3.5 0M496.13 160.19a1.75 1.75 0 1 0 3.5 0a1.75 1.75 0 1 0 -3.5 0M497.23 117.28a1.75 1.75 0 1 0 3.5 0a1.75 1.75 0 1 0 -3.5 0M498.34 165.73a1.75 1.75 0 1 0 3.5 0a1.75 1.75 0 1 0 -3.5 0M499.45 88.22a1.75 1.75 0 1 0 3.5 0a1.75 1.75 0 1 0 -3.5 0M500.55 135.28a1.75 1.75 0 1 0 3.5 0a1.75 1.75 0 1 0 -3.5 0M501.66 156.04a1.75 1.75 0 1 0 3.5 0a1.75 1.75 0 1 0 -3.5 0M502.77 96.52a1.75 1.75 0 1 0 3.5 0a1.75 1.75 0 1 0 -3.5 0M503.88 93.75a1.75 1.75 0 1 0 3.5 0a1.75 1.75 0 1 0 -3.5 0M504.71 164.34a1.75 1.75 0 1 0 3.5 0a1.75 1.75 0 1 0 -3.5 0M505.54 87.66a1.75 1.75 0 1 0 3.5 0a1.75 1.75 0 1 0 -3.5 0M506.64 87.66a1.75 1.75 0 1 0 3.5 0a1.75 1.75 0 1 0 -3.5 0M507.75 164.34a1.75 1.75 0 1 0 3.5 0a1.75 1.75 0 1 0 -3.5 0M508.86 84.90a1.75 1.75 0 1 0 3.5 0a1.75 1.75 0 1 0 -3.5 0M509.69 149.12a1.75 1.75 0 1 0 3.5 0a1.75 1.75 0 1 0 -3.5 0M510.52 165.73a1.75 1.75 0 1 0 3.5 0a1.75 1.75 0 1 0 -3.5 0M511.63 122.82a1.75 1.75 0 1 0 3.5 0a1.75 1.75 0 1 0 -3.5 0M512.46 164.34a1.75 1.75 0 1 0 3.5 0a1.75 1.75 0 1 0 -3.5 0M513.56 129.19a1.75 1.75 0 1 0 3.5 0a1.75 1.75 0 1 0 -3.5 0M514.40 122.82a1.75 1.75 0 1 0 3.5 0a1.75 1.75 0 1 0 -3.5 0M515.50 165.73a1.75 1.75 0 1 0 3.5 0a1.75 1.75 0 1 0 -3.5 0M516.61 143.58a1.75 1.75 0 1 0 3.5 0a1.75 1.75 0 1 0 -3.5 0M517.72 88.77a1.75 1.75 0 1 0 3.5 0a1.75 1.75 0 1 0 -3.5 0M518.82 103.44a1.75 1.75 0 1 0 3.5 0a1.75 1.75 0 1 0 -3.5 0M519.93 153.27a1.75 1.75 0 1 0 3.5 0a1.75 1.75 0 1 0 -3.5 0M521.04 70.22a1.75 1.75 0 1 0 3.5 0a1.75 1.75 0 1 0 -3.5 0M522.15 96.52a1.75 1.75 0 1 0 3.5 0a1.75 1.75 0 1 0 -3.5 0M523.25 151.89a1.75 1.75 0 1 0 3.5 0a1.75 1.75 0 1 0 -3.5 0M524.36 111.75a1.75 1.75 0 1 0 3.5 0a1.75 1.75 0 1 0 -3.5 0M525.47 138.04a1.75 1.75 0 1 0 3.5 0a1.75 1.75 0 1 0 -3.5 0M526.58 128.36a1.75 1.75 0 1 0 3.5 0a1.75 1.75 0 1 0 -3.5 0M527.68 95.69a1.75 1.75 0 1 0 3.5 0a1.75 1.75 0 1 0 -3.5 0M528.79 164.34a1.75 1.75 0 1 0 3.5 0a1.75 1.75 0 1 0 -3.5 0M529.90 124.20a1.75 1.75 0 1 0 3.5 0a1.75 1.75 0 1 0 -3.5 0M531.00 129.74a1.75 1.75 0 1 0 3.5 0a1.75 1.75 0 1 0 -3.5 0M532.11 144.97a1.75 1.75 0 1 0 3.5 0a1.75 1.75 0 1 0 -3.5 0M533.22 165.73a1.75 1.75 0 1 0 3.5 0a1.75 1.75 0 1 0 -3.5 0M533.77 90.43a1.75 1.75 0 1 0 3.5 0a1.75 1.75 0 1 0 -3.5 0M534.88 156.04a1.75 1.75 0 1 0 3.5 0a1.75 1.75 0 1 0 -3.5 0M535.99 125.59a1.75 1.75 0 1 0 3.5 0a1.75 1.75 0 1 0 -3.5 0M537.09 128.36a1.75 1.75 0 1 0 3.5 0a1.75 1.75 0 1 0 -3.5 0M538.20 140.81a1.75 1.75 0 1 0 3.5 0a1.75 1.75 0 1 0 -3.5 0M539.31 106.21a1.75 1.75 0 1 0 3.5 0a1.75 1.75 0 1 0 -3.5 0M540.42 128.36a1.75 1.75 0 1 0 3.5 0a1.75 1.75 0 1 0 -3.5 0M541.52 135.28a1.75 1.75 0 1 0 3.5 0a1.75 1.75 0 1 0 -3.5 0M542.63 161.57a1.75 1.75 0 1 0 3.5 0a1.75 1.75 0 1 0 -3.5 0M543.74 149.12a1.75 1.75 0 1 0 3.5 0a1.75 1.75 0 1 0 -3.5 0M544.85 118.67a1.75 1.75 0 1 0 3.5 0a1.75 1.75 0 1 0 -3.5 0M545.95 106.21a1.75 1.75 0 1 0 3.5 0a1.75 1.75 0 1 0 -3.5 0M547.06 91.82a1.75 1.75 0 1 0 3.5 0a1.75 1.75 0 1 0 -3.5 0M548.17 143.58a1.75 1.75 0 1 0 3.5 0a1.75 1.75 0 1 0 -3.5 0M549.27 164.34a1.75 1.75 0 1 0 3.5 0a1.75 1.75 0 1 0 -3.5 0M550.38 59.98a1.75 1.75 0 1 0 3.5 0a1.75 1.75 0 1 0 -3.5 0M551.49 165.73a1.75 1.75 0 1 0 3.5 0a1.75 1.75 0 1 0 -3.5 0M552.60 102.06a1.75 1.75 0 1 0 3.5 0a1.75 1.75 0 1 0 -3.5 0M553.70 114.52a1.75 1.75 0 1 0 3.5 0a1.75 1.75 0 1 0 -3.5 0M554.81 118.67a1.75 1.75 0 1 0 3.5 0a1.75 1.75 0 1 0 -3.5 0M555.92 135.28a1.75 1.75 0 1 0 3.5 0a1.75 1.75 0 1 0 -3.5 0M556.75 89.60a1.75 1.75 0 1 0 3.5 0a1.75 1.75 0 1 0 -3.5 0M557.86 135.28a1.75 1.75 0 1 0 3.5 0a1.75 1.75 0 1 0 -3.5 0M558.96 164.34a1.75 1.75 0 1 0 3.5 0a1.75 1.75 0 1 0 -3.5 0M560.07 102.06a1.75 1.75 0 1 0 3.5 0a1.75 1.75 0 1 0 -3.5 0M561.18 99.29a1.75 1.75 0 1 0 3.5 0a1.75 1.75 0 1 0 -3.5 0M562.28 144.97a1.75 1.75 0 1 0 3.5 0a1.75 1.75 0 1 0 -3.5 0M563.39 138.04a1.75 1.75 0 1 0 3.5 0a1.75 1.75 0 1 0 -3.5 0M564.50 164.34a1.75 1.75 0 1 0 3.5 0a1.75 1.75 0 1 0 -3.5 0M565.33 105.66a1.75 1.75 0 1 0 3.5 0a1.75 1.75 0 1 0 -3.5 0M566.44 133.89a1.75 1.75 0 1 0 3.5 0a1.75 1.75 0 1 0 -3.5 0M567.54 164.34a1.75 1.75 0 1 0 3.5 0a1.75 1.75 0 1 0 -3.5 0M568.65 143.58a1.75 1.75 0 1 0 3.5 0a1.75 1.75 0 1 0 -3.5 0M569.76 138.04a1.75 1.75 0 1 0 3.5 0a1.75 1.75 0 1 0 -3.5 0M570.87 74.38a1.75 1.75 0 1 0 3.5 0a1.75 1.75 0 1 0 -3.5 0M571.91 160.19a1.75 1.75 0 1 0 3.5 0a1.75 1.75 0 1 0 -3.5 0M573.02 107.60a1.75 1.75 0 1 0 3.5 0a1.75 1.75 0 1 0 -3.5 0M574.13 135.28a1.75 1.75 0 1 0 3.5 0a1.75 1.75 0 1 0 -3.5 0M575.23 121.44a1.75 1.75 0 1 0 3.5 0a1.75 1.75 0 1 0 -3.5 0M576.34 146.35a1.75 1.75 0 1 0 3.5 0a1.75 1.75 0 1 0 -3.5 0M577.45 154.65a1.75 1.75 0 1 0 3.5 0a1.75 1.75 0 1 0 -3.5 0M578.55 76.04a1.75 1.75 0 1 0 3.5 0a1.75 1.75 0 1 0 -3.5 0M579.66 129.74a1.75 1.75 0 1 0 3.5 0a1.75 1.75 0 1 0 -3.5 0M580.77 84.07a1.75 1.75 0 1 0 3.5 0a1.75 1.75 0 1 0 -3.5 0M581.88 104.83a1.75 1.75 0 1 0 3.5 0a1.75 1.75 0 1 0 -3.5 0M582.98 143.58a1.75 1.75 0 1 0 3.5 0a1.75 1.75 0 1 0 -3.5 0M584.09 164.34a1.75 1.75 0 1 0 3.5 0a1.75 1.75 0 1 0 -3.5 0M585.20 79.36a1.75 1.75 0 1 0 3.5 0a1.75 1.75 0 1 0 -3.5 0M586.31 84.07a1.75 1.75 0 1 0 3.5 0a1.75 1.75 0 1 0 -3.5 0M587.41 124.20a1.75 1.75 0 1 0 3.5 0a1.75 1.75 0 1 0 -3.5 0M588.52 154.65a1.75 1.75 0 1 0 3.5 0a1.75 1.75 0 1 0 -3.5 0M589.63 165.73a1.75 1.75 0 1 0 3.5 0a1.75 1.75 0 1 0 -3.5 0M590.73 121.44a1.75 1.75 0 1 0 3.5 0a1.75 1.75 0 1 0 -3.5 0M591.84 118.67a1.75 1.75 0 1 0 3.5 0a1.75 1.75 0 1 0 -3.5 0M592.95 107.60a1.75 1.75 0 1 0 3.5 0a1.75 1.75 0 1 0 -3.5 0M594.06 150.50a1.75 1.75 0 1 0 3.5 0a1.75 1.75 0 1 0 -3.5 0M595.16 114.52a1.75 1.75 0 1 0 3.5 0a1.75 1.75 0 1 0 -3.5 0M596.27 124.20a1.75 1.75 0 1 0 3.5 0a1.75 1.75 0 1 0 -3.5 0M597.38 164.34a1.75 1.75 0 1 0 3.5 0a1.75 1.75 0 1 0 -3.5 0M598.49 167.11a1.75 1.75 0 1 0 3.5 0a1.75 1.75 0 1 0 -3.5 0M599.59 118.67a1.75 1.75 0 1 0 3.5 0a1.75 1.75 0 1 0 -3.5 0M600.70 99.29a1.75 1.75 0 1 0 3.5 0a1.75 1.75 0 1 0 -3.5 0M601.53 100.67a1.75 1.75 0 1 0 3.5 0a1.75 1.75 0 1 0 -3.5 0M602.64 161.57a1.75 1.75 0 1 0 3.5 0a1.75 1.75 0 1 0 -3.5 0M603.74 138.04a1.75 1.75 0 1 0 3.5 0a1.75 1.75 0 1 0 -3.5 0M604.85 136.66a1.75 1.75 0 1 0 3.5 0a1.75 1.75 0 1 0 -3.5 0M605.96 129.74a1.75 1.75 0 1 0 3.5 0a1.75 1.75 0 1 0 -3.5 0M607.07 76.59a1.75 1.75 0 1 0 3.5 0a1.75 1.75 0 1 0 -3.5 0M608.17 76.59a1.75 1.75 0 1 0 3.5 0a1.75 1.75 0 1 0 -3.5 0M609.28 129.74a1.75 1.75 0 1 0 3.5 0a1.75 1.75 0 1 0 -3.5 0M610.39 146.35a1.75 1.75 0 1 0 3.5 0a1.75 1.75 0 1 0 -3.5 0M611.50 76.59a1.75 1.75 0 1 0 3.5 0a1.75 1.75 0 1 0 -3.5 0M612.60 114.52a1.75 1.75 0 1 0 3.5 0a1.75 1.75 0 1 0 -3.5 0M613.71 164.34a1.75 1.75 0 1 0 3.5 0a1.75 1.75 0 1 0 -3.5 0M614.82 146.35a1.75 1.75 0 1 0 3.5 0a1.75 1.75 0 1 0 -3.5 0M615.92 128.36a1.75 1.75 0 1 0 3.5 0a1.75 1.75 0 1 0 -3.5 0M617.03 80.47a1.75 1.75 0 1 0 3.5 0a1.75 1.75 0 1 0 -3.5 0M618.14 93.75a1.75 1.75 0 1 0 3.5 0a1.75 1.75 0 1 0 -3.5 0M619.25 89.60a1.75 1.75 0 1 0 3.5 0a1.75 1.75 0 1 0 -3.5 0M620.35 96.52a1.75 1.75 0 1 0 3.5 0a1.75 1.75 0 1 0 -3.5 0M621.46 124.20a1.75 1.75 0 1 0 3.5 0a1.75 1.75 0 1 0 -3.5 0M622.57 165.73a1.75 1.75 0 1 0 3.5 0a1.75 1.75 0 1 0 -3.5 0M623.68 143.58a1.75 1.75 0 1 0 3.5 0a1.75 1.75 0 1 0 -3.5 0M624.78 100.67a1.75 1.75 0 1 0 3.5 0a1.75 1.75 0 1 0 -3.5 0M625.61 59.98a1.75 1.75 0 1 0 3.5 0a1.75 1.75 0 1 0 -3.5 0M626.72 164.34a1.75 1.75 0 1 0 3.5 0a1.75 1.75 0 1 0 -3.5 0M627.83 167.11a1.75 1.75 0 1 0 3.5 0a1.75 1.75 0 1 0 -3.5 0M628.94 129.74a1.75 1.75 0 1 0 3.5 0a1.75 1.75 0 1 0 -3.5 0M630.04 150.50a1.75 1.75 0 1 0 3.5 0a1.75 1.75 0 1 0 -3.5 0M631.15 110.36a1.75 1.75 0 1 0 3.5 0a1.75 1.75 0 1 0 -3.5 0M632.26 147.73a1.75 1.75 0 1 0 3.5 0a1.75 1.75 0 1 0 -3.5 0M633.36 100.67a1.75 1.75 0 1 0 3.5 0a1.75 1.75 0 1 0 -3.5 0M634.47 100.67a1.75 1.75 0 1 0 3.5 0a1.75 1.75 0 1 0 -3.5 0M635.58 142.20a1.75 1.75 0 1 0 3.5 0a1.75 1.75 0 1 0 -3.5 0M636.69 99.29a1.75 1.75 0 1 0 3.5 0a1.75 1.75 0 1 0 -3.5 0M637.79 121.44a1.75 1.75 0 1 0 3.5 0a1.75 1.75 0 1 0 -3.5 0M638.90 140.81a1.75 1.75 0 1 0 3.5 0a1.75 1.75 0 1 0 -3.5 0M640.01 97.91a1.75 1.75 0 1 0 3.5 0a1.75 1.75 0 1 0 -3.5 0M641.12 84.07a1.75 1.75 0 1 0 3.5 0a1.75 1.75 0 1 0 -3.5 0M642.22 162.96a1.75 1.75 0 1 0 3.5 0a1.75 1.75 0 1 0 -3.5 0M643.33 110.36a1.75 1.75 0 1 0 3.5 0a1.75 1.75 0 1 0 -3.5 0M644.44 164.34a1.75 1.75 0 1 0 3.5 0a1.75 1.75 0 1 0 -3.5 0M645.54 100.67a1.75 1.75 0 1 0 3.5 0a1.75 1.75 0 1 0 -3.5 0M646.65 154.65a1.75 1.75 0 1 0 3.5 0a1.75 1.75 0 1 0 -3.5 0" fill="#fbe2e5" fill-opacity="0.8" stroke="#ec6c7c" stroke-width="0.7"/>
</g>
<rect x="494.8" y="25.5" width="157.7" height="168.8" fill="none" stroke="#858585" stroke-width="1.2"/>
<path d="M496.70 194.90V189.09M497.46 194.90V192.11M498.23 194.90V192.59M498.99 194.90V193.04M499.75 194.90V188.84M500.52 194.90V190.78M501.28 194.90V187.68M502.04 194.90V191.95M502.81 194.90V191.37M503.57 194.90V191.78M504.33 194.90V192.38M505.10 194.90V192.78M505.86 194.90V191.67M506.62 194.90V192.54M507.39 194.90V185.37M508.15 194.90V187.54M508.91 194.90V191.16M509.68 194.90V192.59M510.44 194.90V191.96M511.20 194.90V192.82M511.97 194.90V192.89M512.73 194.90V193.20M513.49 194.90V191.76M514.26 194.90V192.96M515.02 194.90V190.53M515.78 194.90V190.70M516.55 194.90V187.22M517.31 194.90V192.93M518.07 194.90V193.27M518.84 194.90V187.22M519.60 194.90V179.61M520.36 194.90V192.43M521.13 194.90V186.76M521.89 194.90V192.88M522.65 194.90V192.78M523.42 194.90V192.29M524.18 194.90V190.78M524.94 194.90V191.31M525.71 194.90V187.68M526.47 194.90V189.40M527.23 194.90V193.04M528.00 194.90V189.53M528.76 194.90V190.23M529.52 194.90V189.27M530.29 194.90V192.26M531.05 194.90V193.05M531.81 194.90V176.61M532.58 194.90V190.45M533.34 194.90V191.15M534.10 194.90V192.77M534.87 194.90V189.21M535.63 194.90V193.04M536.39 194.90V189.90M537.16 194.90V193.28M537.92 194.90V191.04M538.68 194.90V190.34M539.45 194.90V191.68M540.21 194.90V189.99M540.97 194.90V189.61M541.74 194.90V191.63M542.50 194.90V192.96M543.26 194.90V189.99M544.03 194.90V193.02M544.79 194.90V191.73M545.55 194.90V192.96M546.32 194.90V192.27M547.08 194.90V192.11M547.84 194.90V192.52M548.61 194.90V191.98M549.37 194.90V192.48M550.13 194.90V170.38M550.90 194.90V192.55M551.66 194.90V191.13M552.42 194.90V193.24M553.19 194.90V187.68M553.95 194.90V191.35M554.71 194.90V192.83M555.48 194.90V187.22M556.24 194.90V189.11M557.00 194.90V192.99M557.77 194.90V192.79M558.53 194.90V192.80M559.29 194.90V189.53M560.06 194.90V190.68M560.82 194.90V192.32M561.58 194.90V192.66M562.35 194.90V193.28M563.11 194.90V192.67M563.87 194.90V192.48M564.64 194.90V192.12M565.40 194.90V192.76M566.16 194.90V189.67M566.93 194.90V178.45M567.69 194.90V191.95M568.45 194.90V170.38M569.22 194.90V192.23M569.98 194.90V192.39M570.74 194.90V189.70M571.51 194.90V185.37M572.27 194.90V191.97M573.03 194.90V191.63M573.79 194.90V192.96M574.56 194.90V183.07M575.32 194.90V190.93M576.08 194.90V189.42M576.85 194.90V188.84M577.61 194.90V190.43M578.37 194.90V192.84M579.14 194.90V191.93M579.90 194.90V193.12M580.66 194.90V192.89M581.43 194.90V192.33M582.19 194.90V192.18M582.95 194.90V189.53M583.72 194.90V192.90M584.48 194.90V192.95M585.24 194.90V192.27M586.01 194.90V193.24M586.77 194.90V191.69M587.53 194.90V192.93M588.30 194.90V189.99M589.06 194.90V191.34M589.82 194.90V192.06M590.59 194.90V192.23M591.35 194.90V191.37M592.11 194.90V192.92M592.88 194.90V193.00M593.64 194.90V190.36M594.40 194.90V188.84M595.17 194.90V191.55M595.93 194.90V191.47M596.69 194.90V191.16M597.46 194.90V180.30M598.22 194.90V193.08M598.98 194.90V192.47M599.75 194.90V191.97M600.51 194.90V191.73M601.27 194.90V192.13M602.04 194.90V179.61M602.80 194.90V192.63M603.56 194.90V191.75M604.33 194.90V192.38M605.09 194.90V192.30M605.85 194.90V193.21M606.62 194.90V191.95M607.38 194.90V189.99M608.14 194.90V191.82M608.91 194.90V192.14M609.67 194.90V191.01M610.43 194.90V193.04M611.20 194.90V192.91M611.96 194.90V192.82M612.72 194.90V192.26M613.49 194.90V193.08M614.25 194.90V189.99M615.01 194.90V191.85M615.78 194.90V188.15M616.54 194.90V183.07M617.30 194.90V187.98M618.07 194.90V190.96M618.83 194.90V193.09M619.59 194.90V191.36M620.36 194.90V184.91M621.12 194.90V190.89M621.88 194.90V177.99M622.65 194.90V191.03M623.41 194.90V192.95M624.17 194.90V184.22M624.94 194.90V191.35M625.70 194.90V192.28M626.46 194.90V192.82M627.23 194.90V184.22M627.99 194.90V192.57M628.75 194.90V183.07M629.52 194.90V193.08M630.28 194.90V191.98M631.04 194.90V192.38M631.81 194.90V192.63M632.57 194.90V186.53M633.33 194.90V192.05M634.10 194.90V191.31M634.86 194.90V193.04M635.62 194.90V184.22M636.39 194.90V190.90M637.15 194.90V192.38M637.91 194.90V189.49M638.68 194.90V189.99M639.44 194.90V192.63M640.20 194.90V191.33M640.97 194.90V192.43M641.73 194.90V192.79M642.49 194.90V193.02M643.26 194.90V191.39M644.02 194.90V192.22M644.78 194.90V192.97M645.55 194.90V192.57M646.31 194.90V189.53M647.07 194.90V191.67M647.84 194.90V189.27M648.60 194.90V192.81" stroke="#ff8a20" stroke-width="1.0" fill="none"/>
<path d="M492.60 194.30H494.8M492.60 166.17H494.8M492.60 138.03H494.8M492.60 109.90H494.8M492.60 81.77H494.8M492.60 53.63H494.8M492.60 25.50H494.8M493.50 180.23H494.8M493.50 152.10H494.8M493.50 123.97H494.8M493.50 95.83H494.8M493.50 67.70H494.8M493.50 39.57H494.8M652.50 194.30H654.70M652.50 160.54H654.70M652.50 126.78H654.70M652.50 93.02H654.70M652.50 59.26H654.70M652.50 25.50H654.70M652.50 177.42H653.80M652.50 143.66H653.80M652.50 109.90H653.80M652.50 76.14H653.80M652.50 42.38H653.80M496.70 194.3V197.60M534.67 194.3V197.60M572.65 194.3V197.60M610.62 194.3V197.60M648.60 194.3V197.60M515.69 194.3V196.30M553.66 194.3V196.30M591.64 194.3V196.30M629.61 194.3V196.30" stroke="#5a5a5a" stroke-width="1"/>
<text transform="translate(491.30,198.40) scale(0.735,1)" text-anchor="end">-0.2</text>
<text transform="translate(491.30,170.27) scale(0.735,1)" text-anchor="end">0.0</text>
<text transform="translate(491.30,142.13) scale(0.735,1)" text-anchor="end">0.2</text>
<text transform="translate(491.30,114.00) scale(0.735,1)" text-anchor="end">0.4</text>
<text transform="translate(491.30,85.87) scale(0.735,1)" text-anchor="end">0.6</text>
<text transform="translate(491.30,57.73) scale(0.735,1)" text-anchor="end">0.8</text>
<text transform="translate(491.30,29.60) scale(0.735,1)" text-anchor="end">1.0</text>
<text transform="translate(656.30,198.40) scale(0.735,1)" text-anchor="start">0.00</text>
<text transform="translate(656.30,164.64) scale(0.735,1)" text-anchor="start">0.10</text>
<text transform="translate(656.30,130.88) scale(0.735,1)" text-anchor="start">0.20</text>
<text transform="translate(656.30,97.12) scale(0.735,1)" text-anchor="start">0.30</text>
<text transform="translate(656.30,63.36) scale(0.735,1)" text-anchor="start">0.40</text>
<text transform="translate(656.30,29.60) scale(0.735,1)" text-anchor="start">0.50</text>
<text transform="translate(496.70,210.00) scale(0.735,1)" text-anchor="middle">0</text>
<text transform="translate(534.67,210.00) scale(0.735,1)" text-anchor="middle">50</text>
<text transform="translate(572.65,210.00) scale(0.735,1)" text-anchor="middle">100</text>
<text transform="translate(610.62,210.00) scale(0.735,1)" text-anchor="middle">150</text>
<text transform="translate(648.60,210.00) scale(0.735,1)" text-anchor="middle">200</text>
<text transform="translate(574.50,230.10) scale(0.735,1)" text-anchor="middle">Forecasting Sample</text>
<text transform="translate(650.50,39.40) scale(0.735,1)" text-anchor="end">300 Hz</text>
<text transform="translate(472.40,209.00) rotate(-90) scale(1,0.78)" text-anchor="start" font-size="13.05">α</text>
<path d="M465.10 191.10C465.80 195.80 471.60 195.80 472.30 191.10" fill="none" stroke="#111" stroke-width="1.1"/>
<text transform="translate(472.40,188.30) rotate(-90) scale(1,0.78)" text-anchor="start" font-size="13.05">Sound Absorption Coefficient</text>
<path d="M465.10 22.00C465.80 17.30 471.60 17.30 472.30 22.00" fill="none" stroke="#111" stroke-width="1.1"/>
<text transform="translate(683.20,109.90) rotate(-90) scale(1,0.78)" text-anchor="middle" font-size="13.05">Error</text>
<clipPath id="c3"><rect x="32.5" y="261.2" width="157.5" height="168.60000000000002"/></clipPath>
<g clip-path="url(#c3)">
<polyline points="34.72,381.09 35.07,381.09 35.87,350.99 36.21,350.99 37.01,328.91 37.81,395.43 38.16,395.43 38.96,402.60 39.31,402.60 39.66,402.60 40.46,287.04 41.26,349.55 41.60,349.55 42.40,375.36 42.75,375.36 42.81,375.36 43.61,285.04 44.41,316.58 44.47,316.58 45.27,350.99 45.62,350.99 45.96,350.99 46.76,328.91 47.56,378.23 47.91,378.23 48.26,378.23 49.06,295.65 49.86,316.58 50.20,316.58 51.00,361.02 51.35,361.02 52.15,368.19 52.50,368.19 52.56,368.19 53.36,294.50 54.16,350.99 54.51,350.99 55.31,381.09 55.65,381.09 56.00,381.09 56.80,315.14 57.60,394.00 57.95,394.00 58.29,394.00 59.09,349.55 59.15,349.55 59.95,287.04 60.75,394.00 61.10,394.00 61.45,394.00 62.25,320.88 63.05,332.35 63.39,332.35 63.97,303.10 64.77,316.58 65.11,316.58 65.91,386.83 66.26,386.83 66.32,386.83 67.12,298.51 67.92,375.36 67.98,375.36 68.33,375.36 69.13,303.67 69.93,342.38 70.28,342.38 71.08,402.60 71.42,402.60 71.48,402.60 72.28,282.17 73.08,326.61 73.43,326.61 74.23,392.56 74.58,392.56 74.92,392.56 75.72,285.90 76.52,326.61 76.87,326.61 77.67,349.55 78.02,349.55 78.08,349.55 78.88,303.67 78.94,303.67 79.74,300.23 80.54,312.28 80.60,312.28 81.40,350.99 81.75,350.99 82.55,395.43 82.89,395.43 83.24,395.43 84.04,326.61 84.39,326.61 85.19,301.38 85.99,350.99 86.33,350.99 87.13,401.16 87.48,401.16 87.83,401.16 88.63,359.59 88.97,359.59 89.77,344.39 90.57,389.70 90.92,389.70 91.27,389.70 92.07,320.30 92.87,358.15 93.22,358.15 93.56,358.15 94.36,335.79 95.16,398.30 95.51,398.30 95.86,398.30 96.66,305.97 97.46,372.49 97.80,372.49 98.60,383.96 98.95,383.96 99.75,404.03 100.10,404.03 100.16,404.03 100.96,304.25 101.76,318.01 102.10,318.01 102.90,395.43 103.25,395.43 103.31,395.43 104.11,315.14 104.46,315.14 105.26,297.94 106.06,305.11 106.41,305.11 107.21,320.88 107.55,320.88 108.35,388.26 108.70,388.26 109.50,402.60 109.85,402.60 110.19,402.60 110.99,310.84 111.79,401.16 112.72,401.16 113.07,401.16 113.87,312.28 114.67,363.89 115.01,363.89 115.81,401.16 116.16,401.16 116.51,401.16 117.31,346.68 117.66,346.68 118.46,310.84 119.26,389.70 119.60,389.70 119.95,389.70 120.75,332.35 121.55,401.16 121.90,401.16 122.24,401.16 123.04,308.84 123.84,343.82 124.19,343.82 124.99,350.99 125.34,350.99 126.14,369.62 126.48,369.62 126.83,369.62 127.63,328.05 127.69,328.05 128.49,314.57 129.29,332.35 129.35,332.35 130.15,369.62 130.50,369.62 131.30,395.43 131.65,395.43 131.99,395.43 132.79,336.65 133.59,401.16 133.94,401.16 134.29,401.16 135.09,318.58 135.89,395.43 136.23,395.43 136.58,395.43 137.38,345.25 137.73,345.25 138.53,291.63 139.33,320.30 139.67,320.30 140.47,385.39 140.82,385.39 141.17,385.39 141.97,343.24 142.77,398.30 143.11,398.30 143.46,398.30 144.26,346.68 144.61,346.68 145.41,346.68 146.21,395.43 146.56,395.43 146.90,395.43 147.70,352.42 148.05,352.42 148.85,346.68 149.65,385.39 150.00,385.39 150.34,385.39 151.14,325.18 151.94,332.35 152.29,332.35 152.64,332.35 153.44,303.67 154.24,399.73 154.58,399.73 154.64,399.73 155.44,292.20 156.24,371.06 156.59,371.06 156.65,371.06 157.45,303.10 157.80,303.10 158.60,283.03 159.40,293.64 159.75,293.64 160.55,336.65 160.89,336.65 161.24,336.65 162.04,308.84 162.84,319.44 163.19,319.44 163.99,375.36 164.33,375.36 164.68,375.36 165.48,361.02 165.83,361.02 166.63,303.10 167.43,348.12 167.77,348.12 168.57,391.13 168.92,391.13 169.27,391.13 170.07,314.57 170.87,378.23 171.22,378.23 171.28,378.23 172.08,299.37 172.88,346.68 172.94,346.68 173.28,346.68 174.08,306.54 174.88,335.22 175.23,335.22 176.03,401.16 176.38,401.16 176.72,401.16 177.52,285.04 178.32,359.59 178.67,359.59 179.02,359.59 179.82,305.11 180.62,318.01 180.96,318.01 181.76,401.16 182.11,401.16 182.46,401.16 183.26,303.67 184.06,348.12 184.41,348.12 184.75,348.12 185.55,303.67 186.30,401.16" fill="none" stroke="#3030f0" stroke-width="0.35" stroke-linejoin="round"/>
<path d="" stroke="#3535ee" stroke-width="1.1"/>
<polyline points="34.72,381.09 35.07,381.09 35.87,350.99 36.21,350.99 37.01,328.91 37.81,395.43 38.16,395.43 38.96,402.60 39.31,402.60 39.66,402.60 40.46,287.04 41.26,349.55 41.60,349.55 42.40,375.36 42.75,375.36 42.81,375.36 43.61,285.04 44.41,316.58 44.47,316.58 45.27,350.99 45.62,350.99 45.96,350.99 46.76,328.91 47.56,378.23 47.91,378.23 48.26,378.23 49.06,295.65 49.86,316.58 50.20,316.58 51.00,361.02 51.35,361.02 52.15,368.19 52.50,368.19 52.56,368.19 53.36,294.50 54.16,350.99 54.51,350.99 55.31,381.09 55.65,381.09 56.00,381.09 56.80,315.14 57.60,394.00 57.95,394.00 58.29,394.00 59.09,349.55 59.15,349.55 59.95,287.04 60.75,394.00 61.10,394.00 61.45,394.00 62.25,320.88 63.05,332.35 63.39,332.35 63.97,303.10 64.77,316.58 65.11,316.58 65.91,386.83 66.26,386.83 66.32,386.83 67.12,298.51 67.92,375.36 67.98,375.36 68.33,375.36 69.13,303.67 69.93,342.38 70.28,342.38 71.08,402.60 71.42,402.60 71.48,402.60 72.28,282.17 73.08,326.61 73.43,326.61 74.23,392.56 74.58,392.56 74.92,392.56 75.72,285.90 76.52,326.61 76.87,326.61 77.67,349.55 78.02,349.55 78.08,349.55 78.88,303.67 78.94,303.67 79.74,300.23 80.54,312.28 80.60,312.28 81.40,350.99 81.75,350.99 82.55,395.43 82.89,395.43 83.24,395.43 84.04,326.61 84.39,326.61 85.19,301.38 85.99,350.99 86.33,350.99 87.13,401.16 87.48,401.16 87.83,401.16 88.63,359.59 88.97,359.59 89.77,344.39 90.57,389.70 90.92,389.70 91.27,389.70 92.07,320.30 92.87,358.15 93.22,358.15 93.56,358.15 94.36,335.79 95.16,398.30 95.51,398.30 95.86,398.30 96.66,305.97 97.46,372.49 97.80,372.49 98.60,383.96 98.95,383.96 99.75,404.03 100.10,404.03 100.16,404.03 100.96,304.25 101.76,318.01 102.10,318.01 102.90,395.43 103.25,395.43 103.31,395.43 104.11,315.14 104.46,315.14 105.26,297.94 106.06,305.11 106.41,305.11 107.21,320.88 107.55,320.88 108.35,388.26 108.70,388.26 109.50,402.60 109.85,402.60 110.19,402.60 110.99,310.84 111.79,401.16 112.72,401.16 113.07,401.16 113.87,312.28 114.67,363.89 115.01,363.89 115.81,401.16 116.16,401.16 116.51,401.16 117.31,346.68 117.66,346.68 118.46,310.84 119.26,389.70 119.60,389.70 119.95,389.70 120.75,332.35 121.55,401.16 121.90,401.16 122.24,401.16 123.04,308.84 123.84,343.82 124.19,343.82 124.99,350.99 125.34,350.99 126.14,369.62 126.48,369.62 126.83,369.62 127.63,328.05 127.69,328.05 128.49,314.57 129.29,332.35 129.35,332.35 130.15,369.62 130.50,369.62 131.30,395.43 131.65,395.43 131.99,395.43 132.79,336.65 133.59,401.16 133.94,401.16 134.29,401.16 135.09,318.58 135.89,395.43 136.23,395.43 136.58,395.43 137.38,345.25 137.73,345.25 138.53,291.63 139.33,320.30 139.67,320.30 140.47,385.39 140.82,385.39 141.17,385.39 141.97,343.24 142.77,398.30 143.11,398.30 143.46,398.30 144.26,346.68 144.61,346.68 145.41,346.68 146.21,395.43 146.56,395.43 146.90,395.43 147.70,352.42 148.05,352.42 148.85,346.68 149.65,385.39 150.00,385.39 150.34,385.39 151.14,325.18 151.94,332.35 152.29,332.35 152.64,332.35 153.44,303.67 154.24,399.73 154.58,399.73 154.64,399.73 155.44,292.20 156.24,371.06 156.59,371.06 156.65,371.06 157.45,303.10 157.80,303.10 158.60,283.03 159.40,293.64 159.75,293.64 160.55,336.65 160.89,336.65 161.24,336.65 162.04,308.84 162.84,319.44 163.19,319.44 163.99,375.36 164.33,375.36 164.68,375.36 165.48,361.02 165.83,361.02 166.63,303.10 167.43,348.12 167.77,348.12 168.57,391.13 168.92,391.13 169.27,391.13 170.07,314.57 170.87,378.23 171.22,378.23 171.28,378.23 172.08,299.37 172.88,346.68 172.94,346.68 173.28,346.68 174.08,306.54 174.88,335.22 175.23,335.22 176.03,401.16 176.38,401.16 176.72,401.16 177.52,285.04 178.32,359.59 178.67,359.59 179.02,359.59 179.82,305.11 180.62,318.01 180.96,318.01 181.76,401.16 182.11,401.16 182.46,401.16 183.26,303.67 184.06,348.12 184.41,348.12 184.75,348.12 185.55,303.67 186.30,401.16" fill="none" stroke="#dc3450" stroke-width="1.05" stroke-linejoin="round"/>
<path d="M37.01 330.31V331.71M40.46 288.44V289.84M43.61 286.44V287.84M46.76 330.31V331.71M49.06 297.05V298.45M53.36 295.90V297.30M56.80 316.54V317.94M59.95 288.44V289.84M62.25 322.28V323.68M63.97 304.50V305.90M67.12 299.91V301.31M69.13 305.07V306.47M72.28 283.57V284.97M75.72 287.30V288.70M79.74 301.63V303.03M85.19 302.78V304.18M89.77 345.79V347.19M92.07 321.70V323.10M94.36 337.19V338.59M96.66 307.37V308.77M100.96 305.65V307.05M105.26 299.34V300.74M110.99 312.24V313.64M113.87 313.68V315.08M118.46 312.24V313.64M120.75 333.75V335.15M123.04 310.24V311.64M128.49 315.97V317.37M132.79 338.05V339.45M135.09 319.98V321.38M138.53 293.03V294.43M141.97 344.64V346.04M148.85 348.08V349.48M151.14 326.58V327.98M153.44 305.07V306.47M155.44 293.60V295.00M158.60 284.43V285.83M162.04 310.24V311.64M166.63 304.50V305.90M170.07 315.97V317.37M172.08 300.77V302.17M174.08 307.94V309.34M177.52 286.44V287.84M179.82 306.51V307.91M183.26 305.07V306.47M185.55 305.07V306.47" stroke="#5040e0" stroke-width="1.1" opacity="0.8"/>
<path d="M32.97 381.09a1.75 1.75 0 1 0 3.5 0a1.75 1.75 0 1 0 -3.5 0M34.12 350.99a1.75 1.75 0 1 0 3.5 0a1.75 1.75 0 1 0 -3.5 0M35.26 328.91a1.75 1.75 0 1 0 3.5 0a1.75 1.75 0 1 0 -3.5 0M36.41 395.43a1.75 1.75 0 1 0 3.5 0a1.75 1.75 0 1 0 -3.5 0M37.56 402.60a1.75 1.75 0 1 0 3.5 0a1.75 1.75 0 1 0 -3.5 0M38.71 287.04a1.75 1.75 0 1 0 3.5 0a1.75 1.75 0 1 0 -3.5 0M39.85 349.55a1.75 1.75 0 1 0 3.5 0a1.75 1.75 0 1 0 -3.5 0M41.00 375.36a1.75 1.75 0 1 0 3.5 0a1.75 1.75 0 1 0 -3.5 0M41.86 285.04a1.75 1.75 0 1 0 3.5 0a1.75 1.75 0 1 0 -3.5 0M42.72 316.58a1.75 1.75 0 1 0 3.5 0a1.75 1.75 0 1 0 -3.5 0M43.87 350.99a1.75 1.75 0 1 0 3.5 0a1.75 1.75 0 1 0 -3.5 0M45.01 328.91a1.75 1.75 0 1 0 3.5 0a1.75 1.75 0 1 0 -3.5 0M46.16 378.23a1.75 1.75 0 1 0 3.5 0a1.75 1.75 0 1 0 -3.5 0M47.31 295.65a1.75 1.75 0 1 0 3.5 0a1.75 1.75 0 1 0 -3.5 0M48.45 316.58a1.75 1.75 0 1 0 3.5 0a1.75 1.75 0 1 0 -3.5 0M49.60 361.02a1.75 1.75 0 1 0 3.5 0a1.75 1.75 0 1 0 -3.5 0M50.75 368.19a1.75 1.75 0 1 0 3.5 0a1.75 1.75 0 1 0 -3.5 0M51.61 294.50a1.75 1.75 0 1 0 3.5 0a1.75 1.75 0 1 0 -3.5 0M52.76 350.99a1.75 1.75 0 1 0 3.5 0a1.75 1.75 0 1 0 -3.5 0M53.90 381.09a1.75 1.75 0 1 0 3.5 0a1.75 1.75 0 1 0 -3.5 0M55.05 315.14a1.75 1.75 0 1 0 3.5 0a1.75 1.75 0 1 0 -3.5 0M56.20 394.00a1.75 1.75 0 1 0 3.5 0a1.75 1.75 0 1 0 -3.5 0M57.34 349.55a1.75 1.75 0 1 0 3.5 0a1.75 1.75 0 1 0 -3.5 0M58.20 287.04a1.75 1.75 0 1 0 3.5 0a1.75 1.75 0 1 0 -3.5 0M59.35 394.00a1.75 1.75 0 1 0 3.5 0a1.75 1.75 0 1 0 -3.5 0M60.50 320.88a1.75 1.75 0 1 0 3.5 0a1.75 1.75 0 1 0 -3.5 0M61.64 332.35a1.75 1.75 0 1 0 3.5 0a1.75 1.75 0 1 0 -3.5 0M62.22 303.10a1.75 1.75 0 1 0 3.5 0a1.75 1.75 0 1 0 -3.5 0M63.36 316.58a1.75 1.75 0 1 0 3.5 0a1.75 1.75 0 1 0 -3.5 0M64.51 386.83a1.75 1.75 0 1 0 3.5 0a1.75 1.75 0 1 0 -3.5 0M65.37 298.51a1.75 1.75 0 1 0 3.5 0a1.75 1.75 0 1 0 -3.5 0M66.23 375.36a1.75 1.75 0 1 0 3.5 0a1.75 1.75 0 1 0 -3.5 0M67.38 303.67a1.75 1.75 0 1 0 3.5 0a1.75 1.75 0 1 0 -3.5 0M68.53 342.38a1.75 1.75 0 1 0 3.5 0a1.75 1.75 0 1 0 -3.5 0M69.67 402.60a1.75 1.75 0 1 0 3.5 0a1.75 1.75 0 1 0 -3.5 0M70.53 282.17a1.75 1.75 0 1 0 3.5 0a1.75 1.75 0 1 0 -3.5 0M71.68 326.61a1.75 1.75 0 1 0 3.5 0a1.75 1.75 0 1 0 -3.5 0M72.83 392.56a1.75 1.75 0 1 0 3.5 0a1.75 1.75 0 1 0 -3.5 0M73.97 285.90a1.75 1.75 0 1 0 3.5 0a1.75 1.75 0 1 0 -3.5 0M75.12 326.61a1.75 1.75 0 1 0 3.5 0a1.75 1.75 0 1 0 -3.5 0M76.27 349.55a1.75 1.75 0 1 0 3.5 0a1.75 1.75 0 1 0 -3.5 0M77.13 303.67a1.75 1.75 0 1 0 3.5 0a1.75 1.75 0 1 0 -3.5 0M77.99 300.23a1.75 1.75 0 1 0 3.5 0a1.75 1.75 0 1 0 -3.5 0M78.85 312.28a1.75 1.75 0 1 0 3.5 0a1.75 1.75 0 1 0 -3.5 0M80.00 350.99a1.75 1.75 0 1 0 3.5 0a1.75 1.75 0 1 0 -3.5 0M81.14 395.43a1.75 1.75 0 1 0 3.5 0a1.75 1.75 0 1 0 -3.5 0M82.29 326.61a1.75 1.75 0 1 0 3.5 0a1.75 1.75 0 1 0 -3.5 0M83.44 301.38a1.75 1.75 0 1 0 3.5 0a1.75 1.75 0 1 0 -3.5 0M84.58 350.99a1.75 1.75 0 1 0 3.5 0a1.75 1.75 0 1 0 -3.5 0M85.73 401.16a1.75 1.75 0 1 0 3.5 0a1.75 1.75 0 1 0 -3.5 0M86.88 359.59a1.75 1.75 0 1 0 3.5 0a1.75 1.75 0 1 0 -3.5 0M88.02 344.39a1.75 1.75 0 1 0 3.5 0a1.75 1.75 0 1 0 -3.5 0M89.17 389.70a1.75 1.75 0 1 0 3.5 0a1.75 1.75 0 1 0 -3.5 0M90.32 320.30a1.75 1.75 0 1 0 3.5 0a1.75 1.75 0 1 0 -3.5 0M91.47 358.15a1.75 1.75 0 1 0 3.5 0a1.75 1.75 0 1 0 -3.5 0M92.61 335.79a1.75 1.75 0 1 0 3.5 0a1.75 1.75 0 1 0 -3.5 0M93.76 398.30a1.75 1.75 0 1 0 3.5 0a1.75 1.75 0 1 0 -3.5 0M94.91 305.97a1.75 1.75 0 1 0 3.5 0a1.75 1.75 0 1 0 -3.5 0M96.05 372.49a1.75 1.75 0 1 0 3.5 0a1.75 1.75 0 1 0 -3.5 0M97.20 383.96a1.75 1.75 0 1 0 3.5 0a1.75 1.75 0 1 0 -3.5 0M98.35 404.03a1.75 1.75 0 1 0 3.5 0a1.75 1.75 0 1 0 -3.5 0M99.21 304.25a1.75 1.75 0 1 0 3.5 0a1.75 1.75 0 1 0 -3.5 0M100.35 318.01a1.75 1.75 0 1 0 3.5 0a1.75 1.75 0 1 0 -3.5 0M101.50 395.43a1.75 1.75 0 1 0 3.5 0a1.75 1.75 0 1 0 -3.5 0M102.36 315.14a1.75 1.75 0 1 0 3.5 0a1.75 1.75 0 1 0 -3.5 0M103.51 297.94a1.75 1.75 0 1 0 3.5 0a1.75 1.75 0 1 0 -3.5 0M104.66 305.11a1.75 1.75 0 1 0 3.5 0a1.75 1.75 0 1 0 -3.5 0M105.80 320.88a1.75 1.75 0 1 0 3.5 0a1.75 1.75 0 1 0 -3.5 0M106.95 388.26a1.75 1.75 0 1 0 3.5 0a1.75 1.75 0 1 0 -3.5 0M108.10 402.60a1.75 1.75 0 1 0 3.5 0a1.75 1.75 0 1 0 -3.5 0M109.24 310.84a1.75 1.75 0 1 0 3.5 0a1.75 1.75 0 1 0 -3.5 0M110.97 401.16a1.75 1.75 0 1 0 3.5 0a1.75 1.75 0 1 0 -3.5 0M112.12 312.28a1.75 1.75 0 1 0 3.5 0a1.75 1.75 0 1 0 -3.5 0M113.26 363.89a1.75 1.75 0 1 0 3.5 0a1.75 1.75 0 1 0 -3.5 0M114.41 401.16a1.75 1.75 0 1 0 3.5 0a1.75 1.75 0 1 0 -3.5 0M115.56 346.68a1.75 1.75 0 1 0 3.5 0a1.75 1.75 0 1 0 -3.5 0M116.71 310.84a1.75 1.75 0 1 0 3.5 0a1.75 1.75 0 1 0 -3.5 0M117.85 389.70a1.75 1.75 0 1 0 3.5 0a1.75 1.75 0 1 0 -3.5 0M119.00 332.35a1.75 1.75 0 1 0 3.5 0a1.75 1.75 0 1 0 -3.5 0M120.15 401.16a1.75 1.75 0 1 0 3.5 0a1.75 1.75 0 1 0 -3.5 0M121.29 308.84a1.75 1.75 0 1 0 3.5 0a1.75 1.75 0 1 0 -3.5 0M122.44 343.82a1.75 1.75 0 1 0 3.5 0a1.75 1.75 0 1 0 -3.5 0M123.59 350.99a1.75 1.75 0 1 0 3.5 0a1.75 1.75 0 1 0 -3.5 0M124.73 369.62a1.75 1.75 0 1 0 3.5 0a1.75 1.75 0 1 0 -3.5 0M125.88 328.05a1.75 1.75 0 1 0 3.5 0a1.75 1.75 0 1 0 -3.5 0M126.74 314.57a1.75 1.75 0 1 0 3.5 0a1.75 1.75 0 1 0 -3.5 0M127.60 332.35a1.75 1.75 0 1 0 3.5 0a1.75 1.75 0 1 0 -3.5 0M128.75 369.62a1.75 1.75 0 1 0 3.5 0a1.75 1.75 0 1 0 -3.5 0M129.90 395.43a1.75 1.75 0 1 0 3.5 0a1.75 1.75 0 1 0 -3.5 0M131.04 336.65a1.75 1.75 0 1 0 3.5 0a1.75 1.75 0 1 0 -3.5 0M132.19 401.16a1.75 1.75 0 1 0 3.5 0a1.75 1.75 0 1 0 -3.5 0M133.34 318.58a1.75 1.75 0 1 0 3.5 0a1.75 1.75 0 1 0 -3.5 0M134.48 395.43a1.75 1.75 0 1 0 3.5 0a1.75 1.75 0 1 0 -3.5 0M135.63 345.25a1.75 1.75 0 1 0 3.5 0a1.75 1.75 0 1 0 -3.5 0M136.78 291.63a1.75 1.75 0 1 0 3.5 0a1.75 1.75 0 1 0 -3.5 0M137.92 320.30a1.75 1.75 0 1 0 3.5 0a1.75 1.75 0 1 0 -3.5 0M139.07 385.39a1.75 1.75 0 1 0 3.5 0a1.75 1.75 0 1 0 -3.5 0M140.22 343.24a1.75 1.75 0 1 0 3.5 0a1.75 1.75 0 1 0 -3.5 0M141.36 398.30a1.75 1.75 0 1 0 3.5 0a1.75 1.75 0 1 0 -3.5 0M142.51 346.68a1.75 1.75 0 1 0 3.5 0a1.75 1.75 0 1 0 -3.5 0M143.66 346.68a1.75 1.75 0 1 0 3.5 0a1.75 1.75 0 1 0 -3.5 0M144.81 395.43a1.75 1.75 0 1 0 3.5 0a1.75 1.75 0 1 0 -3.5 0M145.95 352.42a1.75 1.75 0 1 0 3.5 0a1.75 1.75 0 1 0 -3.5 0M147.10 346.68a1.75 1.75 0 1 0 3.5 0a1.75 1.75 0 1 0 -3.5 0M148.25 385.39a1.75 1.75 0 1 0 3.5 0a1.75 1.75 0 1 0 -3.5 0M149.39 325.18a1.75 1.75 0 1 0 3.5 0a1.75 1.75 0 1 0 -3.5 0M150.54 332.35a1.75 1.75 0 1 0 3.5 0a1.75 1.75 0 1 0 -3.5 0M151.69 303.67a1.75 1.75 0 1 0 3.5 0a1.75 1.75 0 1 0 -3.5 0M152.83 399.73a1.75 1.75 0 1 0 3.5 0a1.75 1.75 0 1 0 -3.5 0M153.69 292.20a1.75 1.75 0 1 0 3.5 0a1.75 1.75 0 1 0 -3.5 0M154.84 371.06a1.75 1.75 0 1 0 3.5 0a1.75 1.75 0 1 0 -3.5 0M155.70 303.10a1.75 1.75 0 1 0 3.5 0a1.75 1.75 0 1 0 -3.5 0M156.85 283.03a1.75 1.75 0 1 0 3.5 0a1.75 1.75 0 1 0 -3.5 0M158.00 293.64a1.75 1.75 0 1 0 3.5 0a1.75 1.75 0 1 0 -3.5 0M159.14 336.65a1.75 1.75 0 1 0 3.5 0a1.75 1.75 0 1 0 -3.5 0M160.29 308.84a1.75 1.75 0 1 0 3.5 0a1.75 1.75 0 1 0 -3.5 0M161.44 319.44a1.75 1.75 0 1 0 3.5 0a1.75 1.75 0 1 0 -3.5 0M162.58 375.36a1.75 1.75 0 1 0 3.5 0a1.75 1.75 0 1 0 -3.5 0M163.73 361.02a1.75 1.75 0 1 0 3.5 0a1.75 1.75 0 1 0 -3.5 0M164.88 303.10a1.75 1.75 0 1 0 3.5 0a1.75 1.75 0 1 0 -3.5 0M166.02 348.12a1.75 1.75 0 1 0 3.5 0a1.75 1.75 0 1 0 -3.5 0M167.17 391.13a1.75 1.75 0 1 0 3.5 0a1.75 1.75 0 1 0 -3.5 0M168.32 314.57a1.75 1.75 0 1 0 3.5 0a1.75 1.75 0 1 0 -3.5 0M169.47 378.23a1.75 1.75 0 1 0 3.5 0a1.75 1.75 0 1 0 -3.5 0M170.33 299.37a1.75 1.75 0 1 0 3.5 0a1.75 1.75 0 1 0 -3.5 0M171.19 346.68a1.75 1.75 0 1 0 3.5 0a1.75 1.75 0 1 0 -3.5 0M172.33 306.54a1.75 1.75 0 1 0 3.5 0a1.75 1.75 0 1 0 -3.5 0M173.48 335.22a1.75 1.75 0 1 0 3.5 0a1.75 1.75 0 1 0 -3.5 0M174.63 401.16a1.75 1.75 0 1 0 3.5 0a1.75 1.75 0 1 0 -3.5 0M175.77 285.04a1.75 1.75 0 1 0 3.5 0a1.75 1.75 0 1 0 -3.5 0M176.92 359.59a1.75 1.75 0 1 0 3.5 0a1.75 1.75 0 1 0 -3.5 0M178.07 305.11a1.75 1.75 0 1 0 3.5 0a1.75 1.75 0 1 0 -3.5 0M179.21 318.01a1.75 1.75 0 1 0 3.5 0a1.75 1.75 0 1 0 -3.5 0M180.36 401.16a1.75 1.75 0 1 0 3.5 0a1.75 1.75 0 1 0 -3.5 0M181.51 303.67a1.75 1.75 0 1 0 3.5 0a1.75 1.75 0 1 0 -3.5 0M182.66 348.12a1.75 1.75 0 1 0 3.5 0a1.75 1.75 0 1 0 -3.5 0M183.80 303.67a1.75 1.75 0 1 0 3.5 0a1.75 1.75 0 1 0 -3.5 0M184.55 401.16a1.75 1.75 0 1 0 3.5 0a1.75 1.75 0 1 0 -3.5 0M110.50 401.16a1.75 1.75 0 1 0 3.5 0a1.75 1.75 0 1 0 -3.5 0" fill="#fbe2e5" fill-opacity="0.8" stroke="#ec6c7c" stroke-width="0.7"/>
</g>
<rect x="32.5" y="261.2" width="157.5" height="168.60000000000002" fill="none" stroke="#858585" stroke-width="1.2"/>
<path d="M34.40 430.40V428.67M35.16 430.40V420.22M35.93 430.40V427.54M36.69 430.40V427.46M37.45 430.40V406.38M38.22 430.40V428.45M38.98 430.40V426.24M39.74 430.40V428.59M40.51 430.40V428.74M41.27 430.40V427.82M42.03 430.40V427.28M42.80 430.40V425.99M43.56 430.40V428.01M44.32 430.40V427.49M45.09 430.40V428.30M45.85 430.40V428.21M46.61 430.40V427.00M47.38 430.40V425.99M48.14 430.40V426.60M48.90 430.40V428.48M49.67 430.40V428.57M50.43 430.40V428.37M51.19 430.40V428.71M51.96 430.40V427.00M52.72 430.40V428.69M53.48 430.40V428.48M54.25 430.40V421.84M55.01 430.40V427.66M55.77 430.40V428.26M56.54 430.40V426.08M57.30 430.40V428.12M58.06 430.40V425.83M58.83 430.40V426.88M59.59 430.40V427.31M60.35 430.40V425.83M61.12 430.40V427.72M61.88 430.40V428.36M62.64 430.40V428.38M63.41 430.40V428.18M64.17 430.40V428.09M64.93 430.40V427.39M65.70 430.40V428.49M66.46 430.40V428.00M67.22 430.40V427.98M67.99 430.40V421.37M68.75 430.40V428.74M69.51 430.40V427.74M70.28 430.40V427.36M71.04 430.40V426.28M71.80 430.40V427.32M72.57 430.40V427.51M73.33 430.40V425.97M74.09 430.40V426.23M74.86 430.40V425.55M75.62 430.40V428.42M76.38 430.40V428.09M77.15 430.40V426.56M77.91 430.40V426.12M78.67 430.40V427.35M79.44 430.40V427.81M80.20 430.40V428.59M80.96 430.40V427.89M81.73 430.40V427.94M82.49 430.40V427.26M83.25 430.40V428.69M84.02 430.40V428.32M84.78 430.40V426.32M85.54 430.40V423.68M86.31 430.40V426.74M87.07 430.40V427.52M87.83 430.40V428.15M88.60 430.40V428.39M89.36 430.40V428.17M90.12 430.40V426.58M90.89 430.40V428.52M91.65 430.40V428.51M92.41 430.40V409.84M93.18 430.40V428.53M93.94 430.40V413.30M94.70 430.40V427.61M95.47 430.40V426.02M96.23 430.40V426.22M96.99 430.40V423.93M97.76 430.40V428.63M98.52 430.40V428.60M99.28 430.40V424.84M100.05 430.40V428.52M100.81 430.40V428.60M101.57 430.40V428.35M102.34 430.40V427.49M103.10 430.40V428.20M103.86 430.40V428.30M104.63 430.40V426.18M105.39 430.40V428.08M106.15 430.40V427.47M106.92 430.40V425.66M107.68 430.40V421.84M108.44 430.40V428.00M109.21 430.40V427.21M109.97 430.40V428.40M110.73 430.40V427.68M111.49 430.40V427.37M112.26 430.40V427.05M113.02 430.40V428.12M113.78 430.40V425.99M114.55 430.40V428.21M115.31 430.40V426.84M116.07 430.40V427.90M116.84 430.40V428.71M117.60 430.40V427.66M118.36 430.40V427.18M119.13 430.40V428.57M119.89 430.40V428.60M120.65 430.40V428.74M121.42 430.40V427.27M122.18 430.40V427.90M122.94 430.40V423.68M123.71 430.40V428.57M124.47 430.40V428.48M125.23 430.40V428.45M126.00 430.40V427.75M126.76 430.40V427.71M127.52 430.40V419.53M128.29 430.40V427.66M129.05 430.40V428.21M129.81 430.40V426.67M130.58 430.40V428.33M131.34 430.40V428.73M132.10 430.40V427.24M132.87 430.40V425.70M133.63 430.40V428.79M134.39 430.40V427.31M135.16 430.40V427.81M135.92 430.40V428.15M136.68 430.40V428.03M137.45 430.40V427.92M138.21 430.40V427.56M138.97 430.40V427.47M139.74 430.40V428.39M140.50 430.40V427.55M141.26 430.40V428.76M142.03 430.40V428.49M142.79 430.40V426.80M143.55 430.40V427.87M144.32 430.40V428.45M145.08 430.40V427.91M145.84 430.40V428.47M146.61 430.40V427.86M147.37 430.40V428.25M148.13 430.40V413.99M148.90 430.40V428.60M149.66 430.40V428.21M150.42 430.40V428.27M151.19 430.40V427.71M151.95 430.40V428.07M152.71 430.40V427.54M153.48 430.40V428.29M154.24 430.40V428.15M155.00 430.40V427.79M155.77 430.40V427.13M156.53 430.40V427.69M157.29 430.40V416.76M158.06 430.40V428.69M158.82 430.40V428.12M159.58 430.40V427.94M160.35 430.40V428.64M161.11 430.40V427.90M161.87 430.40V426.38M162.64 430.40V428.36M163.40 430.40V427.80M164.16 430.40V423.68M164.93 430.40V426.99M165.69 430.40V428.37M166.45 430.40V423.22M167.22 430.40V428.03M167.98 430.40V427.98M168.74 430.40V428.51M169.51 430.40V423.68M170.27 430.40V428.00M171.03 430.40V427.65M171.80 430.40V423.22M172.56 430.40V428.13M173.32 430.40V428.11M174.09 430.40V423.22M174.85 430.40V425.57M175.61 430.40V428.71M176.38 430.40V425.90M177.14 430.40V426.08M177.90 430.40V425.77M178.67 430.40V427.47M179.43 430.40V427.94M180.19 430.40V428.38M180.96 430.40V425.99M181.72 430.40V426.23M182.48 430.40V427.95M183.25 430.40V427.40M184.01 430.40V428.50M184.77 430.40V427.60M185.54 430.40V425.99M186.30 430.40V428.30" stroke="#ff8a20" stroke-width="1.0" fill="none"/>
<path d="M30.30 429.80H32.5M30.30 403.86H32.5M30.30 377.92H32.5M30.30 351.98H32.5M30.30 326.05H32.5M30.30 300.11H32.5M30.30 274.17H32.5M31.20 416.83H32.5M31.20 390.89H32.5M31.20 364.95H32.5M31.20 339.02H32.5M31.20 313.08H32.5M31.20 287.14H32.5M190.00 429.80H192.20M190.00 396.08H192.20M190.00 362.36H192.20M190.00 328.64H192.20M190.00 294.92H192.20M190.00 261.20H192.20M190.00 412.94H191.30M190.00 379.22H191.30M190.00 345.50H191.30M190.00 311.78H191.30M190.00 278.06H191.30M34.40 429.8V433.10M72.38 429.8V433.10M110.35 429.8V433.10M148.32 429.8V433.10M186.30 429.8V433.10M53.39 429.8V431.80M91.36 429.8V431.80M129.34 429.8V431.80M167.31 429.8V431.80" stroke="#5a5a5a" stroke-width="1"/>
<text transform="translate(29.00,433.90) scale(0.735,1)" text-anchor="end">-0.2</text>
<text transform="translate(29.00,407.96) scale(0.735,1)" text-anchor="end">0.0</text>
<text transform="translate(29.00,382.02) scale(0.735,1)" text-anchor="end">0.2</text>
<text transform="translate(29.00,356.08) scale(0.735,1)" text-anchor="end">0.4</text>
<text transform="translate(29.00,330.15) scale(0.735,1)" text-anchor="end">0.6</text>
<text transform="translate(29.00,304.21) scale(0.735,1)" text-anchor="end">0.8</text>
<text transform="translate(29.00,278.27) scale(0.735,1)" text-anchor="end">1.0</text>
<text transform="translate(193.80,433.90) scale(0.735,1)" text-anchor="start">0.00</text>
<text transform="translate(193.80,400.18) scale(0.735,1)" text-anchor="start">0.10</text>
<text transform="translate(193.80,366.46) scale(0.735,1)" text-anchor="start">0.20</text>
<text transform="translate(193.80,332.74) scale(0.735,1)" text-anchor="start">0.30</text>
<text transform="translate(193.80,299.02) scale(0.735,1)" text-anchor="start">0.40</text>
<text transform="translate(193.80,265.30) scale(0.735,1)" text-anchor="start">0.50</text>
<text transform="translate(34.40,445.50) scale(0.735,1)" text-anchor="middle">0</text>
<text transform="translate(72.38,445.50) scale(0.735,1)" text-anchor="middle">50</text>
<text transform="translate(110.35,445.50) scale(0.735,1)" text-anchor="middle">100</text>
<text transform="translate(148.32,445.50) scale(0.735,1)" text-anchor="middle">150</text>
<text transform="translate(186.30,445.50) scale(0.735,1)" text-anchor="middle">200</text>
<text transform="translate(112.10,465.60) scale(0.735,1)" text-anchor="middle">Forecasting Sample</text>
<text transform="translate(188.00,275.10) scale(0.735,1)" text-anchor="end">400 Hz</text>
<text transform="translate(10.10,444.50) rotate(-90) scale(1,0.78)" text-anchor="start" font-size="13.05">α</text>
<path d="M2.80 426.60C3.50 431.30 9.30 431.30 10.00 426.60" fill="none" stroke="#111" stroke-width="1.1"/>
<text transform="translate(10.10,423.80) rotate(-90) scale(1,0.78)" text-anchor="start" font-size="13.05">Sound Absorption Coefficient</text>
<path d="M2.80 257.70C3.50 253.00 9.30 253.00 10.00 257.70" fill="none" stroke="#111" stroke-width="1.1"/>
<text transform="translate(220.70,345.50) rotate(-90) scale(1,0.78)" text-anchor="middle" font-size="13.05">Error</text>
<clipPath id="c4"><rect x="263.5" y="261.2" width="158.0" height="168.60000000000002"/></clipPath>
<g clip-path="url(#c4)">
<polyline points="265.70,330.91 266.44,369.62 266.79,369.62 267.59,280.73 268.39,391.13 268.73,391.13 269.53,402.60 269.88,402.60 270.23,402.60 271.03,381.09 271.83,392.56 272.18,392.56 272.52,392.56 273.32,320.88 273.90,282.17 274.70,350.99 275.04,350.99 275.10,350.99 275.90,282.17 276.25,282.17 277.05,281.31 277.85,363.89 278.20,363.89 279.00,369.62 279.34,369.62 280.14,378.23 280.49,378.23 281.29,385.39 281.35,385.39 281.41,385.39 282.21,310.84 282.27,310.84 283.07,287.90 283.87,392.56 284.22,392.56 284.57,392.56 285.37,316.58 285.71,316.58 286.51,303.10 287.31,329.48 287.66,329.48 288.23,402.60 288.29,402.60 289.09,293.64 289.15,293.64 289.95,283.60 290.75,300.81 290.81,300.81 291.61,391.13 291.67,391.13 291.73,391.13 292.53,279.30 293.33,375.36 293.39,375.36 293.74,375.36 294.54,361.02 294.60,361.02 295.40,358.15 296.20,398.30 296.26,398.30 296.61,398.30 297.41,366.76 298.21,373.92 298.56,373.92 299.36,394.00 299.70,394.00 300.05,394.00 300.85,295.07 301.65,349.55 302.00,349.55 302.80,402.60 303.14,402.60 303.49,402.60 304.29,335.22 304.64,335.22 305.44,280.16 306.24,389.70 306.58,389.70 307.38,401.16 307.73,401.16 308.08,401.16 308.88,330.91 309.68,332.35 310.03,332.35 310.83,402.60 311.17,402.60 311.52,402.60 312.32,309.41 312.38,309.41 313.18,300.81 313.98,358.15 314.33,358.15 315.13,382.53 315.47,382.53 315.82,382.53 316.62,343.82 316.97,343.82 317.77,300.81 318.57,326.61 318.91,326.61 319.71,402.60 320.06,402.60 320.41,402.60 321.21,286.47 322.01,355.29 322.35,355.29 322.70,355.29 323.50,280.73 324.30,401.16 324.65,401.16 324.71,401.16 325.51,317.44 326.31,381.09 326.66,381.09 327.46,401.16 327.80,401.16 328.15,401.16 328.95,302.24 329.75,352.42 330.10,352.42 330.90,386.83 331.24,386.83 331.59,386.83 332.39,280.73 333.19,343.82 333.54,343.82 333.88,343.82 334.68,280.73 335.48,401.16 335.54,401.16 335.61,401.16 336.41,289.34 337.21,306.54 337.55,306.54 338.35,402.60 338.70,402.60 339.05,402.60 339.85,352.42 340.19,352.42 340.99,287.90 341.79,358.15 342.72,358.15 343.07,358.15 343.87,287.90 344.67,305.11 345.01,305.11 345.81,401.16 346.16,401.16 346.51,401.16 347.31,401.16 347.66,401.16 348.46,381.09 348.80,381.09 349.60,332.35 350.40,375.36 350.75,375.36 351.10,375.36 351.90,359.59 352.47,279.30 353.27,401.16 353.62,401.16 353.96,401.16 354.76,336.65 355.56,355.29 355.91,355.29 356.71,401.16 357.06,401.16 357.12,401.16 357.92,319.44 358.72,375.36 359.06,375.36 359.86,401.16 360.21,401.16 360.56,401.16 361.36,363.89 362.16,389.70 362.51,389.70 363.31,401.16 363.37,401.16 363.71,401.16 364.51,335.22 364.86,335.22 365.66,295.65 366.46,349.55 366.81,349.55 367.61,401.16 367.95,401.16 368.53,283.60 369.33,383.96 369.67,383.96 370.02,383.96 370.82,283.03 371.62,307.97 371.97,307.97 372.77,401.16 373.11,401.16 373.17,401.16 373.97,340.95 374.04,340.95 374.84,283.60 375.64,375.36 375.98,375.36 376.33,375.36 377.13,368.19 377.70,287.90 378.50,320.88 378.85,320.88 379.65,394.00 380.00,394.00 380.80,401.16 381.14,401.16 381.49,401.16 382.29,375.36 383.09,395.43 383.44,395.43 383.78,395.43 384.58,366.76 385.38,376.79 385.73,376.79 385.79,376.79 386.59,326.61 387.39,369.62 387.74,369.62 388.54,381.09 388.89,381.09 389.23,381.09 390.03,329.48 390.38,329.48 391.18,285.90 391.98,395.43 392.33,395.43 392.67,395.43 393.47,352.42 394.27,401.16 394.62,401.16 394.68,401.16 395.48,293.64 396.28,309.41 396.63,309.41 397.43,363.89 397.77,363.89 398.57,394.00 398.92,394.00 399.27,394.00 400.07,349.55 400.87,372.49 401.22,372.49 402.02,401.16 402.36,401.16 402.71,401.16 403.51,296.51 403.57,296.51 404.37,280.73 405.17,286.47 405.23,286.47 406.03,383.96 406.38,383.96 406.72,383.96 407.52,297.94 408.32,343.82 408.67,343.82 409.47,401.16 409.82,401.16 410.16,401.16 410.96,392.56 411.31,392.56 412.11,287.90 412.91,401.16 413.26,401.16 413.61,401.16 414.41,297.94 415.21,335.22 415.55,335.22 416.35,361.02 416.70,361.02 417.30,401.16" fill="none" stroke="#3030f0" stroke-width="0.35" stroke-linejoin="round"/>
<path d="M288.50 284.00V292.00" stroke="#3535ee" stroke-width="1.1"/>
<polyline points="265.70,330.91 266.44,369.62 266.79,369.62 267.59,280.73 268.39,391.13 268.73,391.13 269.53,402.60 269.88,402.60 270.23,402.60 271.03,381.09 271.83,392.56 272.18,392.56 272.52,392.56 273.32,320.88 273.90,282.17 274.70,350.99 275.04,350.99 275.10,350.99 275.90,282.17 276.25,282.17 277.05,281.31 277.85,363.89 278.20,363.89 279.00,369.62 279.34,369.62 280.14,378.23 280.49,378.23 281.29,385.39 281.35,385.39 281.41,385.39 282.21,310.84 282.27,310.84 283.07,287.90 283.87,392.56 284.22,392.56 284.57,392.56 285.37,316.58 285.71,316.58 286.51,303.10 287.31,329.48 287.66,329.48 288.23,402.60 288.29,402.60 289.09,293.64 289.15,293.64 289.95,283.60 290.75,300.81 290.81,300.81 291.61,391.13 291.67,391.13 291.73,391.13 292.53,279.30 293.33,375.36 293.39,375.36 293.74,375.36 294.54,361.02 294.60,361.02 295.40,358.15 296.20,398.30 296.26,398.30 296.61,398.30 297.41,366.76 298.21,373.92 298.56,373.92 299.36,394.00 299.70,394.00 300.05,394.00 300.85,295.07 301.65,349.55 302.00,349.55 302.80,402.60 303.14,402.60 303.49,402.60 304.29,335.22 304.64,335.22 305.44,280.16 306.24,389.70 306.58,389.70 307.38,401.16 307.73,401.16 308.08,401.16 308.88,330.91 309.68,332.35 310.03,332.35 310.83,402.60 311.17,402.60 311.52,402.60 312.32,309.41 312.38,309.41 313.18,300.81 313.98,358.15 314.33,358.15 315.13,382.53 315.47,382.53 315.82,382.53 316.62,343.82 316.97,343.82 317.77,300.81 318.57,326.61 318.91,326.61 319.71,402.60 320.06,402.60 320.41,402.60 321.21,286.47 322.01,355.29 322.35,355.29 322.70,355.29 323.50,280.73 324.30,401.16 324.65,401.16 324.71,401.16 325.51,317.44 326.31,381.09 326.66,381.09 327.46,401.16 327.80,401.16 328.15,401.16 328.95,302.24 329.75,352.42 330.10,352.42 330.90,386.83 331.24,386.83 331.59,386.83 332.39,280.73 333.19,343.82 333.54,343.82 333.88,343.82 334.68,280.73 335.48,401.16 335.54,401.16 335.61,401.16 336.41,289.34 337.21,306.54 337.55,306.54 338.35,402.60 338.70,402.60 339.05,402.60 339.85,352.42 340.19,352.42 340.99,287.90 341.79,358.15 342.72,358.15 343.07,358.15 343.87,287.90 344.67,305.11 345.01,305.11 345.81,401.16 346.16,401.16 346.51,401.16 347.31,401.16 347.66,401.16 348.46,381.09 348.80,381.09 349.60,332.35 350.40,375.36 350.75,375.36 351.10,375.36 351.90,359.59 352.47,279.30 353.27,401.16 353.62,401.16 353.96,401.16 354.76,336.65 355.56,355.29 355.91,355.29 356.71,401.16 357.06,401.16 357.12,401.16 357.92,319.44 358.72,375.36 359.06,375.36 359.86,401.16 360.21,401.16 360.56,401.16 361.36,363.89 362.16,389.70 362.51,389.70 363.31,401.16 363.37,401.16 363.71,401.16 364.51,335.22 364.86,335.22 365.66,295.65 366.46,349.55 366.81,349.55 367.61,401.16 367.95,401.16 368.53,283.60 369.33,383.96 369.67,383.96 370.02,383.96 370.82,283.03 371.62,307.97 371.97,307.97 372.77,401.16 373.11,401.16 373.17,401.16 373.97,340.95 374.04,340.95 374.84,283.60 375.64,375.36 375.98,375.36 376.33,375.36 377.13,368.19 377.70,287.90 378.50,320.88 378.85,320.88 379.65,394.00 380.00,394.00 380.80,401.16 381.14,401.16 381.49,401.16 382.29,375.36 383.09,395.43 383.44,395.43 383.78,395.43 384.58,366.76 385.38,376.79 385.73,376.79 385.79,376.79 386.59,326.61 387.39,369.62 387.74,369.62 388.54,381.09 388.89,381.09 389.23,381.09 390.03,329.48 390.38,329.48 391.18,285.90 391.98,395.43 392.33,395.43 392.67,395.43 393.47,352.42 394.27,401.16 394.62,401.16 394.68,401.16 395.48,293.64 396.28,309.41 396.63,309.41 397.43,363.89 397.77,363.89 398.57,394.00 398.92,394.00 399.27,394.00 400.07,349.55 400.87,372.49 401.22,372.49 402.02,401.16 402.36,401.16 402.71,401.16 403.51,296.51 403.57,296.51 404.37,280.73 405.17,286.47 405.23,286.47 406.03,383.96 406.38,383.96 406.72,383.96 407.52,297.94 408.32,343.82 408.67,343.82 409.47,401.16 409.82,401.16 410.16,401.16 410.96,392.56 411.31,392.56 412.11,287.90 412.91,401.16 413.26,401.16 413.61,401.16 414.41,297.94 415.21,335.22 415.55,335.22 416.35,361.02 416.70,361.02 417.30,401.16" fill="none" stroke="#dc3450" stroke-width="1.05" stroke-linejoin="round"/>
<path d="M267.59 282.13V283.53M271.03 382.49V383.89M273.90 283.57V284.97M277.05 282.71V284.11M283.07 289.30V290.70M286.51 304.50V305.90M289.95 285.00V286.40M292.53 280.70V282.10M295.40 359.55V360.95M297.41 368.16V369.56M300.85 296.47V297.87M305.44 281.56V282.96M308.88 332.31V333.71M313.18 302.21V303.61M317.77 302.21V303.61M321.21 287.87V289.27M323.50 282.13V283.53M325.51 318.84V320.24M328.95 303.64V305.04M332.39 282.13V283.53M334.68 282.13V283.53M336.41 290.74V292.14M340.99 289.30V290.70M343.87 289.30V290.70M349.60 333.75V335.15M352.47 280.70V282.10M354.76 338.05V339.45M357.92 320.84V322.24M361.36 365.29V366.69M365.66 297.05V298.45M368.53 285.00V286.40M370.82 284.43V285.83M374.84 285.00V286.40M377.70 289.30V290.70M382.29 376.76V378.16M384.58 368.16V369.56M386.59 328.01V329.41M391.18 287.30V288.70M393.47 353.82V355.22M395.48 295.04V296.44M400.07 350.95V352.35M404.37 282.13V283.53M407.52 299.34V300.74M412.11 289.30V290.70M414.41 299.34V300.74" stroke="#5040e0" stroke-width="1.1" opacity="0.8"/>
<path d="M263.95 330.91a1.75 1.75 0 1 0 3.5 0a1.75 1.75 0 1 0 -3.5 0M264.69 369.62a1.75 1.75 0 1 0 3.5 0a1.75 1.75 0 1 0 -3.5 0M265.84 280.73a1.75 1.75 0 1 0 3.5 0a1.75 1.75 0 1 0 -3.5 0M266.98 391.13a1.75 1.75 0 1 0 3.5 0a1.75 1.75 0 1 0 -3.5 0M268.13 402.60a1.75 1.75 0 1 0 3.5 0a1.75 1.75 0 1 0 -3.5 0M269.28 381.09a1.75 1.75 0 1 0 3.5 0a1.75 1.75 0 1 0 -3.5 0M270.43 392.56a1.75 1.75 0 1 0 3.5 0a1.75 1.75 0 1 0 -3.5 0M271.57 320.88a1.75 1.75 0 1 0 3.5 0a1.75 1.75 0 1 0 -3.5 0M272.15 282.17a1.75 1.75 0 1 0 3.5 0a1.75 1.75 0 1 0 -3.5 0M273.29 350.99a1.75 1.75 0 1 0 3.5 0a1.75 1.75 0 1 0 -3.5 0M274.15 282.17a1.75 1.75 0 1 0 3.5 0a1.75 1.75 0 1 0 -3.5 0M275.30 281.31a1.75 1.75 0 1 0 3.5 0a1.75 1.75 0 1 0 -3.5 0M276.45 363.89a1.75 1.75 0 1 0 3.5 0a1.75 1.75 0 1 0 -3.5 0M277.59 369.62a1.75 1.75 0 1 0 3.5 0a1.75 1.75 0 1 0 -3.5 0M278.74 378.23a1.75 1.75 0 1 0 3.5 0a1.75 1.75 0 1 0 -3.5 0M279.60 385.39a1.75 1.75 0 1 0 3.5 0a1.75 1.75 0 1 0 -3.5 0M280.46 310.84a1.75 1.75 0 1 0 3.5 0a1.75 1.75 0 1 0 -3.5 0M281.32 287.90a1.75 1.75 0 1 0 3.5 0a1.75 1.75 0 1 0 -3.5 0M282.47 392.56a1.75 1.75 0 1 0 3.5 0a1.75 1.75 0 1 0 -3.5 0M283.62 316.58a1.75 1.75 0 1 0 3.5 0a1.75 1.75 0 1 0 -3.5 0M284.76 303.10a1.75 1.75 0 1 0 3.5 0a1.75 1.75 0 1 0 -3.5 0M285.91 329.48a1.75 1.75 0 1 0 3.5 0a1.75 1.75 0 1 0 -3.5 0M286.48 402.60a1.75 1.75 0 1 0 3.5 0a1.75 1.75 0 1 0 -3.5 0M287.34 293.64a1.75 1.75 0 1 0 3.5 0a1.75 1.75 0 1 0 -3.5 0M288.20 283.60a1.75 1.75 0 1 0 3.5 0a1.75 1.75 0 1 0 -3.5 0M289.06 300.81a1.75 1.75 0 1 0 3.5 0a1.75 1.75 0 1 0 -3.5 0M289.92 391.13a1.75 1.75 0 1 0 3.5 0a1.75 1.75 0 1 0 -3.5 0M290.78 279.30a1.75 1.75 0 1 0 3.5 0a1.75 1.75 0 1 0 -3.5 0M291.64 375.36a1.75 1.75 0 1 0 3.5 0a1.75 1.75 0 1 0 -3.5 0M292.79 361.02a1.75 1.75 0 1 0 3.5 0a1.75 1.75 0 1 0 -3.5 0M293.65 358.15a1.75 1.75 0 1 0 3.5 0a1.75 1.75 0 1 0 -3.5 0M294.51 398.30a1.75 1.75 0 1 0 3.5 0a1.75 1.75 0 1 0 -3.5 0M295.66 366.76a1.75 1.75 0 1 0 3.5 0a1.75 1.75 0 1 0 -3.5 0M296.81 373.92a1.75 1.75 0 1 0 3.5 0a1.75 1.75 0 1 0 -3.5 0M297.95 394.00a1.75 1.75 0 1 0 3.5 0a1.75 1.75 0 1 0 -3.5 0M299.10 295.07a1.75 1.75 0 1 0 3.5 0a1.75 1.75 0 1 0 -3.5 0M300.25 349.55a1.75 1.75 0 1 0 3.5 0a1.75 1.75 0 1 0 -3.5 0M301.39 402.60a1.75 1.75 0 1 0 3.5 0a1.75 1.75 0 1 0 -3.5 0M302.54 335.22a1.75 1.75 0 1 0 3.5 0a1.75 1.75 0 1 0 -3.5 0M303.69 280.16a1.75 1.75 0 1 0 3.5 0a1.75 1.75 0 1 0 -3.5 0M304.83 389.70a1.75 1.75 0 1 0 3.5 0a1.75 1.75 0 1 0 -3.5 0M305.98 401.16a1.75 1.75 0 1 0 3.5 0a1.75 1.75 0 1 0 -3.5 0M307.13 330.91a1.75 1.75 0 1 0 3.5 0a1.75 1.75 0 1 0 -3.5 0M308.28 332.35a1.75 1.75 0 1 0 3.5 0a1.75 1.75 0 1 0 -3.5 0M309.42 402.60a1.75 1.75 0 1 0 3.5 0a1.75 1.75 0 1 0 -3.5 0M310.57 309.41a1.75 1.75 0 1 0 3.5 0a1.75 1.75 0 1 0 -3.5 0M311.43 300.81a1.75 1.75 0 1 0 3.5 0a1.75 1.75 0 1 0 -3.5 0M312.58 358.15a1.75 1.75 0 1 0 3.5 0a1.75 1.75 0 1 0 -3.5 0M313.72 382.53a1.75 1.75 0 1 0 3.5 0a1.75 1.75 0 1 0 -3.5 0M314.87 343.82a1.75 1.75 0 1 0 3.5 0a1.75 1.75 0 1 0 -3.5 0M316.02 300.81a1.75 1.75 0 1 0 3.5 0a1.75 1.75 0 1 0 -3.5 0M317.16 326.61a1.75 1.75 0 1 0 3.5 0a1.75 1.75 0 1 0 -3.5 0M318.31 402.60a1.75 1.75 0 1 0 3.5 0a1.75 1.75 0 1 0 -3.5 0M319.46 286.47a1.75 1.75 0 1 0 3.5 0a1.75 1.75 0 1 0 -3.5 0M320.60 355.29a1.75 1.75 0 1 0 3.5 0a1.75 1.75 0 1 0 -3.5 0M321.75 280.73a1.75 1.75 0 1 0 3.5 0a1.75 1.75 0 1 0 -3.5 0M322.90 401.16a1.75 1.75 0 1 0 3.5 0a1.75 1.75 0 1 0 -3.5 0M323.76 317.44a1.75 1.75 0 1 0 3.5 0a1.75 1.75 0 1 0 -3.5 0M324.91 381.09a1.75 1.75 0 1 0 3.5 0a1.75 1.75 0 1 0 -3.5 0M326.05 401.16a1.75 1.75 0 1 0 3.5 0a1.75 1.75 0 1 0 -3.5 0M327.20 302.24a1.75 1.75 0 1 0 3.5 0a1.75 1.75 0 1 0 -3.5 0M328.35 352.42a1.75 1.75 0 1 0 3.5 0a1.75 1.75 0 1 0 -3.5 0M329.49 386.83a1.75 1.75 0 1 0 3.5 0a1.75 1.75 0 1 0 -3.5 0M330.64 280.73a1.75 1.75 0 1 0 3.5 0a1.75 1.75 0 1 0 -3.5 0M331.79 343.82a1.75 1.75 0 1 0 3.5 0a1.75 1.75 0 1 0 -3.5 0M332.93 280.73a1.75 1.75 0 1 0 3.5 0a1.75 1.75 0 1 0 -3.5 0M333.79 401.16a1.75 1.75 0 1 0 3.5 0a1.75 1.75 0 1 0 -3.5 0M334.66 289.34a1.75 1.75 0 1 0 3.5 0a1.75 1.75 0 1 0 -3.5 0M335.80 306.54a1.75 1.75 0 1 0 3.5 0a1.75 1.75 0 1 0 -3.5 0M336.95 402.60a1.75 1.75 0 1 0 3.5 0a1.75 1.75 0 1 0 -3.5 0M338.10 352.42a1.75 1.75 0 1 0 3.5 0a1.75 1.75 0 1 0 -3.5 0M339.24 287.90a1.75 1.75 0 1 0 3.5 0a1.75 1.75 0 1 0 -3.5 0M340.97 358.15a1.75 1.75 0 1 0 3.5 0a1.75 1.75 0 1 0 -3.5 0M342.12 287.90a1.75 1.75 0 1 0 3.5 0a1.75 1.75 0 1 0 -3.5 0M343.26 305.11a1.75 1.75 0 1 0 3.5 0a1.75 1.75 0 1 0 -3.5 0M344.41 401.16a1.75 1.75 0 1 0 3.5 0a1.75 1.75 0 1 0 -3.5 0M345.56 401.16a1.75 1.75 0 1 0 3.5 0a1.75 1.75 0 1 0 -3.5 0M346.71 381.09a1.75 1.75 0 1 0 3.5 0a1.75 1.75 0 1 0 -3.5 0M347.85 332.35a1.75 1.75 0 1 0 3.5 0a1.75 1.75 0 1 0 -3.5 0M349.00 375.36a1.75 1.75 0 1 0 3.5 0a1.75 1.75 0 1 0 -3.5 0M350.15 359.59a1.75 1.75 0 1 0 3.5 0a1.75 1.75 0 1 0 -3.5 0M350.72 279.30a1.75 1.75 0 1 0 3.5 0a1.75 1.75 0 1 0 -3.5 0M351.87 401.16a1.75 1.75 0 1 0 3.5 0a1.75 1.75 0 1 0 -3.5 0M353.01 336.65a1.75 1.75 0 1 0 3.5 0a1.75 1.75 0 1 0 -3.5 0M354.16 355.29a1.75 1.75 0 1 0 3.5 0a1.75 1.75 0 1 0 -3.5 0M355.31 401.16a1.75 1.75 0 1 0 3.5 0a1.75 1.75 0 1 0 -3.5 0M356.17 319.44a1.75 1.75 0 1 0 3.5 0a1.75 1.75 0 1 0 -3.5 0M357.31 375.36a1.75 1.75 0 1 0 3.5 0a1.75 1.75 0 1 0 -3.5 0M358.46 401.16a1.75 1.75 0 1 0 3.5 0a1.75 1.75 0 1 0 -3.5 0M359.61 363.89a1.75 1.75 0 1 0 3.5 0a1.75 1.75 0 1 0 -3.5 0M360.76 389.70a1.75 1.75 0 1 0 3.5 0a1.75 1.75 0 1 0 -3.5 0M361.62 401.16a1.75 1.75 0 1 0 3.5 0a1.75 1.75 0 1 0 -3.5 0M362.76 335.22a1.75 1.75 0 1 0 3.5 0a1.75 1.75 0 1 0 -3.5 0M363.91 295.65a1.75 1.75 0 1 0 3.5 0a1.75 1.75 0 1 0 -3.5 0M365.06 349.55a1.75 1.75 0 1 0 3.5 0a1.75 1.75 0 1 0 -3.5 0M366.20 401.16a1.75 1.75 0 1 0 3.5 0a1.75 1.75 0 1 0 -3.5 0M366.78 283.60a1.75 1.75 0 1 0 3.5 0a1.75 1.75 0 1 0 -3.5 0M367.92 383.96a1.75 1.75 0 1 0 3.5 0a1.75 1.75 0 1 0 -3.5 0M369.07 283.03a1.75 1.75 0 1 0 3.5 0a1.75 1.75 0 1 0 -3.5 0M370.22 307.97a1.75 1.75 0 1 0 3.5 0a1.75 1.75 0 1 0 -3.5 0M371.36 401.16a1.75 1.75 0 1 0 3.5 0a1.75 1.75 0 1 0 -3.5 0M372.22 340.95a1.75 1.75 0 1 0 3.5 0a1.75 1.75 0 1 0 -3.5 0M373.09 283.60a1.75 1.75 0 1 0 3.5 0a1.75 1.75 0 1 0 -3.5 0M374.23 375.36a1.75 1.75 0 1 0 3.5 0a1.75 1.75 0 1 0 -3.5 0M375.38 368.19a1.75 1.75 0 1 0 3.5 0a1.75 1.75 0 1 0 -3.5 0M375.95 287.90a1.75 1.75 0 1 0 3.5 0a1.75 1.75 0 1 0 -3.5 0M377.10 320.88a1.75 1.75 0 1 0 3.5 0a1.75 1.75 0 1 0 -3.5 0M378.25 394.00a1.75 1.75 0 1 0 3.5 0a1.75 1.75 0 1 0 -3.5 0M379.39 401.16a1.75 1.75 0 1 0 3.5 0a1.75 1.75 0 1 0 -3.5 0M380.54 375.36a1.75 1.75 0 1 0 3.5 0a1.75 1.75 0 1 0 -3.5 0M381.69 395.43a1.75 1.75 0 1 0 3.5 0a1.75 1.75 0 1 0 -3.5 0M382.83 366.76a1.75 1.75 0 1 0 3.5 0a1.75 1.75 0 1 0 -3.5 0M383.98 376.79a1.75 1.75 0 1 0 3.5 0a1.75 1.75 0 1 0 -3.5 0M384.84 326.61a1.75 1.75 0 1 0 3.5 0a1.75 1.75 0 1 0 -3.5 0M385.99 369.62a1.75 1.75 0 1 0 3.5 0a1.75 1.75 0 1 0 -3.5 0M387.14 381.09a1.75 1.75 0 1 0 3.5 0a1.75 1.75 0 1 0 -3.5 0M388.28 329.48a1.75 1.75 0 1 0 3.5 0a1.75 1.75 0 1 0 -3.5 0M389.43 285.90a1.75 1.75 0 1 0 3.5 0a1.75 1.75 0 1 0 -3.5 0M390.58 395.43a1.75 1.75 0 1 0 3.5 0a1.75 1.75 0 1 0 -3.5 0M391.72 352.42a1.75 1.75 0 1 0 3.5 0a1.75 1.75 0 1 0 -3.5 0M392.87 401.16a1.75 1.75 0 1 0 3.5 0a1.75 1.75 0 1 0 -3.5 0M393.73 293.64a1.75 1.75 0 1 0 3.5 0a1.75 1.75 0 1 0 -3.5 0M394.88 309.41a1.75 1.75 0 1 0 3.5 0a1.75 1.75 0 1 0 -3.5 0M396.02 363.89a1.75 1.75 0 1 0 3.5 0a1.75 1.75 0 1 0 -3.5 0M397.17 394.00a1.75 1.75 0 1 0 3.5 0a1.75 1.75 0 1 0 -3.5 0M398.32 349.55a1.75 1.75 0 1 0 3.5 0a1.75 1.75 0 1 0 -3.5 0M399.47 372.49a1.75 1.75 0 1 0 3.5 0a1.75 1.75 0 1 0 -3.5 0M400.61 401.16a1.75 1.75 0 1 0 3.5 0a1.75 1.75 0 1 0 -3.5 0M401.76 296.51a1.75 1.75 0 1 0 3.5 0a1.75 1.75 0 1 0 -3.5 0M402.62 280.73a1.75 1.75 0 1 0 3.5 0a1.75 1.75 0 1 0 -3.5 0M403.48 286.47a1.75 1.75 0 1 0 3.5 0a1.75 1.75 0 1 0 -3.5 0M404.63 383.96a1.75 1.75 0 1 0 3.5 0a1.75 1.75 0 1 0 -3.5 0M405.77 297.94a1.75 1.75 0 1 0 3.5 0a1.75 1.75 0 1 0 -3.5 0M406.92 343.82a1.75 1.75 0 1 0 3.5 0a1.75 1.75 0 1 0 -3.5 0M408.07 401.16a1.75 1.75 0 1 0 3.5 0a1.75 1.75 0 1 0 -3.5 0M409.21 392.56a1.75 1.75 0 1 0 3.5 0a1.75 1.75 0 1 0 -3.5 0M410.36 287.90a1.75 1.75 0 1 0 3.5 0a1.75 1.75 0 1 0 -3.5 0M411.51 401.16a1.75 1.75 0 1 0 3.5 0a1.75 1.75 0 1 0 -3.5 0M412.66 297.94a1.75 1.75 0 1 0 3.5 0a1.75 1.75 0 1 0 -3.5 0M413.80 335.22a1.75 1.75 0 1 0 3.5 0a1.75 1.75 0 1 0 -3.5 0M414.95 361.02a1.75 1.75 0 1 0 3.5 0a1.75 1.75 0 1 0 -3.5 0M415.55 401.16a1.75 1.75 0 1 0 3.5 0a1.75 1.75 0 1 0 -3.5 0" fill="#fbe2e5" fill-opacity="0.8" stroke="#ec6c7c" stroke-width="0.7"/>
</g>
<rect x="263.5" y="261.2" width="158.0" height="168.60000000000002" fill="none" stroke="#858585" stroke-width="1.2"/>
<path d="M265.40 430.40V428.75M266.16 430.40V428.28M266.93 430.40V428.28M267.69 430.40V428.40M268.45 430.40V427.76M269.22 430.40V428.34M269.98 430.40V427.04M270.74 430.40V427.80M271.51 430.40V428.72M272.27 430.40V428.01M273.03 430.40V427.92M273.80 430.40V428.59M274.56 430.40V428.55M275.32 430.40V428.33M276.09 430.40V428.23M276.85 430.40V426.29M277.61 430.40V427.83M278.38 430.40V427.01M279.14 430.40V428.57M279.90 430.40V428.10M280.67 430.40V428.22M281.43 430.40V427.33M282.19 430.40V428.55M282.96 430.40V426.60M283.72 430.40V428.45M284.48 430.40V428.47M285.25 430.40V427.48M286.01 430.40V427.76M286.77 430.40V428.10M287.54 430.40V428.77M288.30 430.40V410.99M289.06 430.40V428.72M289.83 430.40V426.73M290.59 430.40V427.90M291.35 430.40V427.89M292.12 430.40V428.52M292.88 430.40V427.57M293.64 430.40V428.01M294.41 430.40V427.19M295.17 430.40V427.33M295.93 430.40V423.68M296.70 430.40V428.74M297.46 430.40V427.83M298.22 430.40V428.10M298.99 430.40V428.29M299.75 430.40V427.99M300.51 430.40V428.67M301.28 430.40V428.49M302.04 430.40V427.29M302.80 430.40V428.35M303.57 430.40V428.54M304.33 430.40V427.43M305.09 430.40V382.39M305.86 430.40V428.61M306.62 430.40V428.06M307.38 430.40V428.79M308.15 430.40V428.15M308.91 430.40V428.41M309.67 430.40V428.19M310.44 430.40V428.13M311.20 430.40V427.65M311.96 430.40V427.33M312.73 430.40V428.18M313.49 430.40V427.50M314.25 430.40V428.37M315.02 430.40V428.51M315.78 430.40V428.05M316.54 430.40V428.49M317.31 430.40V428.65M318.07 430.40V427.25M318.83 430.40V428.72M319.60 430.40V427.79M320.36 430.40V428.25M321.12 430.40V427.68M321.89 430.40V427.12M322.65 430.40V428.34M323.41 430.40V426.58M324.18 430.40V416.76M324.94 430.40V428.53M325.70 430.40V425.96M326.47 430.40V427.88M327.23 430.40V428.69M327.99 430.40V426.90M328.76 430.40V419.53M329.52 430.40V426.52M330.28 430.40V427.36M331.05 430.40V427.29M331.81 430.40V427.37M332.57 430.40V428.60M333.34 430.40V428.09M334.10 430.40V428.23M334.86 430.40V428.59M335.63 430.40V426.68M336.39 430.40V426.85M337.15 430.40V428.72M337.92 430.40V428.67M338.68 430.40V428.14M339.44 430.40V428.61M340.21 430.40V428.58M340.97 430.40V427.76M341.73 430.40V428.67M342.49 430.40V428.31M343.26 430.40V423.22M344.02 430.40V428.66M344.78 430.40V428.70M345.55 430.40V428.42M346.31 430.40V428.16M347.07 430.40V428.57M347.84 430.40V428.52M348.60 430.40V428.23M349.36 430.40V427.54M350.13 430.40V424.84M350.89 430.40V428.78M351.65 430.40V424.89M352.42 430.40V427.81M353.18 430.40V427.84M353.94 430.40V428.63M354.71 430.40V427.66M355.47 430.40V427.52M356.23 430.40V428.70M357.00 430.40V428.74M357.76 430.40V427.64M358.52 430.40V427.65M359.29 430.40V428.53M360.05 430.40V428.78M360.81 430.40V426.44M361.58 430.40V428.16M362.34 430.40V427.65M363.10 430.40V427.95M363.87 430.40V428.63M364.63 430.40V428.76M365.39 430.40V428.03M366.16 430.40V428.54M366.92 430.40V426.54M367.68 430.40V428.57M368.45 430.40V428.52M369.21 430.40V427.49M369.97 430.40V428.17M370.74 430.40V427.66M371.50 430.40V423.68M372.26 430.40V427.47M373.03 430.40V408.00M373.79 430.40V428.33M374.55 430.40V427.00M375.32 430.40V428.30M376.08 430.40V428.78M376.84 430.40V428.24M377.61 430.40V426.58M378.37 430.40V426.45M379.13 430.40V427.29M379.90 430.40V427.95M380.66 430.40V427.39M381.42 430.40V428.31M382.19 430.40V427.26M382.95 430.40V428.25M383.71 430.40V427.53M384.48 430.40V427.84M385.24 430.40V427.39M386.00 430.40V428.51M386.77 430.40V426.27M387.53 430.40V428.37M388.29 430.40V428.68M389.06 430.40V425.97M389.82 430.40V428.28M390.58 430.40V428.63M391.35 430.40V428.50M392.11 430.40V428.33M392.87 430.40V428.45M393.64 430.40V427.16M394.40 430.40V428.47M395.16 430.40V428.17M395.93 430.40V425.53M396.69 430.40V427.84M397.45 430.40V427.70M398.22 430.40V428.74M398.98 430.40V426.22M399.74 430.40V428.78M400.51 430.40V428.71M401.27 430.40V428.64M402.03 430.40V428.71M402.80 430.40V428.40M403.56 430.40V428.41M404.32 430.40V428.08M405.09 430.40V426.97M405.85 430.40V427.78M406.61 430.40V427.81M407.38 430.40V428.25M408.14 430.40V428.28M408.90 430.40V422.53M409.67 430.40V427.91M410.43 430.40V427.29M411.19 430.40V427.58M411.96 430.40V427.45M412.72 430.40V428.56M413.48 430.40V428.51M414.25 430.40V428.75M415.01 430.40V427.72M415.77 430.40V428.07M416.54 430.40V427.78M417.30 430.40V427.64" stroke="#ff8a20" stroke-width="1.0" fill="none"/>
<path d="M261.30 429.80H263.5M261.30 403.86H263.5M261.30 377.92H263.5M261.30 351.98H263.5M261.30 326.05H263.5M261.30 300.11H263.5M261.30 274.17H263.5M262.20 416.83H263.5M262.20 390.89H263.5M262.20 364.95H263.5M262.20 339.02H263.5M262.20 313.08H263.5M262.20 287.14H263.5M421.50 429.80H423.70M421.50 401.70H423.70M421.50 373.60H423.70M421.50 345.50H423.70M421.50 317.40H423.70M421.50 289.30H423.70M421.50 261.20H423.70M421.50 415.75H422.80M421.50 387.65H422.80M421.50 359.55H422.80M421.50 331.45H422.80M421.50 303.35H422.80M421.50 275.25H422.80M265.40 429.8V433.10M303.38 429.8V433.10M341.35 429.8V433.10M379.32 429.8V433.10M417.30 429.8V433.10M284.39 429.8V431.80M322.36 429.8V431.80M360.34 429.8V431.80M398.31 429.8V431.80" stroke="#5a5a5a" stroke-width="1"/>
<text transform="translate(260.00,433.90) scale(0.735,1)" text-anchor="end">-0.2</text>
<text transform="translate(260.00,407.96) scale(0.735,1)" text-anchor="end">0.0</text>
<text transform="translate(260.00,382.02) scale(0.735,1)" text-anchor="end">0.2</text>
<text transform="translate(260.00,356.08) scale(0.735,1)" text-anchor="end">0.4</text>
<text transform="translate(260.00,330.15) scale(0.735,1)" text-anchor="end">0.6</text>
<text transform="translate(260.00,304.21) scale(0.735,1)" text-anchor="end">0.8</text>
<text transform="translate(260.00,278.27) scale(0.735,1)" text-anchor="end">1.0</text>
<text transform="translate(425.30,433.90) scale(0.735,1)" text-anchor="start">0.00</text>
<text transform="translate(425.30,405.80) scale(0.735,1)" text-anchor="start">0.10</text>
<text transform="translate(425.30,377.70) scale(0.735,1)" text-anchor="start">0.20</text>
<text transform="translate(425.30,349.60) scale(0.735,1)" text-anchor="start">0.30</text>
<text transform="translate(425.30,321.50) scale(0.735,1)" text-anchor="start">0.40</text>
<text transform="translate(425.30,293.40) scale(0.735,1)" text-anchor="start">0.50</text>
<text transform="translate(425.30,265.30) scale(0.735,1)" text-anchor="start">0.60</text>
<text transform="translate(265.40,445.50) scale(0.735,1)" text-anchor="middle">0</text>
<text transform="translate(303.38,445.50) scale(0.735,1)" text-anchor="middle">50</text>
<text transform="translate(341.35,445.50) scale(0.735,1)" text-anchor="middle">100</text>
<text transform="translate(379.32,445.50) scale(0.735,1)" text-anchor="middle">150</text>
<text transform="translate(417.30,445.50) scale(0.735,1)" text-anchor="middle">200</text>
<text transform="translate(343.35,465.60) scale(0.735,1)" text-anchor="middle">Forecasting Sample</text>
<text transform="translate(419.50,275.10) scale(0.735,1)" text-anchor="end">500 Hz</text>
<text transform="translate(241.10,444.50) rotate(-90) scale(1,0.78)" text-anchor="start" font-size="13.05">α</text>
<path d="M233.80 426.60C234.50 431.30 240.30 431.30 241.00 426.60" fill="none" stroke="#111" stroke-width="1.1"/>
<text transform="translate(241.10,423.80) rotate(-90) scale(1,0.78)" text-anchor="start" font-size="13.05">Sound Absorption Coefficient</text>
<path d="M233.80 257.70C234.50 253.00 240.30 253.00 241.00 257.70" fill="none" stroke="#111" stroke-width="1.1"/>
<text transform="translate(452.20,345.50) rotate(-90) scale(1,0.78)" text-anchor="middle" font-size="13.05">Error</text>
<clipPath id="c5"><rect x="494.8" y="261.2" width="157.7" height="168.60000000000002"/></clipPath>
<g clip-path="url(#c5)">
<polyline points="497.00,413.83 497.57,412.34 497.96,412.34 498.76,294.87 499.15,294.87 499.95,294.28 500.75,410.86 501.14,410.86 501.94,413.83 502.33,413.83 502.72,413.83 503.52,410.86 503.91,410.86 504.71,393.01 505.10,393.01 505.90,382.60 505.99,382.60 506.79,340.97 507.59,363.27 507.68,363.27 508.48,413.83 508.87,413.83 508.96,413.83 509.76,382.60 509.85,382.60 510.65,351.38 511.04,351.38 511.84,299.33 512.64,315.69 513.03,315.69 513.83,351.38 513.93,351.38 514.73,403.42 514.82,403.42 515.21,403.42 516.01,384.09 516.10,384.09 516.90,302.30 516.99,302.30 517.79,282.38 518.59,305.28 518.98,305.28 519.78,410.86 520.17,410.86 520.26,410.86 521.06,394.50 521.86,412.34 522.25,412.34 522.34,412.34 523.14,327.58 523.94,349.89 524.33,349.89 525.13,413.83 525.23,413.83 525.32,413.83 526.12,390.04 526.92,401.93 527.01,401.93 527.10,401.93 527.90,284.46 528.70,302.30 529.09,302.30 529.89,410.86 529.99,410.86 530.08,410.86 530.88,337.99 531.68,404.91 532.07,404.91 532.16,404.91 532.96,391.52 533.05,391.52 533.85,360.30 534.65,410.86 535.04,410.86 535.13,410.86 535.93,404.91 536.32,404.91 537.12,372.19 537.21,372.19 538.01,335.02 538.81,340.97 539.20,340.97 540.00,410.86 540.10,410.86 540.49,410.86 541.29,376.65 542.09,410.86 542.18,410.86 542.27,410.86 543.07,384.09 543.16,384.09 543.96,361.78 544.35,361.78 545.15,310.33 545.95,339.48 546.34,339.48 547.14,385.58 547.53,385.58 547.92,385.58 548.72,372.19 549.52,393.01 549.91,393.01 550.71,398.96 551.10,398.96 551.49,398.96 552.29,385.58 553.09,410.86 553.48,410.86 553.57,410.86 554.37,342.45 554.46,342.45 555.26,286.54 556.06,342.45 556.45,342.45 556.55,342.45 557.35,285.95 557.74,285.95 558.54,280.59 559.34,291.90 559.43,291.90 560.23,410.86 560.62,410.86 561.01,410.86 561.81,284.46 562.61,343.94 563.00,343.94 563.80,410.86 564.19,410.86 564.58,410.86 565.38,378.14 566.18,393.01 566.57,393.01 567.37,404.91 567.75,404.91 568.55,413.83 568.94,413.83 569.04,413.83 569.84,307.36 570.64,308.25 571.03,308.25 571.83,410.86 571.92,410.86 572.39,410.86 573.19,286.54 573.99,401.93 574.38,401.93 575.18,410.86 575.57,410.86 575.96,410.86 576.76,409.37 577.15,409.37 577.95,401.93 578.34,401.93 579.14,318.66 579.23,318.66 580.03,300.82 580.83,367.73 581.22,367.73 581.61,367.73 582.41,330.56 583.21,369.22 583.60,369.22 583.99,369.22 584.79,290.41 584.88,290.41 585.68,280.59 586.48,369.22 586.87,369.22 587.67,410.86 588.06,410.86 588.45,410.86 589.25,382.60 589.64,382.60 590.44,364.76 591.24,382.60 591.63,382.60 592.02,382.60 592.82,311.23 593.21,311.23 594.01,288.92 594.81,381.12 595.20,381.12 596.00,397.47 596.39,397.47 596.78,397.47 597.58,339.48 598.38,401.93 598.77,401.93 599.16,401.93 599.96,352.86 600.76,394.50 601.14,394.50 601.53,394.50 602.33,301.41 603.13,343.94 603.52,343.94 604.32,415.32 604.71,415.32 604.81,415.32 605.61,297.25 606.41,378.14 606.80,378.14 607.19,378.14 607.99,367.73 608.79,401.93 609.17,401.93 609.27,401.93 610.07,349.00 610.87,407.88 611.26,407.88 611.65,407.88 612.45,401.93 613.25,413.83 613.64,413.83 614.03,413.83 614.83,379.63 615.63,381.12 616.01,381.12 616.81,391.52 617.20,391.52 618.00,410.86 618.39,410.86 618.78,410.86 619.58,393.01 620.38,401.93 620.77,401.93 621.16,401.93 621.96,311.23 622.56,330.56 623.36,349.89 623.75,349.89 624.55,357.32 624.94,357.32 625.33,357.32 626.13,296.36 626.52,296.36 627.32,280.59 628.12,348.40 628.51,348.40 629.31,401.93 629.70,401.93 630.08,401.93 630.88,289.52 631.68,293.38 632.07,293.38 632.87,329.07 633.26,329.07 634.06,352.86 634.45,352.86 635.25,410.86 635.64,410.86 636.03,410.86 636.83,378.14 637.22,378.14 638.02,312.71 638.82,346.91 639.21,346.91 640.01,401.93 640.40,401.93 640.79,401.93 641.59,352.86 642.39,384.09 642.78,384.09 642.87,384.09 643.67,280.59 644.47,410.86 644.86,410.86 645.25,410.86 646.05,343.94 646.85,364.76 647.24,364.76 648.04,401.93 648.43,401.93 648.60,413.83" fill="none" stroke="#3030f0" stroke-width="0.35" stroke-linejoin="round"/>
<path d="M610.10 345.00V351.00" stroke="#3535ee" stroke-width="1.1"/>
<polyline points="497.00,413.83 497.57,412.34 497.96,412.34 498.76,294.87 499.15,294.87 499.95,294.28 500.75,410.86 501.14,410.86 501.94,413.83 502.33,413.83 502.72,413.83 503.52,410.86 503.91,410.86 504.71,393.01 505.10,393.01 505.90,382.60 505.99,382.60 506.79,340.97 507.59,363.27 507.68,363.27 508.48,413.83 508.87,413.83 508.96,413.83 509.76,382.60 509.85,382.60 510.65,351.38 511.04,351.38 511.84,299.33 512.64,315.69 513.03,315.69 513.83,351.38 513.93,351.38 514.73,403.42 514.82,403.42 515.21,403.42 516.01,384.09 516.10,384.09 516.90,302.30 516.99,302.30 517.79,282.38 518.59,305.28 518.98,305.28 519.78,410.86 520.17,410.86 520.26,410.86 521.06,394.50 521.86,412.34 522.25,412.34 522.34,412.34 523.14,327.58 523.94,349.89 524.33,349.89 525.13,413.83 525.23,413.83 525.32,413.83 526.12,390.04 526.92,401.93 527.01,401.93 527.10,401.93 527.90,284.46 528.70,302.30 529.09,302.30 529.89,410.86 529.99,410.86 530.08,410.86 530.88,337.99 531.68,404.91 532.07,404.91 532.16,404.91 532.96,391.52 533.05,391.52 533.85,360.30 534.65,410.86 535.04,410.86 535.13,410.86 535.93,404.91 536.32,404.91 537.12,372.19 537.21,372.19 538.01,335.02 538.81,340.97 539.20,340.97 540.00,410.86 540.10,410.86 540.49,410.86 541.29,376.65 542.09,410.86 542.18,410.86 542.27,410.86 543.07,384.09 543.16,384.09 543.96,361.78 544.35,361.78 545.15,310.33 545.95,339.48 546.34,339.48 547.14,385.58 547.53,385.58 547.92,385.58 548.72,372.19 549.52,393.01 549.91,393.01 550.71,398.96 551.10,398.96 551.49,398.96 552.29,385.58 553.09,410.86 553.48,410.86 553.57,410.86 554.37,342.45 554.46,342.45 555.26,286.54 556.06,342.45 556.45,342.45 556.55,342.45 557.35,285.95 557.74,285.95 558.54,280.59 559.34,291.90 559.43,291.90 560.23,410.86 560.62,410.86 561.01,410.86 561.81,284.46 562.61,343.94 563.00,343.94 563.80,410.86 564.19,410.86 564.58,410.86 565.38,378.14 566.18,393.01 566.57,393.01 567.37,404.91 567.75,404.91 568.55,413.83 568.94,413.83 569.04,413.83 569.84,307.36 570.64,308.25 571.03,308.25 571.83,410.86 571.92,410.86 572.39,410.86 573.19,286.54 573.99,401.93 574.38,401.93 575.18,410.86 575.57,410.86 575.96,410.86 576.76,409.37 577.15,409.37 577.95,401.93 578.34,401.93 579.14,318.66 579.23,318.66 580.03,300.82 580.83,367.73 581.22,367.73 581.61,367.73 582.41,330.56 583.21,369.22 583.60,369.22 583.99,369.22 584.79,290.41 584.88,290.41 585.68,280.59 586.48,369.22 586.87,369.22 587.67,410.86 588.06,410.86 588.45,410.86 589.25,382.60 589.64,382.60 590.44,364.76 591.24,382.60 591.63,382.60 592.02,382.60 592.82,311.23 593.21,311.23 594.01,288.92 594.81,381.12 595.20,381.12 596.00,397.47 596.39,397.47 596.78,397.47 597.58,339.48 598.38,401.93 598.77,401.93 599.16,401.93 599.96,352.86 600.76,394.50 601.14,394.50 601.53,394.50 602.33,301.41 603.13,343.94 603.52,343.94 604.32,415.32 604.71,415.32 604.81,415.32 605.61,297.25 606.41,378.14 606.80,378.14 607.19,378.14 607.99,367.73 608.79,401.93 609.17,401.93 609.27,401.93 610.07,349.00 610.87,407.88 611.26,407.88 611.65,407.88 612.45,401.93 613.25,413.83 613.64,413.83 614.03,413.83 614.83,379.63 615.63,381.12 616.01,381.12 616.81,391.52 617.20,391.52 618.00,410.86 618.39,410.86 618.78,410.86 619.58,393.01 620.38,401.93 620.77,401.93 621.16,401.93 621.96,311.23 622.56,330.56 623.36,349.89 623.75,349.89 624.55,357.32 624.94,357.32 625.33,357.32 626.13,296.36 626.52,296.36 627.32,280.59 628.12,348.40 628.51,348.40 629.31,401.93 629.70,401.93 630.08,401.93 630.88,289.52 631.68,293.38 632.07,293.38 632.87,329.07 633.26,329.07 634.06,352.86 634.45,352.86 635.25,410.86 635.64,410.86 636.03,410.86 636.83,378.14 637.22,378.14 638.02,312.71 638.82,346.91 639.21,346.91 640.01,401.93 640.40,401.93 640.79,401.93 641.59,352.86 642.39,384.09 642.78,384.09 642.87,384.09 643.67,280.59 644.47,410.86 644.86,410.86 645.25,410.86 646.05,343.94 646.85,364.76 647.24,364.76 648.04,401.93 648.43,401.93 648.60,413.83" fill="none" stroke="#dc3450" stroke-width="1.05" stroke-linejoin="round"/>
<path d="M499.95 295.68V297.08M506.79 342.37V343.77M511.84 300.73V302.13M517.79 283.78V285.18M521.06 395.90V397.30M523.14 328.98V330.38M526.12 391.44V392.84M527.90 285.86V287.26M530.88 339.39V340.79M533.85 361.70V363.10M538.01 336.42V337.82M541.29 378.05V379.45M545.15 311.73V313.13M548.72 373.59V374.99M552.29 386.98V388.38M555.26 287.94V289.34M558.54 281.99V283.39M561.81 285.86V287.26M565.38 379.54V380.94M569.84 308.76V310.16M573.19 287.94V289.34M580.03 302.22V303.62M582.41 331.96V333.36M585.68 281.99V283.39M590.44 366.16V367.56M594.01 290.32V291.72M597.58 340.88V342.28M599.96 354.26V355.66M602.33 302.81V304.21M605.61 298.65V300.05M607.99 369.13V370.53M610.07 350.40V351.80M612.45 403.33V404.73M614.83 381.03V382.43M619.58 394.41V395.81M621.96 312.63V314.03M627.32 281.99V283.39M630.88 290.92V292.32M638.02 314.11V315.51M641.59 354.26V355.66M643.67 281.99V283.39M646.05 345.34V346.74" stroke="#5040e0" stroke-width="1.1" opacity="0.8"/>
<path d="M495.25 413.83a1.75 1.75 0 1 0 3.5 0a1.75 1.75 0 1 0 -3.5 0M495.82 412.34a1.75 1.75 0 1 0 3.5 0a1.75 1.75 0 1 0 -3.5 0M497.01 294.87a1.75 1.75 0 1 0 3.5 0a1.75 1.75 0 1 0 -3.5 0M498.20 294.28a1.75 1.75 0 1 0 3.5 0a1.75 1.75 0 1 0 -3.5 0M499.39 410.86a1.75 1.75 0 1 0 3.5 0a1.75 1.75 0 1 0 -3.5 0M500.58 413.83a1.75 1.75 0 1 0 3.5 0a1.75 1.75 0 1 0 -3.5 0M501.77 410.86a1.75 1.75 0 1 0 3.5 0a1.75 1.75 0 1 0 -3.5 0M502.96 393.01a1.75 1.75 0 1 0 3.5 0a1.75 1.75 0 1 0 -3.5 0M504.15 382.60a1.75 1.75 0 1 0 3.5 0a1.75 1.75 0 1 0 -3.5 0M505.04 340.97a1.75 1.75 0 1 0 3.5 0a1.75 1.75 0 1 0 -3.5 0M505.93 363.27a1.75 1.75 0 1 0 3.5 0a1.75 1.75 0 1 0 -3.5 0M507.12 413.83a1.75 1.75 0 1 0 3.5 0a1.75 1.75 0 1 0 -3.5 0M508.01 382.60a1.75 1.75 0 1 0 3.5 0a1.75 1.75 0 1 0 -3.5 0M508.90 351.38a1.75 1.75 0 1 0 3.5 0a1.75 1.75 0 1 0 -3.5 0M510.09 299.33a1.75 1.75 0 1 0 3.5 0a1.75 1.75 0 1 0 -3.5 0M511.28 315.69a1.75 1.75 0 1 0 3.5 0a1.75 1.75 0 1 0 -3.5 0M512.18 351.38a1.75 1.75 0 1 0 3.5 0a1.75 1.75 0 1 0 -3.5 0M513.07 403.42a1.75 1.75 0 1 0 3.5 0a1.75 1.75 0 1 0 -3.5 0M514.26 384.09a1.75 1.75 0 1 0 3.5 0a1.75 1.75 0 1 0 -3.5 0M515.15 302.30a1.75 1.75 0 1 0 3.5 0a1.75 1.75 0 1 0 -3.5 0M516.04 282.38a1.75 1.75 0 1 0 3.5 0a1.75 1.75 0 1 0 -3.5 0M517.23 305.28a1.75 1.75 0 1 0 3.5 0a1.75 1.75 0 1 0 -3.5 0M518.42 410.86a1.75 1.75 0 1 0 3.5 0a1.75 1.75 0 1 0 -3.5 0M519.31 394.50a1.75 1.75 0 1 0 3.5 0a1.75 1.75 0 1 0 -3.5 0M520.50 412.34a1.75 1.75 0 1 0 3.5 0a1.75 1.75 0 1 0 -3.5 0M521.39 327.58a1.75 1.75 0 1 0 3.5 0a1.75 1.75 0 1 0 -3.5 0M522.58 349.89a1.75 1.75 0 1 0 3.5 0a1.75 1.75 0 1 0 -3.5 0M523.48 413.83a1.75 1.75 0 1 0 3.5 0a1.75 1.75 0 1 0 -3.5 0M524.37 390.04a1.75 1.75 0 1 0 3.5 0a1.75 1.75 0 1 0 -3.5 0M525.26 401.93a1.75 1.75 0 1 0 3.5 0a1.75 1.75 0 1 0 -3.5 0M526.15 284.46a1.75 1.75 0 1 0 3.5 0a1.75 1.75 0 1 0 -3.5 0M527.34 302.30a1.75 1.75 0 1 0 3.5 0a1.75 1.75 0 1 0 -3.5 0M528.24 410.86a1.75 1.75 0 1 0 3.5 0a1.75 1.75 0 1 0 -3.5 0M529.13 337.99a1.75 1.75 0 1 0 3.5 0a1.75 1.75 0 1 0 -3.5 0M530.32 404.91a1.75 1.75 0 1 0 3.5 0a1.75 1.75 0 1 0 -3.5 0M531.21 391.52a1.75 1.75 0 1 0 3.5 0a1.75 1.75 0 1 0 -3.5 0M532.10 360.30a1.75 1.75 0 1 0 3.5 0a1.75 1.75 0 1 0 -3.5 0M533.29 410.86a1.75 1.75 0 1 0 3.5 0a1.75 1.75 0 1 0 -3.5 0M534.18 404.91a1.75 1.75 0 1 0 3.5 0a1.75 1.75 0 1 0 -3.5 0M535.37 372.19a1.75 1.75 0 1 0 3.5 0a1.75 1.75 0 1 0 -3.5 0M536.26 335.02a1.75 1.75 0 1 0 3.5 0a1.75 1.75 0 1 0 -3.5 0M537.45 340.97a1.75 1.75 0 1 0 3.5 0a1.75 1.75 0 1 0 -3.5 0M538.35 410.86a1.75 1.75 0 1 0 3.5 0a1.75 1.75 0 1 0 -3.5 0M539.54 376.65a1.75 1.75 0 1 0 3.5 0a1.75 1.75 0 1 0 -3.5 0M540.43 410.86a1.75 1.75 0 1 0 3.5 0a1.75 1.75 0 1 0 -3.5 0M541.32 384.09a1.75 1.75 0 1 0 3.5 0a1.75 1.75 0 1 0 -3.5 0M542.21 361.78a1.75 1.75 0 1 0 3.5 0a1.75 1.75 0 1 0 -3.5 0M543.40 310.33a1.75 1.75 0 1 0 3.5 0a1.75 1.75 0 1 0 -3.5 0M544.59 339.48a1.75 1.75 0 1 0 3.5 0a1.75 1.75 0 1 0 -3.5 0M545.78 385.58a1.75 1.75 0 1 0 3.5 0a1.75 1.75 0 1 0 -3.5 0M546.97 372.19a1.75 1.75 0 1 0 3.5 0a1.75 1.75 0 1 0 -3.5 0M548.16 393.01a1.75 1.75 0 1 0 3.5 0a1.75 1.75 0 1 0 -3.5 0M549.35 398.96a1.75 1.75 0 1 0 3.5 0a1.75 1.75 0 1 0 -3.5 0M550.54 385.58a1.75 1.75 0 1 0 3.5 0a1.75 1.75 0 1 0 -3.5 0M551.73 410.86a1.75 1.75 0 1 0 3.5 0a1.75 1.75 0 1 0 -3.5 0M552.62 342.45a1.75 1.75 0 1 0 3.5 0a1.75 1.75 0 1 0 -3.5 0M553.51 286.54a1.75 1.75 0 1 0 3.5 0a1.75 1.75 0 1 0 -3.5 0M554.70 342.45a1.75 1.75 0 1 0 3.5 0a1.75 1.75 0 1 0 -3.5 0M555.60 285.95a1.75 1.75 0 1 0 3.5 0a1.75 1.75 0 1 0 -3.5 0M556.79 280.59a1.75 1.75 0 1 0 3.5 0a1.75 1.75 0 1 0 -3.5 0M557.68 291.90a1.75 1.75 0 1 0 3.5 0a1.75 1.75 0 1 0 -3.5 0M558.87 410.86a1.75 1.75 0 1 0 3.5 0a1.75 1.75 0 1 0 -3.5 0M560.06 284.46a1.75 1.75 0 1 0 3.5 0a1.75 1.75 0 1 0 -3.5 0M561.25 343.94a1.75 1.75 0 1 0 3.5 0a1.75 1.75 0 1 0 -3.5 0M562.44 410.86a1.75 1.75 0 1 0 3.5 0a1.75 1.75 0 1 0 -3.5 0M563.63 378.14a1.75 1.75 0 1 0 3.5 0a1.75 1.75 0 1 0 -3.5 0M564.82 393.01a1.75 1.75 0 1 0 3.5 0a1.75 1.75 0 1 0 -3.5 0M566.00 404.91a1.75 1.75 0 1 0 3.5 0a1.75 1.75 0 1 0 -3.5 0M567.19 413.83a1.75 1.75 0 1 0 3.5 0a1.75 1.75 0 1 0 -3.5 0M568.09 307.36a1.75 1.75 0 1 0 3.5 0a1.75 1.75 0 1 0 -3.5 0M569.28 308.25a1.75 1.75 0 1 0 3.5 0a1.75 1.75 0 1 0 -3.5 0M570.17 410.86a1.75 1.75 0 1 0 3.5 0a1.75 1.75 0 1 0 -3.5 0M571.44 286.54a1.75 1.75 0 1 0 3.5 0a1.75 1.75 0 1 0 -3.5 0M572.63 401.93a1.75 1.75 0 1 0 3.5 0a1.75 1.75 0 1 0 -3.5 0M573.82 410.86a1.75 1.75 0 1 0 3.5 0a1.75 1.75 0 1 0 -3.5 0M575.01 409.37a1.75 1.75 0 1 0 3.5 0a1.75 1.75 0 1 0 -3.5 0M576.20 401.93a1.75 1.75 0 1 0 3.5 0a1.75 1.75 0 1 0 -3.5 0M577.39 318.66a1.75 1.75 0 1 0 3.5 0a1.75 1.75 0 1 0 -3.5 0M578.28 300.82a1.75 1.75 0 1 0 3.5 0a1.75 1.75 0 1 0 -3.5 0M579.47 367.73a1.75 1.75 0 1 0 3.5 0a1.75 1.75 0 1 0 -3.5 0M580.66 330.56a1.75 1.75 0 1 0 3.5 0a1.75 1.75 0 1 0 -3.5 0M581.85 369.22a1.75 1.75 0 1 0 3.5 0a1.75 1.75 0 1 0 -3.5 0M583.04 290.41a1.75 1.75 0 1 0 3.5 0a1.75 1.75 0 1 0 -3.5 0M583.93 280.59a1.75 1.75 0 1 0 3.5 0a1.75 1.75 0 1 0 -3.5 0M585.12 369.22a1.75 1.75 0 1 0 3.5 0a1.75 1.75 0 1 0 -3.5 0M586.31 410.86a1.75 1.75 0 1 0 3.5 0a1.75 1.75 0 1 0 -3.5 0M587.50 382.60a1.75 1.75 0 1 0 3.5 0a1.75 1.75 0 1 0 -3.5 0M588.69 364.76a1.75 1.75 0 1 0 3.5 0a1.75 1.75 0 1 0 -3.5 0M589.88 382.60a1.75 1.75 0 1 0 3.5 0a1.75 1.75 0 1 0 -3.5 0M591.07 311.23a1.75 1.75 0 1 0 3.5 0a1.75 1.75 0 1 0 -3.5 0M592.26 288.92a1.75 1.75 0 1 0 3.5 0a1.75 1.75 0 1 0 -3.5 0M593.45 381.12a1.75 1.75 0 1 0 3.5 0a1.75 1.75 0 1 0 -3.5 0M594.64 397.47a1.75 1.75 0 1 0 3.5 0a1.75 1.75 0 1 0 -3.5 0M595.83 339.48a1.75 1.75 0 1 0 3.5 0a1.75 1.75 0 1 0 -3.5 0M597.02 401.93a1.75 1.75 0 1 0 3.5 0a1.75 1.75 0 1 0 -3.5 0M598.21 352.86a1.75 1.75 0 1 0 3.5 0a1.75 1.75 0 1 0 -3.5 0M599.39 394.50a1.75 1.75 0 1 0 3.5 0a1.75 1.75 0 1 0 -3.5 0M600.58 301.41a1.75 1.75 0 1 0 3.5 0a1.75 1.75 0 1 0 -3.5 0M601.77 343.94a1.75 1.75 0 1 0 3.5 0a1.75 1.75 0 1 0 -3.5 0M602.96 415.32a1.75 1.75 0 1 0 3.5 0a1.75 1.75 0 1 0 -3.5 0M603.86 297.25a1.75 1.75 0 1 0 3.5 0a1.75 1.75 0 1 0 -3.5 0M605.05 378.14a1.75 1.75 0 1 0 3.5 0a1.75 1.75 0 1 0 -3.5 0M606.24 367.73a1.75 1.75 0 1 0 3.5 0a1.75 1.75 0 1 0 -3.5 0M607.42 401.93a1.75 1.75 0 1 0 3.5 0a1.75 1.75 0 1 0 -3.5 0M608.32 349.00a1.75 1.75 0 1 0 3.5 0a1.75 1.75 0 1 0 -3.5 0M609.51 407.88a1.75 1.75 0 1 0 3.5 0a1.75 1.75 0 1 0 -3.5 0M610.70 401.93a1.75 1.75 0 1 0 3.5 0a1.75 1.75 0 1 0 -3.5 0M611.89 413.83a1.75 1.75 0 1 0 3.5 0a1.75 1.75 0 1 0 -3.5 0M613.08 379.63a1.75 1.75 0 1 0 3.5 0a1.75 1.75 0 1 0 -3.5 0M614.26 381.12a1.75 1.75 0 1 0 3.5 0a1.75 1.75 0 1 0 -3.5 0M615.45 391.52a1.75 1.75 0 1 0 3.5 0a1.75 1.75 0 1 0 -3.5 0M616.64 410.86a1.75 1.75 0 1 0 3.5 0a1.75 1.75 0 1 0 -3.5 0M617.83 393.01a1.75 1.75 0 1 0 3.5 0a1.75 1.75 0 1 0 -3.5 0M619.02 401.93a1.75 1.75 0 1 0 3.5 0a1.75 1.75 0 1 0 -3.5 0M620.21 311.23a1.75 1.75 0 1 0 3.5 0a1.75 1.75 0 1 0 -3.5 0M620.81 330.56a1.75 1.75 0 1 0 3.5 0a1.75 1.75 0 1 0 -3.5 0M622.00 349.89a1.75 1.75 0 1 0 3.5 0a1.75 1.75 0 1 0 -3.5 0M623.19 357.32a1.75 1.75 0 1 0 3.5 0a1.75 1.75 0 1 0 -3.5 0M624.38 296.36a1.75 1.75 0 1 0 3.5 0a1.75 1.75 0 1 0 -3.5 0M625.57 280.59a1.75 1.75 0 1 0 3.5 0a1.75 1.75 0 1 0 -3.5 0M626.76 348.40a1.75 1.75 0 1 0 3.5 0a1.75 1.75 0 1 0 -3.5 0M627.95 401.93a1.75 1.75 0 1 0 3.5 0a1.75 1.75 0 1 0 -3.5 0M629.13 289.52a1.75 1.75 0 1 0 3.5 0a1.75 1.75 0 1 0 -3.5 0M630.32 293.38a1.75 1.75 0 1 0 3.5 0a1.75 1.75 0 1 0 -3.5 0M631.51 329.07a1.75 1.75 0 1 0 3.5 0a1.75 1.75 0 1 0 -3.5 0M632.70 352.86a1.75 1.75 0 1 0 3.5 0a1.75 1.75 0 1 0 -3.5 0M633.89 410.86a1.75 1.75 0 1 0 3.5 0a1.75 1.75 0 1 0 -3.5 0M635.08 378.14a1.75 1.75 0 1 0 3.5 0a1.75 1.75 0 1 0 -3.5 0M636.27 312.71a1.75 1.75 0 1 0 3.5 0a1.75 1.75 0 1 0 -3.5 0M637.46 346.91a1.75 1.75 0 1 0 3.5 0a1.75 1.75 0 1 0 -3.5 0M638.65 401.93a1.75 1.75 0 1 0 3.5 0a1.75 1.75 0 1 0 -3.5 0M639.84 352.86a1.75 1.75 0 1 0 3.5 0a1.75 1.75 0 1 0 -3.5 0M641.03 384.09a1.75 1.75 0 1 0 3.5 0a1.75 1.75 0 1 0 -3.5 0M641.92 280.59a1.75 1.75 0 1 0 3.5 0a1.75 1.75 0 1 0 -3.5 0M643.11 410.86a1.75 1.75 0 1 0 3.5 0a1.75 1.75 0 1 0 -3.5 0M644.30 343.94a1.75 1.75 0 1 0 3.5 0a1.75 1.75 0 1 0 -3.5 0M645.49 364.76a1.75 1.75 0 1 0 3.5 0a1.75 1.75 0 1 0 -3.5 0M646.68 401.93a1.75 1.75 0 1 0 3.5 0a1.75 1.75 0 1 0 -3.5 0M646.85 413.83a1.75 1.75 0 1 0 3.5 0a1.75 1.75 0 1 0 -3.5 0" fill="#fbe2e5" fill-opacity="0.8" stroke="#ec6c7c" stroke-width="0.7"/>
</g>
<rect x="494.8" y="261.2" width="157.7" height="168.60000000000002" fill="none" stroke="#858585" stroke-width="1.2"/>
<path d="M496.70 430.40V425.97M497.46 430.40V426.04M498.23 430.40V427.19M498.99 430.40V423.29M499.75 430.40V428.46M500.52 430.40V423.39M501.28 430.40V426.16M502.04 430.40V428.31M502.81 430.40V425.54M503.57 430.40V427.59M504.33 430.40V427.84M505.10 430.40V428.11M505.86 430.40V427.03M506.62 430.40V428.45M507.39 430.40V423.68M508.15 430.40V427.95M508.91 430.40V427.13M509.68 430.40V428.66M510.44 430.40V427.82M511.20 430.40V423.55M511.97 430.40V428.66M512.73 430.40V427.39M513.49 430.40V428.42M514.26 430.40V427.55M515.02 430.40V427.88M515.78 430.40V427.96M516.55 430.40V423.94M517.31 430.40V428.75M518.07 430.40V428.38M518.84 430.40V427.18M519.60 430.40V423.96M520.36 430.40V428.26M521.13 430.40V427.30M521.89 430.40V422.86M522.65 430.40V425.30M523.42 430.40V427.92M524.18 430.40V427.20M524.94 430.40V419.07M525.71 430.40V426.52M526.47 430.40V422.97M527.23 430.40V427.21M528.00 430.40V427.55M528.76 430.40V427.87M529.52 430.40V427.69M530.29 430.40V428.26M531.05 430.40V428.10M531.81 430.40V427.77M532.58 430.40V425.71M533.34 430.40V425.19M534.10 430.40V428.72M534.87 430.40V427.72M535.63 430.40V427.04M536.39 430.40V427.65M537.16 430.40V426.30M537.92 430.40V420.22M538.68 430.40V426.28M539.45 430.40V428.57M540.21 430.40V428.01M540.97 430.40V428.29M541.74 430.40V428.72M542.50 430.40V428.79M543.26 430.40V424.17M544.03 430.40V424.60M544.79 430.40V428.32M545.55 430.40V426.70M546.32 430.40V426.45M547.08 430.40V428.06M547.84 430.40V428.76M548.61 430.40V426.28M549.37 430.40V423.37M550.13 430.40V427.47M550.90 430.40V425.00M551.66 430.40V423.62M552.42 430.40V426.35M553.19 430.40V427.54M553.95 430.40V426.94M554.71 430.40V424.70M555.48 430.40V428.16M556.24 430.40V425.70M557.00 430.40V426.30M557.77 430.40V427.41M558.53 430.40V424.25M559.29 430.40V423.16M560.06 430.40V427.48M560.82 430.40V426.96M561.58 430.40V427.61M562.35 430.40V424.68M563.11 430.40V424.84M563.87 430.40V425.88M564.64 430.40V424.20M565.40 430.40V426.81M566.16 430.40V428.22M566.93 430.40V428.19M567.69 430.40V427.43M568.45 430.40V427.60M569.22 430.40V428.16M569.98 430.40V425.77M570.74 430.40V421.27M571.51 430.40V428.40M572.27 430.40V428.16M573.03 430.40V425.85M573.79 430.40V428.55M574.56 430.40V423.68M575.32 430.40V427.82M576.08 430.40V425.07M576.85 430.40V426.30M577.61 430.40V426.38M578.37 430.40V428.11M579.14 430.40V423.78M579.90 430.40V426.97M580.66 430.40V426.06M581.43 430.40V428.23M582.19 430.40V428.13M582.95 430.40V427.72M583.72 430.40V428.13M584.48 430.40V422.97M585.24 430.40V425.91M586.01 430.40V425.71M586.77 430.40V426.79M587.53 430.40V427.21M588.30 430.40V426.06M589.06 430.40V425.07M589.82 430.40V428.07M590.59 430.40V423.22M591.35 430.40V424.11M592.11 430.40V428.78M592.88 430.40V426.19M593.64 430.40V428.40M594.40 430.40V424.93M595.17 430.40V428.51M595.93 430.40V426.83M596.69 430.40V428.54M597.46 430.40V427.69M598.22 430.40V428.03M598.98 430.40V423.67M599.75 430.40V423.80M600.51 430.40V425.54M601.27 430.40V427.96M602.04 430.40V426.62M602.80 430.40V428.79M603.56 430.40V427.18M604.33 430.40V427.78M605.09 430.40V417.91M605.85 430.40V424.07M606.62 430.40V426.09M607.38 430.40V425.58M608.14 430.40V428.22M608.91 430.40V425.15M609.67 430.40V419.07M610.43 430.40V425.32M611.20 430.40V426.35M611.96 430.40V425.96M612.72 430.40V428.27M613.49 430.40V426.08M614.25 430.40V428.34M615.01 430.40V425.15M615.78 430.40V427.22M616.54 430.40V423.23M617.30 430.40V426.94M618.07 430.40V426.24M618.83 430.40V425.79M619.59 430.40V428.58M620.36 430.40V428.78M621.12 430.40V425.22M621.88 430.40V424.50M622.65 430.40V427.78M623.41 430.40V424.84M624.17 430.40V425.37M624.94 430.40V426.81M625.70 430.40V425.98M626.46 430.40V428.46M627.23 430.40V424.31M627.99 430.40V426.08M628.75 430.40V425.07M629.52 430.40V426.29M630.28 430.40V426.13M631.04 430.40V422.86M631.81 430.40V427.90M632.57 430.40V425.87M633.33 430.40V428.46M634.10 430.40V426.50M634.86 430.40V424.85M635.62 430.40V426.28M636.39 430.40V427.75M637.15 430.40V424.14M637.91 430.40V425.23M638.68 430.40V428.62M639.44 430.40V427.34M640.20 430.40V428.20M640.97 430.40V425.69M641.73 430.40V427.53M642.49 430.40V426.64M643.26 430.40V425.85M644.02 430.40V425.89M644.78 430.40V426.30M645.55 430.40V425.90M646.31 430.40V427.40M647.07 430.40V428.56M647.84 430.40V425.56M648.60 430.40V427.54" stroke="#ff8a20" stroke-width="1.0" fill="none"/>
<path d="M492.60 415.75H494.8M492.60 387.65H494.8M492.60 359.55H494.8M492.60 331.45H494.8M492.60 303.35H494.8M492.60 275.25H494.8M493.50 401.70H494.8M493.50 373.60H494.8M493.50 345.50H494.8M493.50 317.40H494.8M493.50 289.30H494.8M652.50 429.80H654.70M652.50 373.60H654.70M652.50 317.40H654.70M652.50 261.20H654.70M652.50 401.70H653.80M652.50 345.50H653.80M652.50 289.30H653.80M496.70 429.8V433.10M534.67 429.8V433.10M572.65 429.8V433.10M610.62 429.8V433.10M648.60 429.8V433.10M515.69 429.8V431.80M553.66 429.8V431.80M591.64 429.8V431.80M629.61 429.8V431.80" stroke="#5a5a5a" stroke-width="1"/>
<text transform="translate(491.30,419.85) scale(0.735,1)" text-anchor="end">0.0</text>
<text transform="translate(491.30,391.75) scale(0.735,1)" text-anchor="end">0.2</text>
<text transform="translate(491.30,363.65) scale(0.735,1)" text-anchor="end">0.4</text>
<text transform="translate(491.30,335.55) scale(0.735,1)" text-anchor="end">0.6</text>
<text transform="translate(491.30,307.45) scale(0.735,1)" text-anchor="end">0.8</text>
<text transform="translate(491.30,279.35) scale(0.735,1)" text-anchor="end">1.0</text>
<text transform="translate(656.30,433.90) scale(0.735,1)" text-anchor="start">0.00</text>
<text transform="translate(656.30,377.70) scale(0.735,1)" text-anchor="start">0.10</text>
<text transform="translate(656.30,321.50) scale(0.735,1)" text-anchor="start">0.20</text>
<text transform="translate(656.30,265.30) scale(0.735,1)" text-anchor="start">0.30</text>
<text transform="translate(496.70,445.50) scale(0.735,1)" text-anchor="middle">0</text>
<text transform="translate(534.67,445.50) scale(0.735,1)" text-anchor="middle">50</text>
<text transform="translate(572.65,445.50) scale(0.735,1)" text-anchor="middle">100</text>
<text transform="translate(610.62,445.50) scale(0.735,1)" text-anchor="middle">150</text>
<text transform="translate(648.60,445.50) scale(0.735,1)" text-anchor="middle">200</text>
<text transform="translate(574.50,465.60) scale(0.735,1)" text-anchor="middle">Forecasting Sample</text>
<text transform="translate(650.50,275.10) scale(0.735,1)" text-anchor="end">600 Hz</text>
<text transform="translate(475.70,444.50) rotate(-90) scale(1,0.78)" text-anchor="start" font-size="13.05">α</text>
<path d="M468.40 426.60C469.10 431.30 474.90 431.30 475.60 426.60" fill="none" stroke="#111" stroke-width="1.1"/>
<text transform="translate(475.70,423.80) rotate(-90) scale(1,0.78)" text-anchor="start" font-size="13.05">Sound Absorption Coefficient</text>
<path d="M468.40 257.70C469.10 253.00 474.90 253.00 475.60 257.70" fill="none" stroke="#111" stroke-width="1.1"/>
<text transform="translate(683.20,345.50) rotate(-90) scale(1,0.78)" text-anchor="middle" font-size="13.05">Error</text>
<path d="M455.7 8.2H473.9" stroke="#3a3af0" stroke-width="1.6"/>
<text transform="translate(476.60,12.60) scale(0.735,1)" text-anchor="start">Predictive Value</text>
<path d="M548 8.3H566" stroke="#f05060" stroke-width="1.6"/>
<circle cx="556.8" cy="8.3" r="1.8" fill="#fbd0d4" stroke="#f07080" stroke-width="0.8"/>
<text transform="translate(568.60,12.60) scale(0.735,1)" text-anchor="start">Actual Value</text>
<rect x="628.1" y="1.7" width="21.6" height="13.6" fill="#ff7f0e"/>
<text transform="translate(652.30,12.60) scale(0.735,1)" text-anchor="start">Error</text>
</svg></div></body></html>
